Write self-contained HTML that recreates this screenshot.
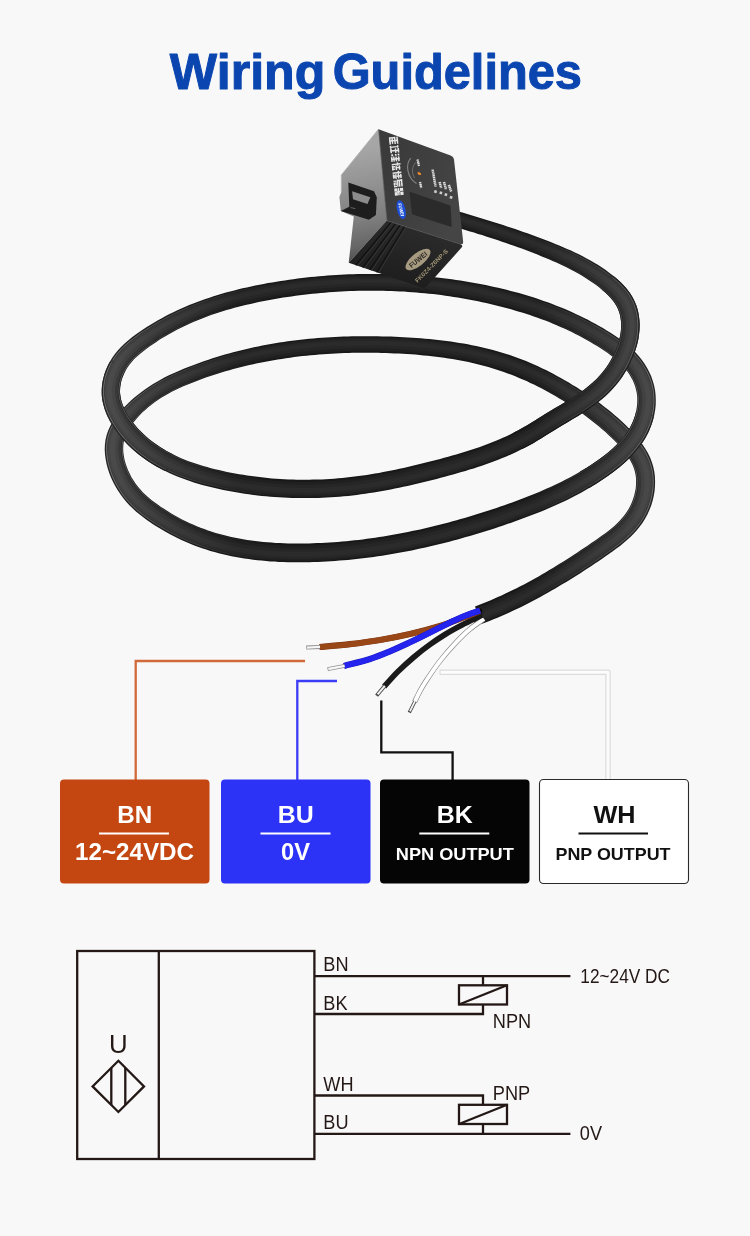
<!DOCTYPE html>
<html><head><meta charset="utf-8"><title>Wiring Guidelines</title>
<style>
html,body{margin:0;padding:0;background:#f8f8f8;}
body{width:750px;height:1236px;overflow:hidden;font-family:"Liberation Sans",sans-serif;}
svg{display:block;will-change:transform;}
</style></head><body>
<svg width="750" height="1236" viewBox="0 0 750 1236">
<rect width="750" height="1236" fill="#f8f8f8"/>
<g font-family="'Liberation Sans', sans-serif" font-weight="bold" font-size="50" fill="#0b46b0" stroke="#0b46b0" stroke-width="1" stroke-linejoin="round">
<text x="169.8" y="89" textLength="155.6" lengthAdjust="spacingAndGlyphs">Wiring</text>
<text x="332.7" y="89" textLength="249.3" lengthAdjust="spacingAndGlyphs">Guidelines</text>
</g>
<!-- CABLE -->
<defs>
<linearGradient id="cg0" gradientUnits="userSpaceOnUse" x1="100" y1="0" x2="660" y2="0">
<stop offset="0" stop-color="#262626"/><stop offset="0.2" stop-color="#181818"/><stop offset="0.8" stop-color="#181818"/><stop offset="1" stop-color="#242424"/></linearGradient>
<linearGradient id="cg1" gradientUnits="userSpaceOnUse" x1="100" y1="0" x2="660" y2="0">
<stop offset="0" stop-color="#3c3c3c"/><stop offset="0.1" stop-color="#303030"/><stop offset="0.25" stop-color="#202020"/><stop offset="0.78" stop-color="#202020"/><stop offset="0.9" stop-color="#2e2e2e"/><stop offset="1" stop-color="#3a3a3a"/></linearGradient>
<linearGradient id="cg2" gradientUnits="userSpaceOnUse" x1="100" y1="0" x2="660" y2="0">
<stop offset="0" stop-color="#484848"/><stop offset="0.1" stop-color="#383838"/><stop offset="0.25" stop-color="#262626"/><stop offset="0.78" stop-color="#262626"/><stop offset="0.9" stop-color="#363636"/><stop offset="1" stop-color="#464646"/></linearGradient>
<linearGradient id="cg3" gradientUnits="userSpaceOnUse" x1="100" y1="0" x2="660" y2="0">
<stop offset="0" stop-color="#4e4e4e"/><stop offset="0.1" stop-color="#3e3e3e"/><stop offset="0.25" stop-color="#2b2b2b"/><stop offset="0.78" stop-color="#2b2b2b"/><stop offset="0.9" stop-color="#3c3c3c"/><stop offset="1" stop-color="#4c4c4c"/></linearGradient>
<linearGradient id="cgs" gradientUnits="userSpaceOnUse" x1="100" y1="0" x2="660" y2="0">
<stop offset="0" stop-color="#8a8a8a" stop-opacity="0.75"/><stop offset="0.12" stop-color="#8a8a8a" stop-opacity="0.35"/><stop offset="0.3" stop-color="#8a8a8a" stop-opacity="0"/><stop offset="0.75" stop-color="#8a8a8a" stop-opacity="0"/><stop offset="0.9" stop-color="#8a8a8a" stop-opacity="0.35"/><stop offset="1" stop-color="#8a8a8a" stop-opacity="0.75"/></linearGradient>
</defs>
<polygon points="445.8,224.3 449.8,225.4 453.9,226.6 457.9,227.8 461.9,229.0 466.0,230.2 470.0,231.4 474.0,232.6 478.0,233.9 482.1,235.1 486.1,236.4 490.1,237.7 494.1,239.0 498.1,240.3 502.0,241.7 506.0,243.0 510.0,244.4 513.9,245.8 517.9,247.2 521.8,248.6 525.7,250.1 529.6,251.6 533.5,253.1 537.4,254.6 541.2,256.2 545.1,257.7 548.9,259.3 552.6,261.0 556.4,262.6 560.1,264.3 563.8,266.1 567.4,267.8 571.1,269.7 574.6,271.6 578.2,273.6 581.7,275.6 585.2,277.7 588.6,279.9 592.0,282.2 595.4,284.6 598.7,287.1 601.9,289.7 605.0,292.3 607.8,295.0 610.4,297.7 612.8,300.5 614.8,303.3 616.5,306.1 618.0,308.9 619.1,311.9 620.0,315.0 620.6,318.2 621.0,321.4 621.2,324.8 621.1,328.3 620.8,331.8 620.2,335.5 619.4,339.1 618.4,342.8 617.2,346.4 615.8,350.1 614.2,353.7 612.4,357.3 610.5,360.8 608.4,364.2 606.2,367.5 603.8,370.7 601.3,373.7 598.8,376.6 596.1,379.4 593.3,382.1 590.4,384.6 587.4,387.1 584.3,389.5 581.2,391.8 577.9,394.1 574.6,396.3 571.2,398.4 567.7,400.6 564.2,402.7 560.6,404.9 557.0,407.0 553.3,409.1 549.7,411.3 546.0,413.6 542.3,415.9 538.6,418.1 535.1,420.4 531.5,422.6 528.0,424.8 524.5,426.8 520.9,428.8 517.4,430.8 513.8,432.6 510.1,434.4 506.5,436.2 502.8,437.8 499.0,439.5 495.3,441.1 491.5,442.6 487.7,444.1 483.8,445.5 479.9,446.9 476.0,448.2 472.1,449.5 468.2,450.8 464.2,452.1 460.2,453.3 456.2,454.4 452.2,455.6 448.2,456.7 444.1,457.8 440.1,458.9 436.0,460.0 432.0,461.1 427.9,462.1 423.8,463.1 419.8,464.1 415.7,465.1 411.6,466.1 407.6,467.0 403.5,468.0 399.4,468.8 395.3,469.7 391.3,470.5 387.2,471.3 383.1,472.1 379.0,472.9 374.9,473.6 370.9,474.3 366.8,474.9 362.7,475.5 358.6,476.1 354.5,476.6 350.4,477.1 346.3,477.6 342.2,478.0 338.1,478.3 334.0,478.7 329.8,478.9 325.7,479.2 321.6,479.4 317.4,479.5 313.3,479.6 309.2,479.7 305.0,479.7 300.9,479.7 296.8,479.7 292.6,479.5 288.5,479.4 284.3,479.2 280.2,479.0 276.1,478.7 271.9,478.4 267.8,478.0 263.7,477.6 259.6,477.1 255.5,476.6 251.4,476.1 247.3,475.5 243.2,474.8 239.2,474.2 235.1,473.4 231.0,472.7 227.0,471.9 223.0,471.0 219.0,470.1 215.0,469.2 211.0,468.2 207.1,467.1 203.2,466.0 199.3,464.8 195.5,463.6 191.7,462.3 187.9,460.9 184.2,459.5 180.6,457.9 176.9,456.3 173.4,454.6 169.9,452.8 166.4,450.9 163.0,448.8 159.6,446.7 156.3,444.5 153.1,442.2 149.9,439.7 146.9,437.2 143.9,434.6 141.1,431.8 138.3,429.0 135.8,426.1 133.3,423.1 131.0,420.0 128.9,416.8 126.9,413.6 125.2,410.3 123.6,407.0 122.3,403.7 121.3,400.4 120.6,397.1 120.1,393.9 120.0,390.7 120.2,387.4 120.7,384.0 121.4,380.6 122.5,377.3 123.9,374.0 125.5,370.8 127.3,367.7 129.4,364.7 131.7,361.9 134.2,359.1 137.0,356.5 139.9,353.9 143.0,351.4 146.2,349.0 149.5,346.6 152.9,344.2 156.3,341.9 159.7,339.6 163.2,337.5 166.7,335.4 170.2,333.4 173.8,331.4 177.4,329.5 181.0,327.7 184.7,325.9 188.4,324.2 192.1,322.6 195.8,321.0 199.6,319.4 203.4,317.9 207.2,316.5 211.0,315.1 214.9,313.8 218.8,312.5 222.7,311.3 226.6,310.1 230.6,308.9 234.5,307.8 238.5,306.8 242.5,305.8 246.5,304.8 250.6,303.9 254.6,303.0 258.7,302.1 262.7,301.3 266.8,300.5 270.9,299.7 275.0,299.0 279.1,298.3 283.3,297.6 287.4,297.0 291.5,296.4 295.7,295.8 299.8,295.3 304.0,294.8 308.1,294.3 312.3,293.8 316.4,293.4 320.6,293.0 324.7,292.7 328.9,292.3 333.1,292.0 337.2,291.8 341.4,291.5 345.6,291.3 349.8,291.1 353.9,291.0 358.1,290.8 362.3,290.8 366.5,290.7 370.6,290.7 374.8,290.7 379.0,290.7 383.2,290.8 387.3,290.9 391.5,291.0 395.7,291.2 399.8,291.4 404.0,291.6 408.1,291.9 412.3,292.2 416.4,292.5 420.6,292.9 424.7,293.2 428.9,293.7 433.0,294.1 437.1,294.6 441.2,295.1 445.4,295.7 449.5,296.3 453.6,296.9 457.7,297.5 461.8,298.2 465.8,299.0 469.9,299.7 474.0,300.5 478.1,301.3 482.1,302.2 486.1,303.1 490.2,304.0 494.2,304.9 498.2,305.9 502.2,306.9 506.2,308.0 510.2,309.1 514.1,310.2 518.1,311.4 522.0,312.6 526.0,313.8 529.9,315.1 533.8,316.4 537.6,317.8 541.5,319.2 545.3,320.6 549.2,322.1 553.0,323.7 556.7,325.3 560.5,326.9 564.3,328.6 568.0,330.3 571.7,332.1 575.4,333.9 579.1,335.8 582.7,337.8 586.3,339.8 589.9,341.8 593.5,343.9 597.1,346.1 600.6,348.3 604.0,350.5 607.4,352.8 610.6,355.2 613.7,357.6 616.7,360.1 619.5,362.7 622.2,365.4 624.7,368.1 627.0,370.9 629.0,373.8 630.9,376.9 632.6,380.0 634.0,383.3 635.2,386.5 636.1,389.9 636.8,393.2 637.2,396.7 637.3,400.2 637.2,403.7 636.8,407.3 636.2,410.8 635.4,414.3 634.3,417.8 633.0,421.3 631.5,424.6 629.8,427.8 627.9,431.0 625.9,434.0 623.6,437.0 621.2,439.9 618.6,442.8 615.8,445.5 612.9,448.2 609.9,450.9 606.8,453.5 603.6,456.0 600.3,458.4 597.0,460.8 593.6,463.2 590.1,465.5 586.6,467.7 583.1,469.8 579.6,471.9 576.1,474.0 572.5,476.0 568.9,477.9 565.2,479.8 561.6,481.7 557.9,483.5 554.2,485.2 550.5,487.0 546.8,488.6 543.0,490.3 539.2,491.9 535.4,493.5 531.6,495.0 527.7,496.6 523.9,498.0 520.0,499.5 516.1,501.0 512.2,502.4 508.3,503.8 504.4,505.2 500.4,506.5 496.5,507.9 492.5,509.2 488.6,510.5 484.6,511.8 480.6,513.1 476.6,514.3 472.7,515.5 468.7,516.7 464.6,517.9 460.6,519.1 456.6,520.2 452.6,521.3 448.6,522.4 444.5,523.5 440.5,524.5 436.4,525.5 432.4,526.5 428.3,527.5 424.2,528.4 420.2,529.4 416.1,530.3 412.0,531.1 407.9,532.0 403.8,532.8 399.8,533.6 395.7,534.3 391.6,535.1 387.4,535.8 383.3,536.4 379.2,537.1 375.1,537.7 371.0,538.3 366.9,538.8 362.7,539.4 358.6,539.9 354.5,540.3 350.3,540.8 346.2,541.2 342.0,541.6 337.9,541.9 333.7,542.2 329.6,542.5 325.4,542.7 321.3,542.9 317.1,543.1 313.0,543.3 308.8,543.4 304.7,543.5 300.5,543.5 296.4,543.5 292.2,543.5 288.1,543.4 283.9,543.3 279.8,543.1 275.7,542.9 271.6,542.6 267.5,542.3 263.4,541.9 259.4,541.5 255.3,541.0 251.3,540.5 247.2,539.9 243.2,539.3 239.2,538.5 235.3,537.8 231.3,536.9 227.4,536.0 223.5,535.0 219.6,534.0 215.7,532.9 211.9,531.7 208.0,530.4 204.3,529.1 200.5,527.7 196.7,526.2 193.0,524.6 189.3,523.0 185.7,521.2 182.0,519.4 178.4,517.5 174.8,515.5 171.3,513.4 167.8,511.3 164.4,509.1 161.0,506.9 157.7,504.6 154.5,502.3 151.4,499.9 148.5,497.5 145.7,495.0 143.0,492.4 140.4,489.6 138.0,486.7 135.7,483.7 133.6,480.6 131.6,477.4 129.9,474.0 128.2,470.6 126.8,467.1 125.6,463.5 124.6,459.9 123.9,456.3 123.4,452.8 123.2,449.3 123.3,446.0 123.6,442.8 124.3,439.7 125.2,436.7 126.4,433.6 127.9,430.5 129.8,427.4 131.8,424.4 134.2,421.4 136.7,418.4 139.4,415.4 142.2,412.6 145.2,409.9 148.2,407.3 151.4,404.7 154.6,402.3 157.9,400.0 161.2,397.8 164.7,395.7 168.2,393.7 171.7,391.8 175.3,390.0 179.0,388.3 182.7,386.6 186.5,385.0 190.3,383.4 194.2,381.9 198.0,380.4 201.9,379.0 205.8,377.6 209.7,376.3 213.6,375.0 217.5,373.7 221.4,372.5 225.4,371.3 229.4,370.2 233.3,369.1 237.3,368.1 241.3,367.0 245.3,366.1 249.4,365.1 253.4,364.2 257.4,363.3 261.5,362.5 265.5,361.7 269.6,361.0 273.7,360.2 277.8,359.6 281.9,358.9 286.0,358.3 290.1,357.7 294.2,357.1 298.3,356.6 302.5,356.1 306.6,355.7 310.7,355.3 314.9,354.9 319.0,354.5 323.2,354.2 327.4,353.9 331.5,353.7 335.7,353.4 339.9,353.2 344.1,353.1 348.3,352.9 352.4,352.8 356.6,352.8 360.8,352.7 365.0,352.7 369.2,352.7 373.4,352.7 377.6,352.8 381.8,352.9 386.0,353.0 390.2,353.2 394.4,353.4 398.6,353.6 402.8,353.8 406.9,354.0 411.1,354.3 415.3,354.6 419.5,355.0 423.6,355.4 427.7,355.8 431.9,356.2 436.0,356.7 440.1,357.3 444.2,357.8 448.3,358.4 452.4,359.1 456.4,359.8 460.5,360.5 464.5,361.3 468.5,362.1 472.5,363.0 476.5,363.9 480.5,364.9 484.4,366.0 488.3,367.0 492.2,368.2 496.1,369.4 500.0,370.7 503.8,372.0 507.7,373.4 511.5,374.8 515.3,376.3 519.1,377.9 522.8,379.5 526.6,381.1 530.3,382.9 534.0,384.6 537.7,386.5 541.4,388.3 545.0,390.3 548.6,392.2 552.2,394.3 555.8,396.3 559.3,398.4 562.9,400.6 566.3,402.8 569.8,405.0 573.2,407.3 576.6,409.6 580.0,411.9 583.3,414.3 586.6,416.7 589.8,419.2 593.0,421.7 596.2,424.2 599.3,426.8 602.4,429.4 605.5,432.1 608.5,434.9 611.5,437.7 614.4,440.6 617.3,443.6 620.0,446.5 622.6,449.6 625.0,452.6 627.3,455.7 629.3,458.8 631.1,461.9 632.6,465.0 633.9,468.2 634.8,471.3 635.5,474.6 636.0,477.9 636.1,481.4 636.0,484.9 635.7,488.4 635.0,492.0 634.2,495.5 633.1,499.0 631.8,502.4 630.3,505.8 628.6,508.9 626.7,512.0 624.6,514.9 622.3,517.8 619.9,520.6 617.2,523.3 614.4,525.9 611.4,528.4 608.3,530.9 605.0,533.4 601.7,535.8 598.3,538.3 594.8,540.7 591.3,543.1 587.9,545.4 584.4,547.8 580.9,550.1 577.4,552.4 573.9,554.7 570.5,557.0 567.0,559.2 563.5,561.4 560.0,563.6 556.4,565.8 552.9,568.0 549.3,570.1 545.8,572.2 542.2,574.3 538.6,576.4 534.9,578.4 531.3,580.4 527.6,582.4 524.0,584.4 520.3,586.3 516.6,588.2 512.8,590.0 509.1,591.8 505.4,593.6 501.6,595.4 497.8,597.1 494.0,598.7 490.2,600.4 486.4,601.9 482.6,603.5 478.8,604.9 475.0,606.4 481.4,624.0 485.5,622.5 489.5,621.0 493.5,619.3 497.5,617.7 501.5,616.0 505.5,614.2 509.4,612.5 513.4,610.6 517.3,608.8 521.2,606.9 525.0,604.9 528.9,603.0 532.7,601.0 536.5,599.0 540.3,596.9 544.1,594.8 547.8,592.7 551.6,590.6 555.3,588.4 558.9,586.3 562.6,584.1 566.3,581.9 569.9,579.7 573.5,577.4 577.1,575.2 580.7,572.9 584.3,570.6 587.8,568.3 591.4,565.9 594.9,563.5 598.5,561.2 602.1,558.7 605.6,556.3 609.2,553.8 612.8,551.3 616.4,548.6 620.0,545.9 623.5,543.1 627.0,540.1 630.4,537.0 633.6,533.7 636.8,530.2 639.8,526.6 642.6,522.7 645.2,518.5 647.5,514.2 649.5,509.8 651.3,505.2 652.7,500.5 653.8,495.8 654.6,490.9 655.0,486.1 655.1,481.2 654.9,476.3 654.3,471.4 653.2,466.6 651.8,461.9 650.0,457.3 647.9,453.0 645.5,448.9 642.9,444.9 640.1,441.1 637.2,437.4 634.2,433.9 631.0,430.5 627.8,427.2 624.6,424.1 621.4,421.0 618.1,418.0 614.8,415.2 611.4,412.3 608.0,409.6 604.6,406.9 601.2,404.2 597.7,401.6 594.2,399.1 590.7,396.6 587.1,394.2 583.5,391.8 579.9,389.5 576.2,387.1 572.5,384.9 568.8,382.6 565.1,380.4 561.3,378.3 557.5,376.2 553.6,374.1 549.8,372.1 545.9,370.1 541.9,368.2 538.0,366.3 534.0,364.5 530.0,362.8 526.0,361.1 522.0,359.5 517.9,357.9 513.8,356.4 509.7,355.0 505.5,353.7 501.4,352.4 497.2,351.2 493.0,350.1 488.9,349.0 484.7,347.9 480.5,347.0 476.2,346.0 472.0,345.2 467.8,344.3 463.6,343.6 459.3,342.9 455.1,342.2 450.8,341.6 446.5,341.0 442.3,340.4 438.0,340.0 433.7,339.5 429.4,339.1 425.1,338.7 420.8,338.3 416.6,338.0 412.3,337.7 408.0,337.4 403.7,337.2 399.4,337.0 395.1,336.8 390.8,336.6 386.5,336.5 382.2,336.4 377.9,336.3 373.6,336.2 369.3,336.2 365.0,336.2 360.7,336.2 356.4,336.3 352.1,336.3 347.8,336.4 343.5,336.6 339.2,336.8 334.9,337.0 330.6,337.2 326.3,337.5 322.0,337.8 317.7,338.1 313.4,338.4 309.1,338.8 304.9,339.3 300.6,339.7 296.3,340.2 292.1,340.8 287.8,341.3 283.6,342.0 279.3,342.6 275.1,343.3 270.9,344.0 266.6,344.8 262.4,345.6 258.2,346.4 254.0,347.3 249.8,348.2 245.7,349.2 241.5,350.2 237.3,351.2 233.2,352.3 229.0,353.4 224.9,354.6 220.8,355.8 216.7,357.0 212.6,358.3 208.5,359.7 204.5,361.1 200.4,362.5 196.4,364.0 192.4,365.5 188.3,367.0 184.3,368.6 180.4,370.2 176.4,371.9 172.4,373.7 168.4,375.6 164.4,377.6 160.5,379.7 156.6,381.9 152.7,384.2 148.9,386.7 145.2,389.2 141.5,391.9 137.9,394.7 134.4,397.6 131.0,400.6 127.7,403.7 124.4,406.9 121.3,410.3 118.2,413.9 115.4,417.6 112.7,421.6 110.4,425.8 108.3,430.2 106.7,434.8 105.5,439.7 104.9,444.7 104.7,449.6 105.0,454.6 105.7,459.4 106.6,464.2 107.9,468.9 109.4,473.5 111.2,478.0 113.2,482.3 115.5,486.5 117.9,490.6 120.6,494.6 123.4,498.3 126.4,501.9 129.6,505.4 132.8,508.6 136.2,511.7 139.7,514.6 143.3,517.3 146.8,519.9 150.5,522.5 154.1,524.9 157.9,527.3 161.7,529.6 165.5,531.8 169.5,534.0 173.4,536.1 177.4,538.1 181.4,540.0 185.5,541.8 189.6,543.6 193.7,545.2 197.8,546.8 202.0,548.2 206.2,549.6 210.3,550.9 214.5,552.1 218.8,553.3 223.0,554.3 227.3,555.3 231.5,556.2 235.8,557.0 240.1,557.8 244.4,558.5 248.7,559.1 253.0,559.7 257.3,560.2 261.6,560.6 266.0,561.0 270.3,561.4 274.6,561.6 278.9,561.9 283.3,562.0 287.6,562.2 291.9,562.3 296.3,562.3 300.6,562.3 304.9,562.3 309.2,562.2 313.6,562.1 317.9,561.9 322.2,561.7 326.5,561.5 330.8,561.3 335.1,561.0 339.4,560.6 343.7,560.3 347.9,559.9 352.2,559.5 356.5,559.0 360.8,558.5 365.0,558.0 369.3,557.5 373.6,556.9 377.8,556.3 382.1,555.7 386.3,555.0 390.6,554.3 394.8,553.6 399.0,552.8 403.2,552.0 407.5,551.2 411.7,550.4 415.9,549.5 420.1,548.6 424.3,547.7 428.4,546.8 432.6,545.8 436.8,544.8 441.0,543.8 445.1,542.7 449.3,541.7 453.4,540.6 457.6,539.4 461.7,538.3 465.8,537.1 469.9,536.0 474.0,534.7 478.1,533.5 482.2,532.3 486.3,531.0 490.4,529.7 494.4,528.4 498.5,527.0 502.5,525.7 506.5,524.3 510.6,522.9 514.6,521.5 518.6,520.1 522.6,518.6 526.6,517.1 530.6,515.6 534.6,514.1 538.6,512.5 542.5,510.9 546.5,509.2 550.4,507.6 554.4,505.8 558.3,504.1 562.2,502.2 566.1,500.4 570.0,498.4 573.8,496.5 577.7,494.5 581.5,492.4 585.3,490.2 589.1,488.0 592.9,485.8 596.6,483.5 600.3,481.1 604.0,478.6 607.7,476.1 611.3,473.5 614.9,470.8 618.5,467.9 622.0,465.0 625.5,462.0 628.8,458.8 632.1,455.5 635.2,452.1 638.1,448.5 640.9,444.8 643.5,440.9 646.0,436.9 648.2,432.7 650.1,428.3 651.8,423.8 653.2,419.2 654.4,414.5 655.2,409.8 655.7,405.0 655.8,400.1 655.6,395.3 655.1,390.4 654.1,385.6 652.8,380.9 651.2,376.3 649.2,371.9 647.0,367.7 644.4,363.6 641.7,359.7 638.7,356.1 635.6,352.6 632.3,349.3 628.9,346.2 625.3,343.2 621.7,340.4 618.0,337.8 614.3,335.2 610.5,332.7 606.7,330.4 602.9,328.1 599.1,325.9 595.2,323.8 591.3,321.7 587.5,319.6 583.6,317.7 579.6,315.8 575.7,313.9 571.7,312.1 567.8,310.3 563.8,308.6 559.8,307.0 555.8,305.4 551.7,303.8 547.7,302.3 543.6,300.9 539.6,299.5 535.5,298.1 531.4,296.8 527.3,295.5 523.1,294.3 519.0,293.1 514.9,292.0 510.7,290.9 506.6,289.8 502.4,288.8 498.2,287.8 494.1,286.9 489.9,286.0 485.7,285.1 481.5,284.3 477.3,283.5 473.1,282.7 468.8,281.9 464.6,281.2 460.4,280.6 456.1,279.9 451.9,279.3 447.7,278.7 443.4,278.2 439.1,277.7 434.9,277.2 430.6,276.8 426.3,276.3 422.1,276.0 417.8,275.6 413.5,275.3 409.2,275.0 404.9,274.7 400.7,274.5 396.4,274.3 392.1,274.2 387.8,274.0 383.5,274.0 379.2,273.9 374.9,273.9 370.6,273.9 366.3,273.9 362.0,274.0 357.7,274.1 353.4,274.2 349.1,274.3 344.8,274.5 340.5,274.7 336.2,275.0 331.9,275.3 327.6,275.6 323.3,275.9 319.1,276.3 314.8,276.7 310.5,277.1 306.2,277.6 302.0,278.1 297.7,278.6 293.4,279.2 289.2,279.8 284.9,280.4 280.7,281.0 276.4,281.7 272.2,282.4 267.9,283.1 263.7,283.9 259.5,284.7 255.3,285.6 251.1,286.4 246.8,287.4 242.6,288.3 238.5,289.3 234.3,290.4 230.1,291.5 226.0,292.6 221.8,293.8 217.7,295.0 213.6,296.3 209.5,297.7 205.4,299.0 201.3,300.5 197.3,302.0 193.3,303.5 189.3,305.1 185.3,306.8 181.3,308.5 177.4,310.3 173.4,312.2 169.5,314.1 165.7,316.1 161.8,318.2 158.0,320.3 154.2,322.5 150.5,324.8 146.7,327.1 143.0,329.5 139.3,332.0 135.7,334.6 132.0,337.3 128.4,340.2 124.9,343.3 121.5,346.5 118.2,350.0 115.1,353.8 112.2,357.8 109.7,362.0 107.4,366.4 105.5,371.0 104.0,375.7 102.8,380.5 102.0,385.4 101.7,390.4 101.8,395.4 102.4,400.3 103.5,405.1 104.9,409.8 106.6,414.3 108.6,418.6 110.9,422.8 113.3,426.8 115.9,430.7 118.7,434.5 121.7,438.1 124.8,441.6 128.0,444.9 131.4,448.2 134.8,451.2 138.4,454.2 142.0,457.0 145.8,459.7 149.5,462.2 153.4,464.6 157.3,466.9 161.2,469.1 165.2,471.1 169.2,473.0 173.2,474.8 177.3,476.5 181.4,478.1 185.5,479.6 189.7,481.1 193.8,482.4 198.0,483.7 202.2,484.9 206.4,486.0 210.6,487.0 214.8,488.0 219.0,489.0 223.3,489.9 227.5,490.7 231.8,491.5 236.0,492.3 240.3,493.0 244.6,493.7 248.9,494.3 253.2,494.9 257.5,495.4 261.8,495.9 266.1,496.3 270.4,496.7 274.7,497.0 279.0,497.3 283.4,497.6 287.7,497.8 292.0,497.9 296.4,498.1 300.7,498.1 305.0,498.1 309.4,498.1 313.7,498.0 318.0,497.9 322.4,497.8 326.7,497.6 331.0,497.3 335.3,497.0 339.6,496.7 343.9,496.3 348.2,495.9 352.5,495.4 356.8,494.9 361.0,494.3 365.3,493.7 369.6,493.1 373.8,492.4 378.0,491.7 382.3,491.0 386.5,490.2 390.7,489.4 394.9,488.6 399.1,487.7 403.3,486.8 407.5,485.9 411.7,485.0 415.8,484.0 420.0,483.0 424.1,482.0 428.3,481.0 432.4,479.9 436.6,478.9 440.7,477.8 444.8,476.7 449.0,475.6 453.1,474.5 457.2,473.3 461.4,472.1 465.5,470.9 469.6,469.6 473.7,468.4 477.8,467.0 481.9,465.7 486.0,464.3 490.1,462.8 494.2,461.3 498.2,459.7 502.3,458.1 506.3,456.5 510.3,454.7 514.2,452.9 518.2,451.1 522.1,449.1 526.0,447.1 529.9,445.0 533.7,442.9 537.5,440.6 541.2,438.3 544.9,436.1 548.5,433.8 552.1,431.5 555.6,429.4 559.2,427.2 562.8,425.1 566.4,422.9 570.0,420.8 573.7,418.6 577.3,416.4 581.0,414.1 584.7,411.8 588.3,409.4 591.9,406.9 595.4,404.3 599.0,401.6 602.4,398.7 605.8,395.7 609.1,392.5 612.3,389.2 615.4,385.7 618.4,382.0 621.3,378.2 623.9,374.2 626.5,370.1 628.8,365.9 630.9,361.6 632.9,357.2 634.6,352.7 636.1,348.1 637.4,343.5 638.4,338.8 639.1,334.1 639.5,329.4 639.7,324.6 639.4,319.9 638.8,315.2 637.9,310.5 636.5,305.9 634.7,301.5 632.5,297.1 629.9,293.0 626.9,289.1 623.8,285.5 620.4,282.0 616.9,278.8 613.2,275.8 609.5,272.9 605.7,270.1 602.0,267.6 598.2,265.1 594.3,262.8 590.5,260.5 586.6,258.4 582.7,256.3 578.8,254.3 574.9,252.5 571.0,250.6 567.1,248.9 563.2,247.2 559.2,245.5 555.3,243.9 551.3,242.3 547.4,240.7 543.4,239.2 539.4,237.7 535.4,236.2 531.4,234.8 527.4,233.3 523.3,231.9 519.3,230.5 515.2,229.1 511.2,227.8 507.1,226.4 503.1,225.1 499.0,223.8 494.9,222.5 490.9,221.2 486.8,220.0 482.7,218.7 478.6,217.5 474.6,216.2 470.5,215.0 466.4,213.8 462.4,212.6 458.3,211.4 454.2,210.3 450.2,209.1" fill="url(#cg0)"/>
<polygon points="446.3,222.4 450.4,223.6 454.4,224.8 458.4,226.0 462.5,227.2 466.5,228.4 470.5,229.6 474.6,230.8 478.6,232.1 482.6,233.3 486.6,234.6 490.7,235.9 494.7,237.2 498.7,238.5 502.7,239.8 506.6,241.2 510.6,242.6 514.6,243.9 518.5,245.4 522.5,246.8 526.4,248.3 530.3,249.7 534.2,251.2 538.1,252.8 542.0,254.3 545.8,255.9 549.6,257.5 553.4,259.1 557.2,260.8 561.0,262.5 564.7,264.2 568.3,266.0 572.0,267.8 575.6,269.8 579.2,271.7 582.8,273.8 586.3,275.9 589.8,278.2 593.2,280.5 596.6,282.9 600.0,285.4 603.3,288.0 606.4,290.7 609.3,293.4 612.0,296.2 614.5,299.1 616.6,302.0 618.5,305.0 620.0,308.0 621.2,311.2 622.1,314.4 622.8,317.8 623.2,321.3 623.4,324.8 623.3,328.4 623.0,332.1 622.4,335.9 621.6,339.6 620.5,343.4 619.3,347.2 617.8,350.9 616.2,354.7 614.4,358.3 612.4,361.9 610.3,365.4 608.0,368.8 605.6,372.1 603.0,375.2 600.4,378.2 597.6,381.0 594.8,383.7 591.8,386.3 588.8,388.8 585.7,391.3 582.4,393.6 579.1,395.9 575.8,398.1 572.3,400.3 568.9,402.5 565.3,404.6 561.7,406.8 558.1,408.9 554.5,411.1 550.8,413.2 547.1,415.5 543.5,417.7 539.8,420.0 536.2,422.3 532.7,424.5 529.1,426.7 525.6,428.8 522.0,430.8 518.4,432.7 514.8,434.6 511.1,436.4 507.4,438.2 503.7,439.9 499.9,441.5 496.1,443.1 492.3,444.7 488.4,446.1 484.6,447.6 480.7,449.0 476.7,450.3 472.8,451.6 468.8,452.9 464.9,454.2 460.9,455.4 456.8,456.6 452.8,457.7 448.8,458.9 444.7,460.0 440.7,461.1 436.6,462.1 432.5,463.2 428.4,464.3 424.4,465.3 420.3,466.3 416.2,467.3 412.1,468.2 408.1,469.2 404.0,470.1 399.9,471.0 395.8,471.9 391.7,472.7 387.6,473.5 383.5,474.3 379.4,475.0 375.3,475.8 371.2,476.4 367.1,477.1 363.0,477.7 358.9,478.3 354.8,478.8 350.6,479.3 346.5,479.7 342.4,480.2 338.3,480.5 334.1,480.9 330.0,481.1 325.8,481.4 321.7,481.6 317.5,481.7 313.4,481.9 309.2,481.9 305.0,481.9 300.9,481.9 296.7,481.9 292.5,481.8 288.4,481.6 284.2,481.4 280.1,481.2 275.9,480.9 271.8,480.6 267.6,480.2 263.5,479.8 259.3,479.3 255.2,478.8 251.1,478.3 247.0,477.7 242.9,477.0 238.8,476.3 234.7,475.6 230.6,474.8 226.6,474.0 222.5,473.2 218.5,472.3 214.4,471.3 210.5,470.3 206.5,469.2 202.5,468.1 198.6,466.9 194.8,465.7 190.9,464.4 187.1,463.0 183.4,461.5 179.7,460.0 176.0,458.3 172.4,456.6 168.8,454.7 165.3,452.8 161.8,450.7 158.4,448.6 155.1,446.3 151.8,444.0 148.6,441.5 145.4,438.9 142.4,436.2 139.5,433.4 136.7,430.5 134.1,427.5 131.6,424.5 129.2,421.3 127.0,418.0 125.0,414.7 123.2,411.3 121.6,407.9 120.2,404.4 119.2,401.0 118.4,397.5 117.9,394.1 117.8,390.6 118.0,387.1 118.5,383.6 119.3,380.0 120.5,376.5 121.9,373.1 123.6,369.7 125.5,366.5 127.7,363.4 130.1,360.5 132.7,357.6 135.5,354.9 138.5,352.3 141.7,349.7 144.9,347.2 148.3,344.8 151.7,342.4 155.1,340.1 158.6,337.9 162.1,335.7 165.6,333.6 169.2,331.6 172.8,329.6 176.5,327.7 180.1,325.9 183.8,324.1 187.5,322.4 191.3,320.7 195.0,319.1 198.8,317.5 202.7,316.0 206.5,314.6 210.4,313.2 214.3,311.8 218.2,310.6 222.1,309.3 226.0,308.1 230.0,307.0 234.0,305.9 238.0,304.8 242.0,303.8 246.1,302.8 250.1,301.9 254.2,301.0 258.3,300.1 262.3,299.3 266.4,298.5 270.6,297.7 274.7,297.0 278.8,296.3 282.9,295.6 287.1,295.0 291.2,294.4 295.4,293.8 299.6,293.3 303.7,292.8 307.9,292.3 312.0,291.8 316.2,291.4 320.4,291.0 324.6,290.7 328.8,290.3 332.9,290.0 337.1,289.7 341.3,289.5 345.5,289.3 349.7,289.1 353.9,289.0 358.1,288.8 362.3,288.7 366.4,288.7 370.6,288.7 374.8,288.7 379.0,288.7 383.2,288.8 387.4,288.9 391.6,289.0 395.7,289.2 399.9,289.4 404.1,289.6 408.3,289.9 412.4,290.2 416.6,290.5 420.8,290.8 424.9,291.2 429.1,291.6 433.2,292.1 437.4,292.6 441.5,293.1 445.6,293.7 449.8,294.2 453.9,294.9 458.0,295.5 462.1,296.2 466.2,296.9 470.3,297.7 474.4,298.5 478.5,299.3 482.5,300.1 486.6,301.0 490.6,301.9 494.7,302.9 498.7,303.9 502.7,304.9 506.8,305.9 510.7,307.0 514.7,308.2 518.7,309.3 522.7,310.5 526.6,311.8 530.5,313.1 534.4,314.4 538.3,315.8 542.2,317.2 546.1,318.6 549.9,320.1 553.8,321.7 557.6,323.3 561.4,324.9 565.2,326.6 568.9,328.3 572.7,330.1 576.4,332.0 580.1,333.9 583.8,335.8 587.4,337.8 591.0,339.9 594.6,342.0 598.2,344.2 601.8,346.4 605.3,348.7 608.7,351.0 612.0,353.4 615.1,355.9 618.2,358.5 621.1,361.1 623.8,363.8 626.4,366.6 628.7,369.6 630.9,372.6 632.8,375.8 634.6,379.0 636.1,382.4 637.3,385.9 638.3,389.4 639.0,392.9 639.4,396.5 639.6,400.2 639.4,403.9 639.0,407.6 638.4,411.3 637.5,414.9 636.4,418.6 635.1,422.1 633.5,425.6 631.8,428.9 629.8,432.2 627.7,435.3 625.3,438.4 622.8,441.4 620.2,444.3 617.4,447.1 614.5,449.9 611.4,452.6 608.2,455.2 605.0,457.8 601.7,460.2 598.3,462.7 594.8,465.0 591.3,467.3 587.8,469.6 584.3,471.8 580.8,473.9 577.2,475.9 573.6,478.0 569.9,479.9 566.3,481.8 562.6,483.7 558.9,485.5 555.2,487.3 551.4,489.0 547.7,490.7 543.9,492.4 540.1,494.0 536.3,495.6 532.4,497.1 528.6,498.7 524.7,500.2 520.8,501.6 516.9,503.1 513.0,504.5 509.1,505.9 505.1,507.3 501.2,508.7 497.2,510.0 493.2,511.3 489.3,512.6 485.3,513.9 481.3,515.2 477.3,516.5 473.3,517.7 469.3,518.9 465.3,520.1 461.3,521.2 457.2,522.4 453.2,523.5 449.1,524.6 445.1,525.7 441.0,526.7 437.0,527.7 432.9,528.7 428.8,529.7 424.8,530.6 420.7,531.6 416.6,532.5 412.5,533.3 408.4,534.2 404.3,535.0 400.2,535.8 396.1,536.5 391.9,537.3 387.8,538.0 383.7,538.7 379.6,539.3 375.4,539.9 371.3,540.5 367.1,541.1 363.0,541.6 358.9,542.1 354.7,542.6 350.5,543.0 346.4,543.4 342.2,543.8 338.1,544.2 333.9,544.5 329.7,544.7 325.6,545.0 321.4,545.2 317.2,545.4 313.1,545.5 308.9,545.6 304.7,545.7 300.5,545.8 296.4,545.8 292.2,545.7 288.0,545.6 283.9,545.5 279.7,545.3 275.6,545.1 271.4,544.9 267.3,544.5 263.2,544.2 259.1,543.7 255.0,543.3 251.0,542.7 246.9,542.1 242.9,541.5 238.8,540.8 234.8,540.0 230.8,539.1 226.9,538.2 222.9,537.2 219.0,536.2 215.1,535.1 211.2,533.9 207.3,532.6 203.5,531.2 199.7,529.8 195.9,528.3 192.1,526.7 188.4,525.0 184.7,523.2 181.0,521.4 177.3,519.5 173.7,517.5 170.1,515.4 166.6,513.2 163.1,511.0 159.7,508.8 156.4,506.5 153.1,504.1 150.0,501.7 147.0,499.2 144.1,496.6 141.4,493.9 138.8,491.1 136.3,488.1 133.9,485.0 131.7,481.8 129.7,478.5 127.9,475.0 126.2,471.5 124.7,467.9 123.5,464.2 122.5,460.5 121.7,456.7 121.2,453.0 121.0,449.4 121.1,445.8 121.5,442.4 122.1,439.1 123.1,435.9 124.5,432.7 126.1,429.4 128.0,426.3 130.2,423.1 132.6,420.0 135.2,417.0 138.0,414.0 140.9,411.2 143.9,408.4 147.0,405.7 150.2,403.2 153.4,400.7 156.8,398.4 160.2,396.1 163.7,394.0 167.3,392.0 170.9,390.1 174.5,388.3 178.2,386.5 182.0,384.8 185.8,383.2 189.6,381.7 193.5,380.1 197.3,378.6 201.2,377.2 205.1,375.8 209.0,374.4 213.0,373.1 216.9,371.9 220.9,370.7 224.8,369.5 228.8,368.3 232.8,367.2 236.8,366.2 240.8,365.1 244.9,364.2 248.9,363.2 253.0,362.3 257.0,361.4 261.1,360.6 265.2,359.8 269.2,359.0 273.3,358.3 277.4,357.6 281.6,356.9 285.7,356.3 289.8,355.7 293.9,355.2 298.1,354.7 302.2,354.2 306.4,353.7 310.5,353.3 314.7,352.9 318.9,352.6 323.1,352.2 327.2,351.9 331.4,351.7 335.6,351.5 339.8,351.3 344.0,351.1 348.2,351.0 352.4,350.9 356.6,350.8 360.8,350.7 365.0,350.7 369.2,350.7 373.4,350.8 377.6,350.8 381.8,350.9 386.1,351.0 390.3,351.2 394.5,351.4 398.7,351.6 402.9,351.8 407.1,352.0 411.3,352.3 415.4,352.6 419.6,353.0 423.8,353.4 427.9,353.8 432.1,354.2 436.2,354.7 440.4,355.2 444.5,355.8 448.6,356.4 452.7,357.1 456.8,357.8 460.8,358.5 464.9,359.3 468.9,360.1 473.0,361.0 477.0,361.9 481.0,362.9 484.9,363.9 488.9,365.0 492.8,366.2 496.8,367.4 500.7,368.6 504.5,370.0 508.4,371.4 512.3,372.8 516.1,374.3 519.9,375.9 523.7,377.5 527.5,379.2 531.2,380.9 535.0,382.7 538.7,384.5 542.4,386.4 546.1,388.3 549.7,390.3 553.3,392.3 556.9,394.4 560.5,396.5 564.0,398.7 567.5,400.9 571.0,403.2 574.5,405.4 577.9,407.8 581.3,410.1 584.6,412.5 587.9,414.9 591.2,417.4 594.4,419.9 597.6,422.4 600.8,425.1 603.9,427.7 607.0,430.5 610.0,433.2 613.0,436.1 616.0,439.0 618.9,442.0 621.7,445.0 624.4,448.1 626.9,451.2 629.2,454.4 631.3,457.6 633.1,460.8 634.7,464.1 636.0,467.4 637.0,470.8 637.8,474.2 638.2,477.7 638.4,481.4 638.3,485.0 637.9,488.7 637.3,492.4 636.4,496.1 635.3,499.8 633.9,503.3 632.4,506.8 630.6,510.1 628.6,513.3 626.4,516.3 624.1,519.3 621.5,522.1 618.8,524.9 615.9,527.6 612.8,530.2 609.7,532.7 606.4,535.2 603.0,537.7 599.6,540.1 596.1,542.5 592.6,545.0 589.1,547.3 585.6,549.7 582.2,552.0 578.7,554.3 575.2,556.6 571.7,558.9 568.2,561.1 564.7,563.4 561.2,565.6 557.6,567.7 554.1,569.9 550.5,572.0 546.9,574.2 543.3,576.3 539.7,578.3 536.0,580.4 532.4,582.4 528.7,584.4 525.0,586.3 521.3,588.3 517.6,590.2 513.8,592.0 510.1,593.9 506.3,595.7 502.5,597.4 498.7,599.1 494.9,600.8 491.1,602.4 487.3,604.0 483.5,605.6 479.6,607.0 475.8,608.5 480.9,622.6 485.0,621.1 489.0,619.6 493.0,618.0 497.0,616.3 500.9,614.6 504.9,612.9 508.8,611.1 512.7,609.3 516.6,607.4 520.5,605.5 524.3,603.6 528.2,601.6 532.0,599.7 535.8,597.6 539.6,595.6 543.4,593.5 547.1,591.4 550.8,589.3 554.5,587.1 558.2,585.0 561.8,582.8 565.5,580.6 569.1,578.4 572.7,576.2 576.3,573.9 579.9,571.6 583.4,569.3 587.0,567.0 590.6,564.6 594.1,562.3 597.7,559.9 601.2,557.5 604.7,555.1 608.3,552.6 611.9,550.0 615.5,547.4 619.0,544.7 622.5,541.9 626.0,539.0 629.3,535.9 632.5,532.6 635.7,529.2 638.6,525.6 641.4,521.8 643.9,517.8 646.1,513.6 648.1,509.2 649.8,504.7 651.2,500.1 652.3,495.5 653.1,490.7 653.5,486.0 653.6,481.2 653.4,476.4 652.8,471.7 651.8,467.0 650.4,462.4 648.6,458.0 646.5,453.7 644.2,449.6 641.7,445.7 638.9,442.0 636.0,438.4 633.0,434.9 629.9,431.5 626.8,428.3 623.6,425.2 620.4,422.1 617.1,419.2 613.8,416.3 610.5,413.5 607.1,410.7 603.7,408.0 600.3,405.4 596.8,402.9 593.3,400.3 589.8,397.9 586.3,395.4 582.7,393.1 579.1,390.7 575.4,388.4 571.8,386.1 568.1,383.9 564.3,381.7 560.6,379.6 556.8,377.5 552.9,375.4 549.1,373.4 545.2,371.4 541.3,369.5 537.4,367.7 533.4,365.9 529.5,364.1 525.4,362.5 521.4,360.8 517.4,359.3 513.3,357.8 509.2,356.4 505.1,355.1 501.0,353.8 496.8,352.6 492.7,351.4 488.5,350.3 484.3,349.3 480.1,348.3 475.9,347.4 471.7,346.5 467.5,345.7 463.3,344.9 459.1,344.2 454.8,343.5 450.6,342.9 446.3,342.3 442.1,341.8 437.8,341.3 433.6,340.8 429.3,340.4 425.0,340.0 420.7,339.6 416.5,339.3 412.2,339.0 407.9,338.8 403.6,338.5 399.3,338.3 395.0,338.1 390.8,337.9 386.5,337.8 382.2,337.7 377.9,337.6 373.6,337.5 369.3,337.5 365.0,337.5 360.7,337.5 356.4,337.6 352.1,337.7 347.8,337.8 343.5,337.9 339.2,338.1 334.9,338.3 330.7,338.5 326.4,338.8 322.1,339.1 317.8,339.4 313.5,339.8 309.3,340.2 305.0,340.6 300.7,341.1 296.5,341.6 292.2,342.1 288.0,342.7 283.8,343.3 279.5,343.9 275.3,344.6 271.1,345.3 266.9,346.1 262.7,346.9 258.5,347.7 254.3,348.6 250.1,349.5 245.9,350.4 241.8,351.4 237.6,352.5 233.5,353.6 229.4,354.7 225.3,355.8 221.2,357.0 217.1,358.3 213.0,359.6 208.9,360.9 204.9,362.3 200.9,363.7 196.8,365.2 192.8,366.7 188.8,368.2 184.8,369.8 180.9,371.4 176.9,373.1 172.9,374.9 168.9,376.7 165.0,378.7 161.1,380.8 157.2,383.0 153.4,385.3 149.7,387.7 146.0,390.3 142.3,392.9 138.8,395.7 135.3,398.6 131.9,401.5 128.6,404.6 125.4,407.9 122.3,411.2 119.3,414.7 116.5,418.4 113.9,422.3 111.6,426.4 109.7,430.7 108.1,435.2 106.9,439.9 106.4,444.8 106.2,449.6 106.5,454.4 107.1,459.2 108.1,463.9 109.3,468.5 110.8,473.0 112.6,477.4 114.6,481.7 116.8,485.8 119.2,489.8 121.8,493.7 124.6,497.4 127.5,501.0 130.6,504.3 133.9,507.5 137.2,510.6 140.6,513.4 144.1,516.1 147.7,518.7 151.3,521.2 155.0,523.6 158.7,526.0 162.5,528.3 166.3,530.5 170.2,532.7 174.1,534.8 178.1,536.8 182.1,538.7 186.1,540.5 190.2,542.2 194.2,543.8 198.3,545.4 202.5,546.8 206.6,548.2 210.8,549.5 215.0,550.7 219.1,551.8 223.4,552.8 227.6,553.8 231.8,554.7 236.1,555.5 240.3,556.3 244.6,557.0 248.9,557.6 253.2,558.2 257.5,558.7 261.8,559.1 266.1,559.5 270.4,559.9 274.7,560.1 279.0,560.4 283.3,560.5 287.7,560.7 292.0,560.8 296.3,560.8 300.6,560.8 304.9,560.8 309.2,560.7 313.5,560.6 317.8,560.4 322.1,560.2 326.4,560.0 330.7,559.8 335.0,559.5 339.3,559.1 343.5,558.8 347.8,558.4 352.1,558.0 356.3,557.5 360.6,557.1 364.9,556.5 369.1,556.0 373.4,555.4 377.6,554.8 381.8,554.2 386.1,553.5 390.3,552.8 394.5,552.1 398.7,551.3 403.0,550.6 407.2,549.7 411.4,548.9 415.6,548.0 419.8,547.2 423.9,546.2 428.1,545.3 432.3,544.3 436.4,543.3 440.6,542.3 444.7,541.3 448.9,540.2 453.0,539.1 457.2,538.0 461.3,536.9 465.4,535.7 469.5,534.5 473.6,533.3 477.7,532.1 481.8,530.8 485.8,529.5 489.9,528.3 493.9,526.9 498.0,525.6 502.0,524.3 506.1,522.9 510.1,521.5 514.1,520.1 518.1,518.6 522.1,517.2 526.1,515.7 530.1,514.2 534.0,512.7 538.0,511.1 542.0,509.5 545.9,507.8 549.9,506.2 553.8,504.5 557.7,502.7 561.6,500.9 565.4,499.0 569.3,497.1 573.2,495.1 577.0,493.1 580.8,491.1 584.6,488.9 588.3,486.8 592.1,484.5 595.8,482.2 599.5,479.8 603.2,477.4 606.8,474.9 610.4,472.3 614.0,469.6 617.6,466.8 621.1,463.9 624.5,460.9 627.8,457.8 631.0,454.5 634.0,451.1 637.0,447.6 639.7,444.0 642.3,440.1 644.7,436.2 646.8,432.0 648.8,427.7 650.4,423.3 651.8,418.8 652.9,414.2 653.7,409.6 654.2,404.9 654.4,400.1 654.2,395.4 653.6,390.6 652.7,385.9 651.4,381.3 649.8,376.9 647.9,372.6 645.7,368.4 643.2,364.4 640.5,360.6 637.6,357.0 634.5,353.6 631.3,350.4 627.9,347.3 624.4,344.4 620.8,341.6 617.2,339.0 613.4,336.4 609.7,334.0 605.9,331.6 602.1,329.4 598.3,327.2 594.5,325.0 590.7,323.0 586.8,320.9 582.9,319.0 579.0,317.1 575.1,315.2 571.1,313.4 567.2,311.7 563.2,310.0 559.2,308.3 555.2,306.7 551.2,305.2 547.2,303.7 543.1,302.2 539.1,300.8 535.0,299.5 530.9,298.2 526.8,296.9 522.7,295.7 518.6,294.5 514.5,293.4 510.4,292.3 506.2,291.2 502.1,290.2 497.9,289.2 493.7,288.3 489.6,287.3 485.4,286.5 481.2,285.6 477.0,284.8 472.8,284.0 468.6,283.3 464.4,282.6 460.2,281.9 455.9,281.3 451.7,280.7 447.5,280.1 443.2,279.5 439.0,279.0 434.7,278.6 430.5,278.1 426.2,277.7 422.0,277.3 417.7,277.0 413.4,276.6 409.1,276.3 404.9,276.1 400.6,275.9 396.3,275.7 392.0,275.5 387.7,275.4 383.5,275.3 379.2,275.2 374.9,275.2 370.6,275.2 366.3,275.2 362.0,275.3 357.7,275.4 353.4,275.5 349.1,275.7 344.9,275.9 340.6,276.1 336.3,276.3 332.0,276.6 327.7,276.9 323.5,277.3 319.2,277.6 314.9,278.0 310.6,278.5 306.4,278.9 302.1,279.4 297.9,280.0 293.6,280.5 289.4,281.1 285.1,281.7 280.9,282.4 276.6,283.0 272.4,283.7 268.2,284.5 264.0,285.2 259.7,286.0 255.5,286.9 251.3,287.8 247.1,288.7 243.0,289.6 238.8,290.6 234.6,291.7 230.5,292.8 226.3,293.9 222.2,295.1 218.1,296.3 214.0,297.6 209.9,298.9 205.9,300.3 201.8,301.8 197.8,303.3 193.8,304.8 189.8,306.4 185.8,308.1 181.9,309.8 177.9,311.6 174.1,313.5 170.2,315.4 166.3,317.4 162.5,319.4 158.7,321.5 154.9,323.7 151.2,326.0 147.5,328.3 143.8,330.7 140.1,333.2 136.5,335.8 132.9,338.5 129.3,341.3 125.9,344.3 122.5,347.5 119.3,351.0 116.2,354.7 113.4,358.6 110.9,362.7 108.7,367.0 106.9,371.5 105.4,376.1 104.2,380.8 103.5,385.6 103.1,390.4 103.3,395.3 103.9,400.1 104.9,404.7 106.3,409.3 108.0,413.7 109.9,418.0 112.1,422.1 114.5,426.0 117.1,429.9 119.9,433.6 122.8,437.1 125.9,440.6 129.1,443.9 132.4,447.1 135.8,450.1 139.3,453.0 142.9,455.8 146.6,458.5 150.4,461.0 154.2,463.4 158.0,465.6 161.9,467.8 165.8,469.8 169.8,471.7 173.8,473.5 177.9,475.2 181.9,476.8 186.0,478.3 190.1,479.7 194.3,481.0 198.4,482.3 202.6,483.4 206.8,484.6 211.0,485.6 215.2,486.6 219.4,487.5 223.6,488.4 227.8,489.3 232.0,490.1 236.3,490.8 240.5,491.6 244.8,492.2 249.1,492.8 253.3,493.4 257.6,493.9 261.9,494.4 266.2,494.8 270.5,495.2 274.8,495.6 279.1,495.9 283.5,496.1 287.8,496.3 292.1,496.5 296.4,496.6 300.7,496.6 305.0,496.7 309.4,496.6 313.7,496.6 318.0,496.5 322.3,496.3 326.6,496.1 330.9,495.8 335.2,495.5 339.5,495.2 343.8,494.8 348.1,494.4 352.3,493.9 356.6,493.4 360.8,492.9 365.1,492.3 369.3,491.6 373.6,491.0 377.8,490.3 382.0,489.5 386.2,488.8 390.4,488.0 394.6,487.1 398.8,486.3 403.0,485.4 407.2,484.5 411.3,483.5 415.5,482.6 419.6,481.6 423.8,480.6 427.9,479.6 432.1,478.5 436.2,477.5 440.3,476.4 444.5,475.3 448.6,474.2 452.7,473.0 456.8,471.9 461.0,470.7 465.1,469.5 469.2,468.2 473.3,467.0 477.4,465.6 481.5,464.3 485.5,462.9 489.6,461.4 493.6,459.9 497.7,458.4 501.7,456.8 505.7,455.1 509.7,453.4 513.6,451.6 517.5,449.7 521.5,447.8 525.3,445.8 529.2,443.7 533.0,441.6 536.8,439.4 540.5,437.1 544.1,434.8 547.7,432.5 551.3,430.3 554.8,428.1 558.4,425.9 562.0,423.8 565.6,421.6 569.3,419.5 572.9,417.3 576.6,415.1 580.2,412.9 583.8,410.5 587.4,408.1 591.0,405.7 594.6,403.1 598.0,400.4 601.4,397.6 604.8,394.6 608.1,391.5 611.2,388.2 614.3,384.8 617.3,381.1 620.1,377.3 622.7,373.4 625.2,369.4 627.5,365.2 629.6,360.9 631.5,356.6 633.2,352.2 634.7,347.7 636.0,343.1 636.9,338.5 637.6,333.9 638.1,329.3 638.2,324.6 638.0,320.0 637.4,315.4 636.4,310.9 635.1,306.4 633.4,302.1 631.2,297.8 628.7,293.8 625.8,290.0 622.7,286.4 619.4,283.1 615.9,279.9 612.3,276.9 608.6,274.0 604.9,271.3 601.2,268.7 597.4,266.3 593.6,264.0 589.8,261.7 585.9,259.6 582.1,257.5 578.2,255.6 574.3,253.7 570.4,251.9 566.5,250.1 562.6,248.4 558.7,246.7 554.8,245.1 550.8,243.5 546.9,242.0 542.9,240.4 538.9,238.9 534.9,237.4 530.9,236.0 526.9,234.6 522.9,233.1 518.9,231.7 514.8,230.3 510.8,229.0 506.7,227.6 502.7,226.3 498.6,225.0 494.5,223.7 490.5,222.4 486.4,221.2 482.3,219.9 478.3,218.7 474.2,217.4 470.1,216.2 466.1,215.0 462.0,213.8 457.9,212.6 453.9,211.5 449.8,210.3" fill="url(#cg1)"/>
<polygon points="447.0,220.1 451.0,221.3 455.1,222.4 459.1,223.6 463.2,224.8 467.2,226.0 471.2,227.2 475.3,228.5 479.3,229.7 483.4,231.0 487.4,232.2 491.4,233.5 495.4,234.8 499.4,236.1 503.4,237.5 507.4,238.8 511.4,240.2 515.4,241.6 519.4,243.0 523.3,244.4 527.3,245.9 531.2,247.4 535.1,248.9 539.0,250.4 542.9,251.9 546.8,253.5 550.6,255.1 554.5,256.7 558.3,258.4 562.0,260.1 565.8,261.8 569.5,263.6 573.2,265.5 576.9,267.4 580.5,269.4 584.1,271.5 587.7,273.6 591.2,275.9 594.8,278.2 598.2,280.6 601.7,283.2 605.0,285.8 608.2,288.6 611.3,291.4 614.1,294.3 616.7,297.3 619.0,300.4 620.9,303.6 622.6,306.9 623.9,310.3 624.9,313.8 625.6,317.3 626.1,321.0 626.2,324.8 626.2,328.6 625.8,332.5 625.2,336.4 624.4,340.3 623.3,344.2 622.0,348.2 620.5,352.0 618.8,355.9 616.9,359.7 614.9,363.4 612.7,367.0 610.3,370.4 607.8,373.8 605.2,377.0 602.5,380.1 599.7,383.0 596.7,385.8 593.7,388.5 590.6,391.1 587.4,393.5 584.1,395.9 580.8,398.3 577.3,400.5 573.9,402.7 570.3,404.9 566.8,407.1 563.2,409.2 559.6,411.4 555.9,413.5 552.3,415.7 548.6,417.9 545.0,420.2 541.4,422.4 537.8,424.7 534.2,426.9 530.6,429.1 527.0,431.3 523.4,433.3 519.8,435.3 516.1,437.2 512.4,439.0 508.6,440.8 504.8,442.5 501.0,444.2 497.2,445.8 493.3,447.3 489.4,448.8 485.5,450.3 481.6,451.7 477.7,453.0 473.7,454.4 469.7,455.6 465.7,456.9 461.7,458.1 457.6,459.3 453.6,460.5 449.5,461.6 445.5,462.7 441.4,463.8 437.3,464.9 433.2,466.0 429.1,467.0 425.1,468.1 421.0,469.1 416.9,470.1 412.8,471.0 408.7,472.0 404.6,472.9 400.5,473.8 396.4,474.7 392.3,475.5 388.2,476.3 384.0,477.1 379.9,477.8 375.8,478.6 371.7,479.2 367.5,479.9 363.4,480.5 359.3,481.1 355.1,481.6 351.0,482.1 346.8,482.6 342.7,483.0 338.5,483.4 334.3,483.7 330.2,484.0 326.0,484.2 321.8,484.4 317.6,484.6 313.4,484.7 309.2,484.8 305.0,484.8 300.8,484.8 296.6,484.7 292.5,484.6 288.3,484.5 284.1,484.3 279.9,484.0 275.7,483.7 271.5,483.4 267.3,483.0 263.2,482.6 259.0,482.1 254.9,481.6 250.7,481.1 246.6,480.5 242.4,479.8 238.3,479.1 234.2,478.4 230.1,477.6 226.0,476.8 221.9,475.9 217.8,475.0 213.8,474.1 209.7,473.1 205.7,472.0 201.7,470.9 197.8,469.7 193.9,468.4 190.0,467.1 186.1,465.7 182.3,464.2 178.5,462.6 174.8,460.9 171.1,459.1 167.5,457.3 163.9,455.3 160.4,453.2 156.9,451.0 153.4,448.7 150.1,446.3 146.8,443.7 143.6,441.1 140.5,438.3 137.5,435.4 134.6,432.5 131.9,429.4 129.3,426.2 126.9,423.0 124.6,419.6 122.5,416.1 120.6,412.6 118.9,409.0 117.5,405.4 116.4,401.7 115.6,398.0 115.1,394.3 115.0,390.6 115.2,386.8 115.7,383.0 116.6,379.3 117.8,375.6 119.3,371.9 121.1,368.4 123.2,365.0 125.5,361.7 128.0,358.6 130.7,355.7 133.6,352.9 136.7,350.2 140.0,347.5 143.3,345.0 146.7,342.6 150.2,340.2 153.6,337.8 157.2,335.6 160.7,333.4 164.3,331.3 167.9,329.2 171.6,327.2 175.2,325.3 178.9,323.4 182.7,321.7 186.4,319.9 190.2,318.2 194.0,316.6 197.9,315.1 201.7,313.6 205.6,312.1 209.5,310.7 213.4,309.3 217.4,308.0 221.3,306.8 225.3,305.6 229.3,304.4 233.3,303.3 237.4,302.3 241.4,301.2 245.5,300.3 249.5,299.3 253.6,298.4 257.7,297.5 261.8,296.7 266.0,295.9 270.1,295.2 274.2,294.4 278.4,293.7 282.5,293.1 286.7,292.4 290.9,291.8 295.0,291.2 299.2,290.7 303.4,290.2 307.6,289.7 311.8,289.2 316.0,288.8 320.2,288.4 324.4,288.1 328.6,287.7 332.8,287.4 337.0,287.1 341.2,286.9 345.4,286.7 349.6,286.5 353.8,286.3 358.0,286.2 362.2,286.1 366.4,286.1 370.6,286.1 374.8,286.1 379.0,286.1 383.2,286.2 387.4,286.3 391.6,286.4 395.8,286.6 400.0,286.8 404.2,287.0 408.4,287.2 412.6,287.5 416.8,287.9 421.0,288.2 425.2,288.6 429.3,289.0 433.5,289.5 437.7,290.0 441.8,290.5 446.0,291.0 450.1,291.6 454.3,292.2 458.4,292.9 462.6,293.6 466.7,294.3 470.8,295.0 474.9,295.8 479.0,296.6 483.1,297.5 487.2,298.4 491.2,299.3 495.3,300.2 499.4,301.2 503.4,302.2 507.5,303.3 511.5,304.4 515.5,305.5 519.5,306.7 523.5,307.9 527.4,309.1 531.4,310.4 535.3,311.8 539.3,313.1 543.2,314.6 547.1,316.0 551.0,317.5 554.8,319.1 558.7,320.7 562.5,322.3 566.3,324.0 570.1,325.8 573.9,327.6 577.6,329.5 581.4,331.4 585.1,333.3 588.8,335.4 592.5,337.4 596.1,339.6 599.7,341.8 603.3,344.0 606.8,346.3 610.3,348.7 613.7,351.1 616.9,353.7 620.1,356.3 623.0,359.0 625.9,361.8 628.5,364.8 631.0,367.8 633.3,371.0 635.3,374.3 637.2,377.8 638.7,381.3 640.1,385.0 641.1,388.7 641.8,392.5 642.3,396.3 642.4,400.2 642.3,404.0 641.9,408.0 641.2,411.8 640.3,415.7 639.1,419.5 637.7,423.2 636.1,426.8 634.3,430.3 632.2,433.7 630.0,437.0 627.6,440.2 625.0,443.3 622.3,446.3 619.4,449.2 616.4,452.0 613.3,454.8 610.1,457.4 606.7,460.0 603.4,462.6 599.9,465.0 596.4,467.4 592.9,469.8 589.4,472.0 585.8,474.2 582.2,476.4 578.6,478.5 575.0,480.5 571.3,482.5 567.6,484.4 563.9,486.3 560.2,488.1 556.4,489.9 552.6,491.7 548.8,493.4 545.0,495.0 541.2,496.7 537.4,498.3 533.5,499.8 529.6,501.4 525.7,502.9 521.8,504.4 517.9,505.8 514.0,507.2 510.0,508.6 506.1,510.0 502.1,511.4 498.1,512.8 494.2,514.1 490.2,515.4 486.2,516.7 482.2,518.0 478.2,519.2 474.2,520.5 470.1,521.7 466.1,522.9 462.1,524.0 458.0,525.2 454.0,526.3 449.9,527.4 445.8,528.5 441.8,529.5 437.7,530.5 433.6,531.6 429.5,532.5 425.4,533.5 421.3,534.4 417.2,535.3 413.1,536.2 409.0,537.0 404.8,537.8 400.7,538.6 396.6,539.4 392.4,540.1 388.3,540.9 384.2,541.5 380.0,542.2 375.8,542.8 371.7,543.4 367.5,544.0 363.4,544.5 359.2,545.0 355.0,545.5 350.8,545.9 346.7,546.3 342.5,546.7 338.3,547.1 334.1,547.4 329.9,547.7 325.7,547.9 321.5,548.1 317.3,548.3 313.1,548.4 308.9,548.5 304.7,548.6 300.5,548.7 296.3,548.7 292.1,548.6 288.0,548.5 283.8,548.4 279.6,548.2 275.4,548.0 271.2,547.8 267.1,547.4 262.9,547.1 258.8,546.6 254.7,546.2 250.6,545.6 246.5,545.0 242.4,544.3 238.3,543.6 234.2,542.8 230.2,542.0 226.2,541.0 222.2,540.1 218.2,539.0 214.2,537.8 210.3,536.6 206.4,535.3 202.5,534.0 198.6,532.5 194.8,531.0 190.9,529.4 187.2,527.6 183.4,525.9 179.6,524.0 175.9,522.0 172.3,520.0 168.7,517.9 165.1,515.7 161.6,513.5 158.1,511.2 154.7,508.8 151.4,506.4 148.2,504.0 145.1,501.4 142.1,498.7 139.3,496.0 136.6,493.0 134.0,489.9 131.6,486.7 129.3,483.4 127.2,479.9 125.3,476.3 123.6,472.6 122.0,468.9 120.7,465.0 119.7,461.1 118.9,457.2 118.4,453.3 118.1,449.4 118.2,445.6 118.7,441.9 119.4,438.4 120.5,434.9 122.0,431.4 123.8,428.1 125.8,424.7 128.1,421.5 130.6,418.3 133.3,415.2 136.2,412.2 139.2,409.3 142.2,406.5 145.4,403.8 148.7,401.2 152.0,398.7 155.4,396.3 158.9,394.0 162.5,391.9 166.1,389.8 169.7,387.9 173.4,386.0 177.2,384.3 181.0,382.6 184.8,380.9 188.7,379.4 192.6,377.8 196.5,376.3 200.4,374.9 204.3,373.5 208.2,372.1 212.2,370.8 216.2,369.5 220.1,368.3 224.1,367.1 228.1,365.9 232.2,364.8 236.2,363.7 240.2,362.7 244.3,361.7 248.3,360.7 252.4,359.8 256.5,358.9 260.6,358.1 264.7,357.3 268.8,356.5 272.9,355.8 277.0,355.1 281.2,354.4 285.3,353.8 289.5,353.2 293.6,352.6 297.8,352.1 301.9,351.6 306.1,351.2 310.3,350.8 314.5,350.4 318.7,350.0 322.9,349.7 327.1,349.4 331.3,349.1 335.5,348.9 339.7,348.7 343.9,348.5 348.1,348.4 352.3,348.3 356.6,348.2 360.8,348.2 365.0,348.1 369.2,348.2 373.5,348.2 377.7,348.3 381.9,348.4 386.1,348.5 390.4,348.6 394.6,348.8 398.8,349.0 403.0,349.2 407.2,349.5 411.4,349.8 415.6,350.1 419.8,350.4 424.0,350.8 428.2,351.2 432.4,351.6 436.5,352.1 440.7,352.6 444.8,353.2 449.0,353.8 453.1,354.4 457.2,355.1 461.3,355.9 465.4,356.6 469.5,357.5 473.5,358.3 477.6,359.3 481.6,360.3 485.6,361.3 489.6,362.4 493.6,363.5 497.6,364.7 501.5,366.0 505.4,367.3 509.4,368.7 513.2,370.2 517.1,371.7 521.0,373.3 524.8,374.9 528.6,376.6 532.4,378.3 536.2,380.1 540.0,382.0 543.7,383.9 547.4,385.8 551.1,387.8 554.7,389.9 558.3,392.0 561.9,394.1 565.5,396.3 569.1,398.5 572.6,400.7 576.1,403.0 579.5,405.4 582.9,407.7 586.3,410.1 589.6,412.6 593.0,415.1 596.2,417.6 599.5,420.2 602.7,422.8 605.8,425.5 608.9,428.3 612.0,431.1 615.1,434.0 618.1,437.0 621.0,440.0 623.9,443.1 626.6,446.2 629.2,449.4 631.6,452.7 633.8,456.1 635.7,459.5 637.4,462.9 638.8,466.4 639.9,470.0 640.7,473.7 641.2,477.5 641.3,481.3 641.2,485.2 640.9,489.1 640.2,493.0 639.3,496.9 638.1,500.7 636.7,504.5 635.0,508.1 633.2,511.6 631.1,514.9 628.8,518.1 626.3,521.2 623.6,524.2 620.8,527.0 617.8,529.8 614.7,532.5 611.5,535.1 608.1,537.6 604.7,540.1 601.3,542.5 597.8,545.0 594.3,547.4 590.8,549.8 587.3,552.1 583.8,554.5 580.3,556.8 576.8,559.1 573.3,561.4 569.8,563.6 566.2,565.8 562.7,568.1 559.1,570.2 555.6,572.4 552.0,574.6 548.4,576.7 544.8,578.8 541.1,580.9 537.5,582.9 533.8,584.9 530.1,587.0 526.4,588.9 522.6,590.9 518.9,592.8 515.1,594.7 511.3,596.5 507.6,598.3 503.8,600.1 499.9,601.8 496.1,603.5 492.3,605.1 488.4,606.7 484.5,608.3 480.6,609.8 476.8,611.2 480.3,620.9 484.3,619.4 488.3,617.9 492.3,616.3 496.3,614.7 500.2,613.0 504.1,611.2 508.1,609.5 512.0,607.7 515.8,605.8 519.7,603.9 523.5,602.0 527.4,600.1 531.2,598.1 535.0,596.1 538.7,594.0 542.5,592.0 546.2,589.9 549.9,587.7 553.6,585.6 557.3,583.4 560.9,581.3 564.5,579.1 568.1,576.9 571.7,574.6 575.3,572.4 578.9,570.1 582.5,567.8 586.0,565.5 589.6,563.1 593.1,560.8 596.6,558.4 600.2,556.0 603.7,553.6 607.3,551.1 610.8,548.6 614.4,546.0 617.9,543.3 621.4,540.5 624.8,537.6 628.1,534.6 631.2,531.4 634.3,528.1 637.2,524.5 639.8,520.8 642.3,516.9 644.5,512.8 646.4,508.5 648.1,504.1 649.4,499.7 650.5,495.1 651.3,490.5 651.7,485.9 651.8,481.2 651.6,476.6 651.0,472.0 650.0,467.4 648.7,463.0 646.9,458.7 644.9,454.6 642.7,450.6 640.2,446.8 637.5,443.1 634.7,439.5 631.7,436.1 628.6,432.8 625.5,429.6 622.3,426.5 619.1,423.5 615.9,420.5 612.6,417.7 609.3,414.9 606.0,412.1 602.6,409.5 599.2,406.8 595.8,404.3 592.3,401.8 588.8,399.3 585.3,396.9 581.7,394.5 578.1,392.2 574.5,389.9 570.8,387.6 567.2,385.4 563.4,383.2 559.7,381.1 555.9,379.0 552.1,376.9 548.3,374.9 544.4,373.0 540.6,371.1 536.7,369.2 532.7,367.4 528.8,365.7 524.8,364.0 520.8,362.4 516.8,360.9 512.7,359.4 508.6,358.0 504.6,356.7 500.5,355.4 496.3,354.2 492.2,353.0 488.1,351.9 483.9,350.9 479.8,349.9 475.6,349.0 471.4,348.1 467.2,347.3 463.0,346.5 458.8,345.8 454.6,345.1 450.4,344.5 446.1,343.9 441.9,343.4 437.6,342.9 433.4,342.4 429.1,342.0 424.9,341.6 420.6,341.2 416.3,340.9 412.1,340.6 407.8,340.3 403.5,340.1 399.2,339.9 395.0,339.7 390.7,339.5 386.4,339.4 382.1,339.3 377.9,339.2 373.6,339.1 369.3,339.1 365.0,339.1 360.7,339.1 356.4,339.1 352.1,339.2 347.9,339.3 343.6,339.5 339.3,339.6 335.0,339.8 330.8,340.1 326.5,340.3 322.2,340.6 317.9,341.0 313.7,341.3 309.4,341.7 305.2,342.1 300.9,342.6 296.7,343.1 292.4,343.6 288.2,344.2 284.0,344.8 279.8,345.5 275.6,346.1 271.4,346.8 267.2,347.6 263.0,348.4 258.8,349.2 254.6,350.1 250.5,351.0 246.3,352.0 242.2,352.9 238.0,354.0 233.9,355.0 229.8,356.2 225.7,357.3 221.6,358.5 217.5,359.7 213.5,361.0 209.4,362.4 205.4,363.7 201.4,365.1 197.3,366.6 193.3,368.1 189.4,369.6 185.4,371.2 181.4,372.8 177.5,374.5 173.5,376.3 169.6,378.1 165.7,380.0 161.8,382.1 158.0,384.3 154.2,386.6 150.5,389.0 146.9,391.5 143.3,394.1 139.7,396.9 136.3,399.7 133.0,402.7 129.7,405.8 126.6,408.9 123.5,412.3 120.6,415.7 117.9,419.4 115.4,423.2 113.2,427.1 111.3,431.3 109.7,435.7 108.7,440.2 108.1,444.9 108.0,449.6 108.2,454.3 108.8,458.9 109.8,463.5 111.0,468.0 112.5,472.4 114.2,476.7 116.1,480.9 118.3,484.9 120.7,488.9 123.2,492.7 126.0,496.3 128.9,499.8 131.9,503.1 135.1,506.3 138.4,509.2 141.8,512.0 145.2,514.7 148.7,517.3 152.3,519.7 155.9,522.1 159.6,524.5 163.4,526.8 167.2,529.0 171.0,531.1 174.9,533.2 178.8,535.1 182.8,537.0 186.8,538.8 190.8,540.5 194.9,542.2 199.0,543.7 203.0,545.1 207.2,546.5 211.3,547.8 215.4,548.9 219.6,550.1 223.8,551.1 228.0,552.1 232.2,553.0 236.4,553.8 240.6,554.5 244.9,555.2 249.1,555.9 253.4,556.4 257.7,556.9 261.9,557.4 266.2,557.7 270.5,558.1 274.8,558.3 279.1,558.6 283.4,558.8 287.7,558.9 292.0,559.0 296.3,559.0 300.6,559.0 304.9,559.0 309.2,558.9 313.5,558.8 317.7,558.6 322.0,558.4 326.3,558.2 330.6,558.0 334.8,557.7 339.1,557.4 343.4,557.0 347.6,556.6 351.9,556.2 356.1,555.8 360.4,555.3 364.6,554.8 368.9,554.2 373.1,553.6 377.3,553.0 381.6,552.4 385.8,551.7 390.0,551.1 394.2,550.3 398.4,549.6 402.6,548.8 406.8,548.0 411.0,547.2 415.2,546.3 419.4,545.4 423.5,544.5 427.7,543.6 431.9,542.6 436.0,541.6 440.2,540.6 444.3,539.5 448.4,538.5 452.6,537.4 456.7,536.3 460.8,535.1 464.9,534.0 469.0,532.8 473.1,531.6 477.2,530.4 481.2,529.1 485.3,527.8 489.3,526.6 493.4,525.2 497.4,523.9 501.5,522.6 505.5,521.2 509.5,519.8 513.5,518.4 517.5,517.0 521.5,515.5 525.5,514.0 529.4,512.5 533.4,511.0 537.4,509.4 541.3,507.8 545.2,506.2 549.1,504.5 553.0,502.8 556.9,501.1 560.8,499.3 564.7,497.4 568.5,495.5 572.3,493.6 576.1,491.6 579.9,489.5 583.7,487.4 587.4,485.2 591.2,483.0 594.8,480.7 598.5,478.3 602.2,475.9 605.8,473.4 609.4,470.8 613.0,468.2 616.5,465.4 619.9,462.6 623.3,459.6 626.5,456.5 629.7,453.3 632.7,450.0 635.6,446.5 638.3,442.9 640.8,439.2 643.1,435.3 645.3,431.3 647.1,427.1 648.8,422.8 650.1,418.4 651.2,413.9 652.0,409.3 652.4,404.8 652.6,400.1 652.4,395.5 651.9,390.9 651.0,386.3 649.8,381.9 648.2,377.5 646.3,373.3 644.2,369.3 641.7,365.4 639.1,361.7 636.3,358.2 633.2,354.8 630.1,351.6 626.7,348.6 623.3,345.8 619.8,343.0 616.2,340.4 612.5,337.9 608.8,335.5 605.0,333.1 601.2,330.9 597.5,328.7 593.7,326.6 589.8,324.5 586.0,322.5 582.1,320.5 578.3,318.6 574.4,316.8 570.4,315.0 566.5,313.2 562.6,311.5 558.6,309.9 554.6,308.3 550.6,306.8 546.6,305.3 542.6,303.8 538.5,302.4 534.5,301.1 530.4,299.8 526.3,298.5 522.3,297.3 518.2,296.1 514.1,295.0 509.9,293.9 505.8,292.8 501.7,291.8 497.5,290.8 493.4,289.9 489.2,289.0 485.1,288.1 480.9,287.2 476.7,286.4 472.5,285.7 468.3,284.9 464.1,284.2 459.9,283.5 455.7,282.9 451.5,282.3 447.3,281.7 443.0,281.2 438.8,280.6 434.6,280.2 430.3,279.7 426.1,279.3 421.8,278.9 417.6,278.6 413.3,278.2 409.0,277.9 404.8,277.7 400.5,277.5 396.2,277.3 392.0,277.1 387.7,277.0 383.4,276.9 379.1,276.8 374.9,276.8 370.6,276.8 366.3,276.8 362.0,276.9 357.8,277.0 353.5,277.1 349.2,277.3 344.9,277.5 340.7,277.7 336.4,277.9 332.1,278.2 327.9,278.5 323.6,278.8 319.3,279.2 315.1,279.6 310.8,280.1 306.6,280.5 302.3,281.0 298.1,281.5 293.8,282.1 289.6,282.7 285.3,283.3 281.1,283.9 276.9,284.6 272.7,285.3 268.5,286.0 264.3,286.8 260.1,287.6 255.9,288.5 251.7,289.3 247.5,290.2 243.3,291.2 239.2,292.2 235.0,293.2 230.9,294.3 226.8,295.5 222.7,296.6 218.6,297.9 214.5,299.1 210.4,300.5 206.4,301.9 202.4,303.3 198.4,304.8 194.4,306.3 190.4,307.9 186.5,309.6 182.5,311.3 178.6,313.1 174.8,314.9 170.9,316.8 167.1,318.8 163.3,320.9 159.5,323.0 155.8,325.1 152.1,327.4 148.4,329.7 144.7,332.1 141.1,334.6 137.5,337.1 133.9,339.8 130.4,342.6 127.0,345.6 123.7,348.7 120.6,352.1 117.6,355.7 114.9,359.5 112.4,363.6 110.3,367.7 108.5,372.1 107.0,376.6 105.9,381.1 105.2,385.8 104.9,390.4 105.0,395.1 105.6,399.8 106.6,404.3 107.9,408.7 109.6,413.0 111.5,417.2 113.7,421.2 116.0,425.1 118.6,428.8 121.3,432.5 124.1,436.0 127.2,439.4 130.3,442.6 133.6,445.8 136.9,448.8 140.4,451.7 144.0,454.4 147.6,457.0 151.3,459.5 155.1,461.9 158.9,464.1 162.7,466.2 166.6,468.2 170.5,470.1 174.5,471.9 178.5,473.5 182.5,475.1 186.6,476.6 190.7,478.0 194.8,479.3 198.9,480.6 203.0,481.8 207.2,482.9 211.4,483.9 215.5,484.9 219.7,485.8 223.9,486.7 228.1,487.6 232.3,488.4 236.6,489.1 240.8,489.8 245.1,490.5 249.3,491.1 253.6,491.7 257.8,492.2 262.1,492.7 266.4,493.1 270.7,493.5 275.0,493.8 279.3,494.1 283.5,494.4 287.8,494.6 292.1,494.7 296.4,494.8 300.7,494.9 305.0,494.9 309.3,494.9 313.6,494.8 317.9,494.7 322.2,494.5 326.5,494.3 330.8,494.1 335.1,493.8 339.4,493.5 343.6,493.1 347.9,492.7 352.1,492.2 356.4,491.7 360.6,491.1 364.8,490.5 369.1,489.9 373.3,489.2 377.5,488.5 381.7,487.8 385.9,487.0 390.1,486.2 394.3,485.4 398.4,484.6 402.6,483.7 406.8,482.8 410.9,481.8 415.1,480.9 419.2,479.9 423.4,478.9 427.5,477.9 431.6,476.8 435.8,475.8 439.9,474.7 444.0,473.6 448.1,472.5 452.2,471.4 456.4,470.2 460.5,469.0 464.6,467.8 468.7,466.6 472.8,465.3 476.8,464.0 480.9,462.6 485.0,461.2 489.0,459.8 493.0,458.3 497.0,456.7 501.0,455.1 505.0,453.5 509.0,451.8 512.9,450.0 516.8,448.2 520.7,446.2 524.5,444.3 528.3,442.2 532.1,440.1 535.9,437.9 539.5,435.6 543.2,433.3 546.8,431.1 550.4,428.8 553.9,426.6 557.5,424.4 561.1,422.3 564.7,420.1 568.4,418.0 572.0,415.8 575.7,413.6 579.3,411.4 582.9,409.1 586.5,406.7 590.0,404.2 593.5,401.7 596.9,399.0 600.3,396.2 603.6,393.3 606.8,390.2 610.0,387.0 613.0,383.6 615.9,380.0 618.6,376.3 621.2,372.5 623.7,368.5 625.9,364.4 628.0,360.2 629.9,355.9 631.6,351.6 633.0,347.2 634.2,342.7 635.2,338.2 635.9,333.7 636.3,329.2 636.4,324.7 636.2,320.2 635.7,315.7 634.7,311.3 633.4,307.0 631.8,302.8 629.7,298.7 627.2,294.8 624.5,291.1 621.4,287.6 618.2,284.3 614.8,281.2 611.2,278.2 607.6,275.4 603.9,272.7 600.2,270.1 596.5,267.7 592.7,265.4 588.9,263.2 585.1,261.0 581.3,259.0 577.5,257.0 573.6,255.1 569.8,253.3 565.9,251.6 562.0,249.9 558.1,248.2 554.2,246.6 550.2,245.0 546.3,243.4 542.3,241.9 538.4,240.4 534.4,238.9 530.4,237.4 526.4,236.0 522.4,234.6 518.4,233.2 514.3,231.8 510.3,230.4 506.2,229.1 502.2,227.8 498.1,226.4 494.1,225.2 490.0,223.9 486.0,222.6 481.9,221.4 477.8,220.1 473.8,218.9 469.7,217.7 465.6,216.5 461.6,215.3 457.5,214.1 453.5,212.9 449.4,211.7" fill="url(#cg2)"/>
<polygon points="447.8,217.4 451.8,218.6 455.9,219.8 459.9,221.0 463.9,222.2 468.0,223.4 472.0,224.6 476.1,225.8 480.1,227.0 484.2,228.3 488.2,229.6 492.3,230.9 496.3,232.2 500.3,233.5 504.3,234.8 508.3,236.1 512.4,237.5 516.3,238.9 520.3,240.3 524.3,241.7 528.3,243.2 532.2,244.7 536.2,246.2 540.1,247.7 544.0,249.2 547.9,250.8 551.8,252.4 555.6,254.0 559.4,255.7 563.3,257.4 567.1,259.1 570.8,260.9 574.6,262.8 578.3,264.7 582.0,266.7 585.7,268.8 589.3,271.0 592.9,273.3 596.5,275.6 600.0,278.1 603.6,280.7 607.0,283.4 610.3,286.2 613.5,289.1 616.4,292.2 619.2,295.4 621.6,298.6 623.7,302.0 625.5,305.6 626.9,309.2 628.0,313.0 628.8,316.8 629.3,320.7 629.5,324.7 629.4,328.8 629.0,332.9 628.4,337.0 627.5,341.1 626.4,345.2 625.0,349.2 623.5,353.3 621.7,357.3 619.8,361.2 617.7,365.0 615.4,368.7 613.0,372.3 610.4,375.8 607.7,379.1 604.9,382.3 601.9,385.3 598.9,388.2 595.8,391.0 592.6,393.6 589.3,396.1 586.0,398.6 582.6,400.9 579.1,403.2 575.6,405.5 572.0,407.7 568.5,409.9 564.8,412.0 561.2,414.2 557.6,416.3 553.9,418.5 550.3,420.7 546.7,422.9 543.1,425.2 539.5,427.4 535.9,429.7 532.3,431.9 528.6,434.1 525.0,436.1 521.3,438.1 517.5,440.1 513.8,441.9 510.0,443.7 506.1,445.4 502.3,447.1 498.4,448.7 494.5,450.3 490.6,451.8 486.6,453.3 482.7,454.7 478.7,456.1 474.7,457.4 470.7,458.7 466.6,460.0 462.6,461.2 458.5,462.4 454.5,463.6 450.4,464.7 446.3,465.8 442.2,466.9 438.1,468.0 434.0,469.1 429.9,470.1 425.8,471.2 421.7,472.2 417.6,473.2 413.5,474.2 409.4,475.1 405.3,476.0 401.2,476.9 397.0,477.8 392.9,478.7 388.8,479.5 384.6,480.3 380.5,481.0 376.3,481.7 372.2,482.4 368.0,483.1 363.9,483.7 359.7,484.3 355.5,484.8 351.3,485.3 347.2,485.8 343.0,486.2 338.8,486.6 334.6,486.9 330.4,487.2 326.1,487.5 321.9,487.7 317.7,487.8 313.5,487.9 309.3,488.0 305.0,488.0 300.8,488.0 296.6,487.9 292.4,487.8 288.1,487.7 283.9,487.5 279.7,487.2 275.5,486.9 271.3,486.6 267.0,486.2 262.8,485.8 258.6,485.3 254.4,484.8 250.3,484.3 246.1,483.7 241.9,483.0 237.7,482.3 233.6,481.6 229.5,480.8 225.3,480.0 221.2,479.1 217.1,478.2 213.0,477.2 208.9,476.2 204.9,475.1 200.8,474.0 196.8,472.7 192.9,471.5 188.9,470.1 185.0,468.7 181.1,467.1 177.3,465.5 173.5,463.8 169.7,462.0 166.0,460.1 162.3,458.1 158.7,456.0 155.1,453.7 151.6,451.3 148.1,448.8 144.7,446.2 141.5,443.5 138.3,440.7 135.2,437.7 132.2,434.7 129.4,431.5 126.7,428.2 124.2,424.8 121.9,421.3 119.7,417.7 117.7,414.1 116.0,410.3 114.5,406.4 113.3,402.5 112.4,398.6 111.9,394.6 111.8,390.5 112.0,386.5 112.6,382.4 113.6,378.4 114.9,374.5 116.5,370.6 118.4,366.8 120.5,363.2 123.0,359.8 125.6,356.6 128.5,353.5 131.5,350.5 134.7,347.8 138.0,345.1 141.5,342.5 144.9,340.0 148.4,337.6 152.0,335.2 155.5,333.0 159.1,330.8 162.8,328.6 166.4,326.6 170.1,324.5 173.9,322.6 177.6,320.7 181.4,318.9 185.2,317.2 189.0,315.5 192.9,313.9 196.7,312.3 200.6,310.8 204.6,309.3 208.5,307.9 212.5,306.5 216.4,305.2 220.4,304.0 224.5,302.7 228.5,301.6 232.5,300.5 236.6,299.4 240.7,298.4 244.8,297.4 248.9,296.4 253.0,295.5 257.1,294.7 261.3,293.8 265.4,293.0 269.6,292.3 273.7,291.5 277.9,290.8 282.1,290.2 286.3,289.5 290.5,288.9 294.7,288.3 298.9,287.8 303.1,287.3 307.3,286.8 311.5,286.3 315.7,285.9 319.9,285.5 324.1,285.1 328.3,284.8 332.6,284.5 336.8,284.2 341.0,284.0 345.2,283.7 349.5,283.6 353.7,283.4 357.9,283.3 362.2,283.2 366.4,283.1 370.6,283.1 374.8,283.1 379.1,283.2 383.3,283.2 387.5,283.3 391.7,283.4 396.0,283.6 400.2,283.8 404.4,284.0 408.6,284.3 412.8,284.6 417.0,284.9 421.3,285.3 425.5,285.6 429.7,286.1 433.8,286.5 438.0,287.0 442.2,287.5 446.4,288.1 450.6,288.6 454.7,289.3 458.9,289.9 463.0,290.6 467.2,291.3 471.3,292.0 475.5,292.8 479.6,293.6 483.7,294.5 487.8,295.4 491.9,296.3 496.0,297.2 500.1,298.2 504.2,299.2 508.2,300.3 512.3,301.4 516.3,302.5 520.4,303.7 524.4,304.9 528.4,306.2 532.4,307.5 536.4,308.8 540.3,310.2 544.3,311.6 548.2,313.1 552.1,314.6 556.0,316.2 559.9,317.8 563.8,319.4 567.6,321.2 571.5,322.9 575.3,324.7 579.1,326.6 582.8,328.5 586.6,330.5 590.3,332.6 594.0,334.7 597.7,336.8 601.4,339.0 605.0,341.3 608.6,343.6 612.2,346.1 615.6,348.6 619.0,351.2 622.2,353.9 625.3,356.7 628.2,359.6 631.0,362.7 633.6,365.9 636.0,369.2 638.1,372.7 640.1,376.4 641.7,380.1 643.1,384.0 644.2,388.0 645.0,392.0 645.5,396.0 645.7,400.1 645.5,404.3 645.1,408.4 644.4,412.5 643.4,416.5 642.2,420.5 640.7,424.4 639.0,428.2 637.1,431.9 635.0,435.4 632.6,438.9 630.1,442.2 627.5,445.4 624.6,448.5 621.7,451.5 618.6,454.4 615.4,457.2 612.1,460.0 608.7,462.6 605.3,465.2 601.8,467.7 598.3,470.1 594.7,472.5 591.1,474.8 587.5,477.0 583.9,479.2 580.2,481.3 576.5,483.4 572.8,485.4 569.1,487.3 565.4,489.2 561.6,491.1 557.8,492.9 554.0,494.7 550.2,496.4 546.3,498.1 542.5,499.7 538.6,501.3 534.7,502.9 530.8,504.4 526.9,505.9 523.0,507.4 519.0,508.9 515.1,510.3 511.1,511.8 507.2,513.1 503.2,514.5 499.2,515.9 495.2,517.2 491.2,518.5 487.2,519.8 483.2,521.1 479.1,522.4 475.1,523.6 471.1,524.8 467.0,526.0 463.0,527.2 458.9,528.3 454.8,529.5 450.7,530.6 446.7,531.7 442.6,532.7 438.5,533.7 434.4,534.7 430.3,535.7 426.1,536.7 422.0,537.6 417.9,538.5 413.8,539.4 409.6,540.3 405.5,541.1 401.3,541.9 397.2,542.6 393.0,543.4 388.8,544.1 384.7,544.8 380.5,545.4 376.3,546.1 372.1,546.7 368.0,547.2 363.8,547.8 359.6,548.3 355.4,548.8 351.2,549.2 347.0,549.6 342.8,550.0 338.6,550.3 334.3,550.7 330.1,550.9 325.9,551.2 321.7,551.4 317.5,551.6 313.2,551.7 309.0,551.8 304.8,551.9 300.6,552.0 296.3,552.0 292.1,551.9 287.9,551.8 283.6,551.7 279.4,551.5 275.2,551.3 271.0,551.0 266.8,550.7 262.6,550.3 258.4,549.9 254.3,549.4 250.1,548.9 246.0,548.3 241.8,547.6 237.7,546.9 233.6,546.1 229.5,545.2 225.4,544.2 221.4,543.2 217.3,542.2 213.3,541.0 209.3,539.8 205.3,538.4 201.4,537.1 197.4,535.6 193.5,534.0 189.6,532.4 185.8,530.6 181.9,528.8 178.1,526.9 174.4,524.9 170.7,522.8 167.0,520.7 163.3,518.5 159.8,516.2 156.3,513.9 152.8,511.5 149.4,509.1 146.1,506.5 143.0,503.9 139.9,501.1 136.9,498.2 134.1,495.2 131.4,492.0 128.9,488.6 126.6,485.1 124.4,481.5 122.4,477.8 120.6,473.9 119.0,470.0 117.6,466.0 116.5,461.9 115.7,457.7 115.1,453.6 114.9,449.5 115.0,445.4 115.5,441.4 116.3,437.5 117.6,433.7 119.2,430.1 121.1,426.5 123.3,423.0 125.7,419.7 128.4,416.4 131.2,413.2 134.1,410.2 137.2,407.2 140.3,404.3 143.6,401.6 146.9,399.0 150.4,396.4 153.8,394.0 157.4,391.7 161.0,389.5 164.7,387.4 168.4,385.4 172.2,383.5 176.0,381.7 179.9,380.0 183.7,378.4 187.6,376.8 191.6,375.2 195.5,373.7 199.4,372.2 203.4,370.8 207.3,369.4 211.3,368.1 215.3,366.8 219.3,365.6 223.3,364.3 227.4,363.2 231.4,362.0 235.5,361.0 239.5,359.9 243.6,358.9 247.7,357.9 251.8,357.0 255.9,356.1 260.0,355.3 264.1,354.5 268.3,353.7 272.4,352.9 276.6,352.2 280.7,351.6 284.9,350.9 289.1,350.3 293.2,349.8 297.4,349.3 301.6,348.8 305.8,348.3 310.0,347.9 314.2,347.5 318.4,347.1 322.7,346.8 326.9,346.5 331.1,346.2 335.3,346.0 339.6,345.8 343.8,345.7 348.0,345.5 352.3,345.4 356.5,345.3 360.8,345.3 365.0,345.3 369.3,345.3 373.5,345.3 377.7,345.4 382.0,345.5 386.2,345.6 390.5,345.7 394.7,345.9 398.9,346.1 403.2,346.3 407.4,346.6 411.6,346.8 415.9,347.1 420.1,347.5 424.3,347.9 428.5,348.3 432.7,348.7 436.9,349.2 441.1,349.7 445.3,350.2 449.4,350.8 453.6,351.5 457.7,352.2 461.9,352.9 466.0,353.7 470.1,354.5 474.2,355.4 478.3,356.3 482.4,357.3 486.4,358.3 490.5,359.4 494.5,360.6 498.5,361.8 502.5,363.0 506.5,364.4 510.4,365.8 514.4,367.2 518.3,368.7 522.2,370.3 526.1,372.0 529.9,373.7 533.8,375.4 537.6,377.2 541.4,379.1 545.1,381.0 548.9,383.0 552.6,385.0 556.3,387.1 560.0,389.2 563.6,391.3 567.2,393.5 570.8,395.7 574.3,398.0 577.9,400.3 581.3,402.7 584.8,405.1 588.2,407.5 591.6,409.9 594.9,412.4 598.3,415.0 601.5,417.6 604.8,420.3 608.0,423.0 611.2,425.8 614.3,428.7 617.4,431.6 620.5,434.6 623.5,437.7 626.4,440.8 629.2,444.1 631.8,447.4 634.3,450.8 636.6,454.3 638.6,457.9 640.4,461.6 641.9,465.3 643.1,469.2 644.0,473.2 644.5,477.2 644.7,481.3 644.6,485.4 644.2,489.6 643.5,493.7 642.5,497.8 641.3,501.8 639.8,505.7 638.0,509.6 636.1,513.3 633.9,516.8 631.5,520.2 628.8,523.4 626.1,526.5 623.1,529.4 620.0,532.3 616.8,535.0 613.5,537.7 610.1,540.3 606.7,542.8 603.2,545.3 599.7,547.7 596.2,550.1 592.6,552.5 589.1,554.9 585.6,557.2 582.1,559.6 578.6,561.9 575.1,564.1 571.5,566.4 568.0,568.6 564.4,570.9 560.9,573.1 557.3,575.2 553.7,577.4 550.0,579.5 546.4,581.6 542.7,583.7 539.1,585.8 535.4,587.8 531.6,589.9 527.9,591.8 524.1,593.8 520.4,595.7 516.6,597.6 512.8,599.5 509.0,601.3 505.1,603.1 501.3,604.8 497.4,606.5 493.5,608.2 489.6,609.8 485.7,611.3 481.8,612.8 477.9,614.3 479.6,618.9 483.5,617.4 487.5,615.9 491.5,614.3 495.4,612.7 499.3,611.0 503.3,609.3 507.2,607.5 511.0,605.7 514.9,603.9 518.7,602.0 522.6,600.1 526.4,598.1 530.2,596.2 533.9,594.2 537.7,592.1 541.4,590.1 545.1,588.0 548.8,585.9 552.5,583.7 556.2,581.6 559.8,579.4 563.4,577.2 567.0,575.0 570.6,572.8 574.2,570.5 577.7,568.3 581.3,566.0 584.8,563.7 588.3,561.3 591.9,559.0 595.4,556.6 598.9,554.2 602.5,551.8 606.0,549.3 609.6,546.8 613.1,544.2 616.6,541.6 620.0,538.8 623.3,536.0 626.5,533.0 629.6,529.9 632.6,526.6 635.4,523.2 638.0,519.6 640.4,515.8 642.5,511.8 644.4,507.7 646.0,503.4 647.3,499.1 648.3,494.7 649.1,490.2 649.5,485.7 649.6,481.2 649.4,476.8 648.8,472.3 647.9,468.0 646.6,463.7 645.0,459.6 643.0,455.6 640.8,451.7 638.4,448.0 635.8,444.4 633.0,440.9 630.1,437.6 627.0,434.3 623.9,431.1 620.8,428.0 617.6,425.1 614.4,422.1 611.2,419.3 607.9,416.5 604.6,413.8 601.3,411.2 597.9,408.6 594.5,406.0 591.0,403.5 587.6,401.1 584.1,398.7 580.5,396.3 577.0,394.0 573.4,391.7 569.7,389.4 566.1,387.2 562.4,385.0 558.7,382.9 554.9,380.8 551.1,378.8 547.3,376.8 543.5,374.9 539.6,373.0 535.8,371.1 531.9,369.4 527.9,367.6 524.0,366.0 520.0,364.4 516.0,362.8 512.0,361.4 508.0,360.0 503.9,358.6 499.9,357.4 495.8,356.1 491.7,355.0 487.6,353.9 483.4,352.9 479.3,351.9 475.2,351.0 471.0,350.1 466.8,349.3 462.7,348.5 458.5,347.8 454.3,347.1 450.1,346.5 445.9,345.9 441.6,345.3 437.4,344.8 433.2,344.3 428.9,343.9 424.7,343.5 420.4,343.2 416.2,342.8 411.9,342.5 407.7,342.2 403.4,342.0 399.2,341.8 394.9,341.6 390.6,341.4 386.4,341.3 382.1,341.2 377.8,341.1 373.5,341.0 369.3,341.0 365.0,341.0 360.7,341.0 356.5,341.0 352.2,341.1 347.9,341.2 343.7,341.4 339.4,341.5 335.1,341.7 330.9,342.0 326.6,342.2 322.4,342.5 318.1,342.9 313.9,343.2 309.6,343.6 305.4,344.0 301.1,344.5 296.9,345.0 292.7,345.5 288.5,346.1 284.3,346.7 280.1,347.3 275.9,348.0 271.7,348.7 267.5,349.5 263.3,350.3 259.2,351.1 255.0,351.9 250.9,352.8 246.7,353.8 242.6,354.8 238.5,355.8 234.4,356.9 230.3,358.0 226.2,359.1 222.1,360.3 218.1,361.5 214.0,362.8 210.0,364.1 206.0,365.5 202.0,366.9 198.0,368.3 194.0,369.8 190.0,371.3 186.1,372.9 182.1,374.5 178.2,376.2 174.3,377.9 170.4,379.8 166.5,381.7 162.7,383.7 158.9,385.9 155.2,388.1 151.5,390.5 147.9,393.0 144.4,395.6 140.9,398.3 137.6,401.1 134.3,404.1 131.1,407.1 128.0,410.3 125.0,413.5 122.2,416.9 119.5,420.5 117.1,424.2 115.0,428.0 113.2,432.1 111.8,436.2 110.8,440.6 110.2,445.0 110.1,449.5 110.3,454.0 110.9,458.5 111.9,463.0 113.0,467.4 114.5,471.7 116.2,475.8 118.1,479.9 120.2,483.9 122.5,487.7 125.0,491.4 127.6,495.0 130.5,498.4 133.4,501.6 136.6,504.7 139.8,507.6 143.1,510.3 146.5,513.0 150.0,515.5 153.5,517.9 157.1,520.3 160.8,522.7 164.5,524.9 168.2,527.1 172.0,529.2 175.9,531.2 179.8,533.2 183.7,535.1 187.7,536.8 191.7,538.5 195.7,540.1 199.7,541.6 203.7,543.1 207.8,544.4 211.9,545.7 216.0,546.9 220.1,548.0 224.3,549.0 228.4,550.0 232.6,550.8 236.8,551.7 241.0,552.4 245.2,553.1 249.4,553.7 253.7,554.3 257.9,554.8 262.2,555.2 266.4,555.6 270.7,555.9 274.9,556.2 279.2,556.4 283.5,556.6 287.7,556.7 292.0,556.8 296.3,556.8 300.6,556.8 304.9,556.8 309.1,556.7 313.4,556.6 317.7,556.5 321.9,556.3 326.2,556.1 330.4,555.8 334.7,555.5 338.9,555.2 343.2,554.9 347.4,554.5 351.7,554.1 355.9,553.6 360.1,553.1 364.4,552.6 368.6,552.1 372.8,551.5 377.0,550.9 381.2,550.3 385.5,549.6 389.7,548.9 393.9,548.2 398.0,547.5 402.2,546.7 406.4,545.9 410.6,545.0 414.8,544.2 418.9,543.3 423.1,542.4 427.2,541.5 431.4,540.5 435.5,539.5 439.6,538.5 443.8,537.4 447.9,536.4 452.0,535.3 456.1,534.2 460.2,533.1 464.3,531.9 468.4,530.7 472.5,529.5 476.5,528.3 480.6,527.1 484.6,525.8 488.7,524.5 492.7,523.2 496.7,521.9 500.8,520.5 504.8,519.1 508.8,517.8 512.8,516.4 516.8,514.9 520.7,513.5 524.7,512.0 528.7,510.5 532.6,509.0 536.5,507.4 540.5,505.8 544.4,504.2 548.3,502.5 552.2,500.8 556.0,499.1 559.9,497.3 563.7,495.5 567.5,493.6 571.3,491.7 575.1,489.7 578.9,487.6 582.6,485.5 586.3,483.4 590.0,481.2 593.7,478.9 597.4,476.5 601.0,474.1 604.6,471.7 608.1,469.1 611.7,466.5 615.1,463.7 618.5,460.9 621.8,458.0 625.0,455.0 628.1,451.8 631.1,448.6 633.9,445.2 636.6,441.7 639.0,438.0 641.3,434.3 643.3,430.3 645.2,426.3 646.7,422.1 648.1,417.8 649.1,413.5 649.9,409.1 650.3,404.6 650.5,400.1 650.3,395.7 649.8,391.2 648.9,386.8 647.7,382.5 646.2,378.3 644.4,374.3 642.3,370.3 640.0,366.6 637.4,363.0 634.6,359.5 631.7,356.3 628.6,353.2 625.3,350.2 622.0,347.4 618.5,344.7 614.9,342.1 611.3,339.6 607.6,337.3 603.9,334.9 600.2,332.7 596.4,330.5 592.6,328.4 588.8,326.3 585.0,324.3 581.2,322.4 577.3,320.5 573.5,318.7 569.6,316.9 565.7,315.1 561.7,313.4 557.8,311.8 553.8,310.2 549.9,308.7 545.9,307.2 541.9,305.8 537.9,304.4 533.8,303.0 529.8,301.7 525.7,300.5 521.7,299.3 517.6,298.1 513.5,296.9 509.4,295.8 505.3,294.8 501.2,293.8 497.1,292.8 492.9,291.8 488.8,290.9 484.6,290.1 480.5,289.2 476.3,288.4 472.2,287.6 468.0,286.9 463.8,286.2 459.6,285.5 455.4,284.8 451.2,284.2 447.0,283.6 442.8,283.1 438.6,282.6 434.3,282.1 430.1,281.7 425.9,281.2 421.6,280.9 417.4,280.5 413.2,280.2 408.9,279.9 404.7,279.6 400.4,279.4 396.2,279.2 391.9,279.1 387.6,278.9 383.4,278.8 379.1,278.8 374.9,278.7 370.6,278.7 366.3,278.8 362.1,278.8 357.8,278.9 353.6,279.0 349.3,279.2 345.0,279.4 340.8,279.6 336.5,279.8 332.3,280.1 328.0,280.4 323.7,280.8 319.5,281.1 315.3,281.5 311.0,282.0 306.8,282.4 302.5,282.9 298.3,283.5 294.1,284.0 289.9,284.6 285.6,285.2 281.4,285.8 277.2,286.5 273.0,287.2 268.8,288.0 264.6,288.7 260.4,289.5 256.3,290.4 252.1,291.2 247.9,292.1 243.8,293.1 239.6,294.1 235.5,295.1 231.4,296.2 227.3,297.3 223.2,298.5 219.1,299.7 215.1,301.0 211.1,302.3 207.0,303.7 203.0,305.1 199.1,306.6 195.1,308.1 191.2,309.7 187.2,311.4 183.4,313.1 179.5,314.9 175.6,316.7 171.8,318.6 168.0,320.6 164.3,322.6 160.5,324.7 156.8,326.9 153.1,329.1 149.5,331.4 145.9,333.8 142.3,336.2 138.7,338.8 135.2,341.4 131.7,344.2 128.4,347.1 125.2,350.2 122.1,353.5 119.2,357.0 116.6,360.7 114.3,364.6 112.2,368.6 110.4,372.8 109.0,377.1 108.0,381.5 107.3,386.0 107.0,390.5 107.1,395.0 107.7,399.4 108.6,403.8 109.9,408.0 111.5,412.2 113.4,416.2 115.5,420.1 117.8,423.9 120.3,427.6 123.0,431.2 125.8,434.6 128.7,437.9 131.8,441.1 135.0,444.2 138.3,447.2 141.7,450.0 145.2,452.7 148.8,455.3 152.5,457.7 156.2,460.1 159.9,462.3 163.7,464.3 167.6,466.3 171.4,468.2 175.4,469.9 179.3,471.6 183.3,473.1 187.3,474.6 191.3,476.0 195.4,477.3 199.5,478.5 203.6,479.7 207.7,480.8 211.9,481.8 216.0,482.8 220.2,483.8 224.4,484.7 228.5,485.5 232.7,486.3 236.9,487.0 241.1,487.7 245.4,488.4 249.6,489.0 253.8,489.6 258.1,490.1 262.3,490.6 266.6,491.0 270.8,491.4 275.1,491.7 279.4,492.0 283.7,492.2 287.9,492.4 292.2,492.6 296.5,492.7 300.8,492.8 305.0,492.8 309.3,492.8 313.6,492.7 317.9,492.6 322.1,492.4 326.4,492.2 330.7,492.0 334.9,491.7 339.2,491.4 343.4,491.0 347.7,490.5 351.9,490.1 356.1,489.6 360.3,489.0 364.5,488.4 368.7,487.8 372.9,487.1 377.1,486.5 381.3,485.7 385.5,485.0 389.7,484.2 393.8,483.3 398.0,482.5 402.2,481.6 406.3,480.7 410.5,479.8 414.6,478.8 418.7,477.8 422.9,476.8 427.0,475.8 431.1,474.8 435.2,473.7 439.4,472.6 443.5,471.6 447.6,470.4 451.7,469.3 455.8,468.2 459.9,467.0 464.0,465.8 468.0,464.5 472.1,463.3 476.2,462.0 480.2,460.6 484.3,459.2 488.3,457.8 492.3,456.3 496.3,454.8 500.2,453.2 504.2,451.5 508.1,449.8 512.0,448.1 515.9,446.2 519.7,444.3 523.5,442.4 527.3,440.3 531.0,438.2 534.8,436.0 538.4,433.8 542.1,431.5 545.7,429.3 549.2,427.0 552.8,424.8 556.4,422.6 560.0,420.4 563.7,418.3 567.3,416.1 570.9,414.0 574.5,411.8 578.2,409.6 581.7,407.3 585.3,404.9 588.8,402.5 592.2,400.0 595.6,397.4 598.9,394.6 602.2,391.8 605.3,388.7 608.4,385.6 611.3,382.2 614.2,378.7 616.9,375.1 619.4,371.3 621.8,367.4 624.0,363.4 626.1,359.3 627.9,355.1 629.6,350.9 631.0,346.6 632.2,342.2 633.1,337.8 633.8,333.4 634.2,329.1 634.3,324.7 634.1,320.3 633.6,316.0 632.7,311.8 631.4,307.7 629.8,303.6 627.9,299.7 625.5,296.0 622.8,292.4 619.9,289.0 616.7,285.8 613.4,282.7 609.9,279.8 606.4,277.0 602.7,274.3 599.1,271.8 595.4,269.4 591.7,267.1 587.9,264.9 584.2,262.8 580.4,260.8 576.6,258.8 572.8,256.9 568.9,255.1 565.1,253.3 561.2,251.6 557.3,250.0 553.4,248.4 549.5,246.8 545.6,245.2 541.6,243.7 537.7,242.2 533.7,240.7 529.7,239.2 525.7,237.8 521.7,236.3 517.7,234.9 513.7,233.6 509.7,232.2 505.7,230.8 501.6,229.5 497.6,228.2 493.5,226.9 489.5,225.6 485.4,224.4 481.4,223.1 477.3,221.9 473.2,220.6 469.2,219.4 465.1,218.2 461.1,217.0 457.0,215.8 453.0,214.7 448.9,213.5" fill="url(#cg3)"/>
<polygon points="449.7,210.9 453.7,212.1 457.8,213.3 461.8,214.5 465.9,215.7 469.9,216.9 474.0,218.1 478.1,219.3 482.1,220.6 486.2,221.8 490.3,223.1 494.3,224.4 498.4,225.6 502.5,227.0 506.5,228.3 510.6,229.6 514.6,231.0 518.6,232.4 522.7,233.8 526.7,235.2 530.7,236.6 534.7,238.1 538.7,239.6 542.6,241.1 546.6,242.6 550.6,244.2 554.5,245.8 558.4,247.4 562.3,249.1 566.2,250.8 570.1,252.5 574.0,254.3 577.9,256.2 581.7,258.2 585.6,260.2 589.4,262.4 593.2,264.6 597.0,266.9 600.7,269.4 604.5,271.9 608.2,274.6 611.8,277.5 615.4,280.5 618.8,283.6 622.1,287.0 625.2,290.5 628.0,294.2 630.5,298.2 632.7,302.4 634.4,306.7 635.7,311.1 636.6,315.6 637.2,320.1 637.4,324.7 637.3,329.2 636.9,333.8 636.2,338.4 635.2,342.9 634.0,347.4 632.5,351.9 630.8,356.3 628.9,360.6 626.8,364.8 624.5,369.0 622.0,373.0 619.4,376.9 616.6,380.6 613.7,384.2 610.7,387.7 607.5,390.9 604.3,394.0 600.9,397.0 597.5,399.8 594.1,402.5 590.6,405.0 587.0,407.5 583.4,409.9 579.8,412.2 576.2,414.4 572.5,416.6 568.9,418.8 565.2,421.0 561.6,423.1 558.0,425.3 554.4,427.4 550.9,429.6 547.3,431.9 543.7,434.1 540.1,436.4 536.4,438.7 532.6,440.9 528.8,443.0 525.0,445.1 521.1,447.1 517.2,449.0 513.3,450.9 509.3,452.7 505.4,454.4 501.4,456.0 497.4,457.6 493.4,459.2 489.3,460.7 485.3,462.1 481.2,463.5 477.1,464.9 473.1,466.2 469.0,467.5 464.9,468.7 460.7,469.9 456.6,471.1 452.5,472.3 448.4,473.4 444.3,474.5 440.1,475.6 436.0,476.7 431.9,477.8 427.7,478.8 423.6,479.8 419.5,480.8 415.3,481.8 411.2,482.8 407.0,483.7 402.8,484.6 398.6,485.5 394.5,486.4 390.3,487.2 386.1,488.0 381.9,488.8 377.7,489.5 373.4,490.2 369.2,490.9 365.0,491.5 360.7,492.1 356.5,492.6 352.2,493.1 348.0,493.6 343.7,494.0 339.4,494.4 335.1,494.8 330.9,495.1 326.6,495.3 322.3,495.5 318.0,495.7 313.7,495.8 309.3,495.9 305.0,495.9 300.7,495.9 296.4,495.8 292.1,495.7 287.8,495.5 283.5,495.3 279.2,495.1 274.9,494.8 270.6,494.4 266.3,494.1 262.0,493.6 257.7,493.1 253.4,492.6 249.2,492.1 244.9,491.4 240.7,490.8 236.4,490.1 232.2,489.3 227.9,488.5 223.7,487.7 219.5,486.8 215.3,485.8 211.1,484.8 207.0,483.8 202.8,482.7 198.6,481.5 194.5,480.3 190.4,478.9 186.3,477.5 182.2,476.0 178.2,474.4 174.1,472.7 170.1,471.0 166.2,469.1 162.3,467.1 158.4,464.9 154.6,462.7 150.8,460.3 147.1,457.8 143.4,455.2 139.8,452.4 136.3,449.5 132.9,446.5 129.6,443.3 126.4,440.0 123.4,436.6 120.5,433.1 117.8,429.4 115.2,425.6 112.8,421.7 110.6,417.6 108.7,413.4 107.0,409.0 105.6,404.5 104.6,399.9 104.0,395.2 103.9,390.4 104.2,385.6 105.0,380.9 106.1,376.3 107.6,371.8 109.4,367.3 111.6,363.1 114.1,359.0 116.8,355.1 119.8,351.5 123.0,348.1 126.4,344.9 129.8,341.9 133.4,339.1 136.9,336.4 140.6,333.8 144.2,331.3 147.9,328.9 151.6,326.6 155.3,324.4 159.1,322.2 162.9,320.1 166.7,318.0 170.5,316.0 174.4,314.1 178.3,312.3 182.2,310.5 186.1,308.7 190.1,307.1 194.0,305.5 198.0,303.9 202.1,302.4 206.1,301.0 210.2,299.6 214.2,298.3 218.3,297.0 222.4,295.8 226.5,294.6 230.7,293.5 234.8,292.4 239.0,291.3 243.1,290.3 247.3,289.4 251.5,288.5 255.7,287.6 259.9,286.7 264.1,285.9 268.3,285.2 272.5,284.4 276.8,283.7 281.0,283.1 285.2,282.4 289.5,281.8 293.7,281.2 297.9,280.7 302.2,280.1 306.5,279.6 310.7,279.2 315.0,278.7 319.2,278.3 323.5,278.0 327.8,277.6 332.1,277.3 336.3,277.0 340.6,276.8 344.9,276.6 349.2,276.4 353.5,276.2 357.7,276.1 362.0,276.0 366.3,276.0 370.6,275.9 374.9,275.9 379.2,276.0 383.4,276.0 387.7,276.1 392.0,276.2 396.3,276.4 400.6,276.6 404.8,276.8 409.1,277.1 413.4,277.4 417.6,277.7 421.9,278.0 426.1,278.4 430.4,278.8 434.7,279.3 438.9,279.8 443.1,280.3 447.4,280.8 451.6,281.4 455.8,282.0 460.1,282.6 464.3,283.3 468.5,284.0 472.7,284.8 476.9,285.5 481.1,286.4 485.2,287.2 489.4,288.1 493.6,289.0 497.7,289.9 501.9,290.9 506.0,291.9 510.2,293.0 514.3,294.1 518.4,295.2 522.5,296.4 526.6,297.6 530.7,298.9 534.8,300.2 538.8,301.5 542.9,302.9 546.9,304.4 550.9,305.9 555.0,307.4 558.9,309.0 562.9,310.7 566.9,312.4 570.8,314.1 574.8,315.9 578.7,317.8 582.6,319.7 586.4,321.6 590.3,323.6 594.1,325.7 597.9,327.9 601.7,330.1 605.5,332.3 609.3,334.7 613.0,337.1 616.7,339.6 620.3,342.2 623.9,345.0 627.4,347.9 630.7,350.9 633.9,354.1 637.0,357.5 639.9,361.1 642.6,364.8 645.0,368.8 647.2,372.9 649.1,377.2 650.7,381.6 651.9,386.1 652.9,390.8 653.4,395.4 653.6,400.1 653.4,404.8 652.9,409.5 652.1,414.1 651.0,418.6 649.7,423.1 648.0,427.4 646.1,431.7 644.0,435.8 641.6,439.7 639.1,443.5 636.3,447.1 633.4,450.6 630.4,454.0 627.2,457.2 623.9,460.3 620.6,463.3 617.1,466.2 613.6,468.9 610.0,471.6 606.4,474.2 602.7,476.7 599.1,479.2 595.4,481.5 591.7,483.8 587.9,486.1 584.2,488.3 580.4,490.4 576.6,492.4 572.8,494.4 569.0,496.4 565.1,498.3 561.2,500.2 557.3,502.0 553.4,503.7 549.5,505.4 545.6,507.1 541.7,508.7 537.7,510.4 533.8,511.9 529.8,513.5 525.8,515.0 521.8,516.4 517.8,517.9 513.8,519.3 509.8,520.7 505.8,522.1 501.8,523.5 497.7,524.9 493.7,526.2 489.6,527.5 485.6,528.8 481.5,530.1 477.4,531.3 473.4,532.5 469.3,533.7 465.2,534.9 461.1,536.1 456.9,537.2 452.8,538.3 448.7,539.4 444.6,540.5 440.4,541.5 436.3,542.6 432.1,543.6 427.9,544.5 423.8,545.5 419.6,546.4 415.4,547.3 411.2,548.1 407.0,549.0 402.8,549.8 398.6,550.6 394.4,551.3 390.2,552.0 386.0,552.7 381.7,553.4 377.5,554.0 373.3,554.6 369.0,555.2 364.8,555.7 360.5,556.3 356.3,556.7 352.0,557.2 347.7,557.6 343.5,558.0 339.2,558.3 334.9,558.7 330.6,559.0 326.4,559.2 322.1,559.4 317.8,559.6 313.5,559.8 309.2,559.9 304.9,560.0 300.6,560.0 296.3,560.0 292.0,560.0 287.7,559.9 283.4,559.7 279.1,559.6 274.7,559.3 270.4,559.1 266.1,558.7 261.8,558.3 257.6,557.9 253.3,557.4 249.0,556.8 244.7,556.2 240.5,555.5 236.2,554.8 232.0,553.9 227.8,553.0 223.5,552.1 219.3,551.0 215.2,549.9 211.0,548.7 206.9,547.4 202.7,546.1 198.6,544.6 194.5,543.1 190.5,541.4 186.4,539.7 182.4,537.9 178.4,536.0 174.5,534.0 170.5,532.0 166.7,529.8 162.9,527.6 159.1,525.3 155.4,523.0 151.7,520.6 148.2,518.1 144.6,515.5 141.1,512.8 137.7,510.0 134.4,507.0 131.2,503.8 128.1,500.4 125.2,496.9 122.4,493.2 119.8,489.4 117.5,485.4 115.3,481.3 113.3,477.1 111.6,472.7 110.1,468.3 108.8,463.7 107.9,459.1 107.3,454.3 107.0,449.6 107.1,444.8 107.7,440.1 108.8,435.4 110.4,431.0 112.3,426.7 114.6,422.7 117.1,418.8 119.9,415.2 122.8,411.7 125.9,408.3 129.1,405.1 132.4,402.1 135.8,399.1 139.2,396.2 142.7,393.5 146.4,390.8 150.0,388.3 153.8,385.9 157.6,383.6 161.4,381.4 165.3,379.3 169.2,377.3 173.2,375.5 177.2,373.7 181.1,372.0 185.1,370.4 189.1,368.8 193.1,367.3 197.1,365.8 201.1,364.3 205.1,362.9 209.2,361.6 213.2,360.2 217.3,358.9 221.4,357.7 225.5,356.5 229.6,355.3 233.7,354.2 237.8,353.1 242.0,352.1 246.1,351.1 250.3,350.2 254.4,349.3 258.6,348.4 262.8,347.5 267.0,346.8 271.2,346.0 275.4,345.3 279.6,344.6 283.9,344.0 288.1,343.4 292.3,342.8 296.6,342.2 300.8,341.7 305.1,341.3 309.3,340.9 313.6,340.5 317.9,340.1 322.1,339.8 326.4,339.5 330.7,339.2 335.0,339.0 339.3,338.8 343.6,338.6 347.8,338.5 352.1,338.4 356.4,338.3 360.7,338.2 365.0,338.2 369.3,338.2 373.6,338.2 377.9,338.3 382.2,338.4 386.4,338.5 390.7,338.6 395.0,338.8 399.3,339.0 403.6,339.2 407.8,339.5 412.1,339.7 416.4,340.0 420.7,340.4 424.9,340.7 429.2,341.1 433.5,341.5 437.7,342.0 442.0,342.5 446.2,343.0 450.5,343.6 454.7,344.3 459.0,344.9 463.2,345.7 467.4,346.4 471.6,347.2 475.8,348.1 480.0,349.0 484.2,350.0 488.3,351.1 492.5,352.2 496.6,353.3 500.7,354.5 504.9,355.8 509.0,357.1 513.0,358.5 517.1,360.0 521.1,361.6 525.2,363.2 529.1,364.8 533.1,366.6 537.1,368.4 541.0,370.2 544.9,372.1 548.7,374.1 552.6,376.1 556.4,378.1 560.2,380.2 563.9,382.4 567.7,384.6 571.4,386.8 575.0,389.1 578.6,391.4 582.2,393.7 585.8,396.1 589.4,398.5 592.9,401.0 596.3,403.5 599.8,406.1 603.2,408.7 606.6,411.4 609.9,414.1 613.3,416.9 616.6,419.8 619.8,422.7 623.0,425.8 626.2,428.9 629.3,432.1 632.4,435.4 635.4,438.9 638.3,442.5 641.0,446.2 643.5,450.1 645.8,454.1 647.9,458.3 649.6,462.6 651.0,467.2 652.0,471.8 652.6,476.5 652.8,481.2 652.7,485.9 652.2,490.6 651.5,495.3 650.4,499.9 649.0,504.5 647.4,508.9 645.4,513.2 643.2,517.4 640.7,521.4 638.0,525.1 635.0,528.7 632.0,532.1 628.7,535.3 625.4,538.4 622.0,541.3 618.5,544.1 615.0,546.8 611.4,549.4 607.8,551.9 604.3,554.4 600.7,556.8 597.2,559.2 593.7,561.6 590.1,564.0 586.6,566.3 583.0,568.6 579.4,570.9 575.9,573.2 572.3,575.5 568.7,577.7 565.1,579.9 561.4,582.1 557.8,584.3 554.1,586.5 550.4,588.6 546.7,590.7 543.0,592.8 539.2,594.9 535.4,596.9 531.6,598.9 527.8,600.9 524.0,602.9 520.1,604.8 516.3,606.7 512.4,608.6 508.5,610.4 504.5,612.1 500.6,613.9 496.6,615.6 492.7,617.2 488.7,618.8 484.7,620.4 480.6,621.9 480.9,622.7 485.0,621.1 489.0,619.6 493.0,618.0 497.0,616.3 500.9,614.7 504.9,612.9 508.8,611.1 512.7,609.3 516.6,607.5 520.5,605.6 524.4,603.6 528.2,601.7 532.0,599.7 535.8,597.7 539.6,595.6 543.4,593.6 547.1,591.5 550.8,589.3 554.5,587.2 558.2,585.0 561.9,582.8 565.5,580.6 569.1,578.4 572.7,576.2 576.3,573.9 579.9,571.7 583.5,569.4 587.0,567.0 590.6,564.7 594.1,562.3 597.7,559.9 601.2,557.5 604.8,555.1 608.3,552.6 611.9,550.1 615.5,547.5 619.0,544.8 622.5,541.9 626.0,539.0 629.3,535.9 632.6,532.7 635.7,529.3 638.6,525.7 641.4,521.8 643.9,517.8 646.2,513.6 648.2,509.2 649.8,504.7 651.2,500.2 652.3,495.5 653.1,490.8 653.5,486.0 653.7,481.2 653.4,476.4 652.8,471.7 651.8,466.9 650.4,462.4 648.6,457.9 646.6,453.7 644.3,449.6 641.7,445.7 639.0,442.0 636.1,438.3 633.1,434.9 630.0,431.5 626.8,428.3 623.6,425.1 620.4,422.1 617.1,419.1 613.8,416.3 610.5,413.4 607.1,410.7 603.7,408.0 600.3,405.4 596.8,402.8 593.3,400.3 589.8,397.8 586.3,395.4 582.7,393.0 579.1,390.7 575.5,388.4 571.8,386.1 568.1,383.9 564.3,381.7 560.6,379.5 556.8,377.4 553.0,375.4 549.1,373.3 545.2,371.4 541.3,369.5 537.4,367.6 533.5,365.8 529.5,364.1 525.5,362.4 521.4,360.8 517.4,359.2 513.3,357.8 509.2,356.4 505.1,355.0 501.0,353.7 496.8,352.5 492.7,351.4 488.5,350.3 484.3,349.3 480.2,348.3 476.0,347.3 471.8,346.5 467.5,345.7 463.3,344.9 459.1,344.2 454.8,343.5 450.6,342.9 446.3,342.3 442.1,341.8 437.8,341.3 433.6,340.8 429.3,340.4 425.0,340.0 420.7,339.6 416.5,339.3 412.2,339.0 407.9,338.7 403.6,338.5 399.3,338.3 395.0,338.1 390.8,337.9 386.5,337.8 382.2,337.6 377.9,337.6 373.6,337.5 369.3,337.5 365.0,337.5 360.7,337.5 356.4,337.5 352.1,337.6 347.8,337.7 343.5,337.9 339.2,338.0 334.9,338.2 330.7,338.5 326.4,338.7 322.1,339.0 317.8,339.4 313.5,339.7 309.3,340.1 305.0,340.5 300.7,341.0 296.5,341.5 292.2,342.0 288.0,342.6 283.8,343.2 279.5,343.9 275.3,344.5 271.1,345.3 266.9,346.0 262.7,346.8 258.5,347.7 254.3,348.5 250.1,349.4 245.9,350.4 241.8,351.4 237.6,352.4 233.5,353.5 229.4,354.6 225.3,355.8 221.2,357.0 217.1,358.2 213.0,359.5 208.9,360.9 204.9,362.2 200.8,363.7 196.8,365.1 192.8,366.6 188.8,368.2 184.8,369.8 180.8,371.4 176.9,373.1 172.9,374.8 168.9,376.7 165.0,378.7 161.1,380.7 157.2,382.9 153.4,385.3 149.6,387.7 145.9,390.3 142.3,392.9 138.7,395.6 135.3,398.5 131.9,401.5 128.6,404.6 125.4,407.8 122.3,411.2 119.3,414.7 116.5,418.4 113.9,422.3 111.6,426.4 109.6,430.7 108.0,435.2 106.9,439.9 106.3,444.8 106.2,449.6 106.4,454.4 107.1,459.2 108.0,463.9 109.3,468.5 110.8,473.0 112.5,477.4 114.5,481.7 116.7,485.8 119.1,489.8 121.7,493.7 124.5,497.4 127.5,501.0 130.6,504.4 133.8,507.6 137.2,510.6 140.6,513.5 144.1,516.2 147.7,518.8 151.3,521.3 154.9,523.7 158.7,526.0 162.4,528.3 166.3,530.6 170.1,532.7 174.1,534.8 178.0,536.8 182.0,538.7 186.1,540.5 190.1,542.2 194.2,543.9 198.3,545.4 202.4,546.9 206.6,548.2 210.8,549.5 214.9,550.7 219.1,551.8 223.3,552.9 227.6,553.9 231.8,554.8 236.1,555.6 240.3,556.4 244.6,557.0 248.9,557.7 253.2,558.2 257.5,558.7 261.8,559.2 266.1,559.6 270.4,559.9 274.7,560.2 279.0,560.4 283.3,560.6 287.7,560.7 292.0,560.8 296.3,560.8 300.6,560.8 304.9,560.8 309.2,560.7 313.5,560.6 317.8,560.5 322.1,560.3 326.4,560.1 330.7,559.8 335.0,559.5 339.3,559.2 343.5,558.8 347.8,558.5 352.1,558.0 356.3,557.6 360.6,557.1 364.9,556.6 369.1,556.0 373.4,555.5 377.6,554.9 381.9,554.2 386.1,553.6 390.3,552.9 394.5,552.1 398.8,551.4 403.0,550.6 407.2,549.8 411.4,549.0 415.6,548.1 419.8,547.2 423.9,546.3 428.1,545.3 432.3,544.4 436.5,543.4 440.6,542.4 444.8,541.3 448.9,540.2 453.0,539.2 457.2,538.0 461.3,536.9 465.4,535.7 469.5,534.6 473.6,533.3 477.7,532.1 481.8,530.9 485.8,529.6 489.9,528.3 494.0,527.0 498.0,525.7 502.0,524.3 506.1,522.9 510.1,521.5 514.1,520.1 518.1,518.7 522.1,517.2 526.1,515.8 530.1,514.2 534.1,512.7 538.0,511.1 542.0,509.5 545.9,507.9 549.9,506.2 553.8,504.5 557.7,502.7 561.6,500.9 565.5,499.1 569.3,497.2 573.2,495.2 577.0,493.2 580.8,491.1 584.6,489.0 588.4,486.8 592.1,484.6 595.8,482.2 599.5,479.9 603.2,477.4 606.8,474.9 610.5,472.3 614.1,469.6 617.6,466.8 621.1,463.9 624.5,460.9 627.8,457.8 631.0,454.6 634.1,451.2 637.0,447.6 639.8,444.0 642.3,440.2 644.7,436.2 646.9,432.0 648.8,427.8 650.5,423.4 651.8,418.8 652.9,414.3 653.8,409.6 654.2,404.9 654.4,400.1 654.2,395.4 653.7,390.6 652.8,385.9 651.5,381.3 649.9,376.9 647.9,372.5 645.7,368.4 643.2,364.4 640.5,360.6 637.6,357.0 634.5,353.6 631.3,350.3 627.9,347.3 624.4,344.4 620.8,341.6 617.2,338.9 613.5,336.4 609.7,334.0 605.9,331.6 602.2,329.3 598.4,327.1 594.5,325.0 590.7,322.9 586.8,320.9 582.9,318.9 579.0,317.0 575.1,315.2 571.2,313.4 567.2,311.6 563.2,309.9 559.3,308.3 555.2,306.7 551.2,305.1 547.2,303.6 543.2,302.2 539.1,300.8 535.0,299.4 531.0,298.1 526.9,296.8 522.8,295.6 518.6,294.4 514.5,293.3 510.4,292.2 506.2,291.2 502.1,290.1 497.9,289.2 493.8,288.2 489.6,287.3 485.4,286.4 481.2,285.6 477.0,284.8 472.8,284.0 468.6,283.3 464.4,282.6 460.2,281.9 455.9,281.2 451.7,280.6 447.5,280.0 443.2,279.5 439.0,279.0 434.7,278.5 430.5,278.1 426.2,277.6 422.0,277.3 417.7,276.9 413.4,276.6 409.1,276.3 404.9,276.0 400.6,275.8 396.3,275.6 392.0,275.5 387.7,275.4 383.5,275.3 379.2,275.2 374.9,275.2 370.6,275.2 366.3,275.2 362.0,275.3 357.7,275.4 353.4,275.5 349.1,275.6 344.9,275.8 340.6,276.0 336.3,276.3 332.0,276.6 327.7,276.9 323.5,277.2 319.2,277.6 314.9,278.0 310.6,278.4 306.4,278.9 302.1,279.4 297.9,279.9 293.6,280.5 289.4,281.1 285.1,281.7 280.9,282.3 276.6,283.0 272.4,283.7 268.2,284.4 264.0,285.2 259.7,286.0 255.5,286.8 251.3,287.7 247.1,288.6 243.0,289.6 238.8,290.6 234.6,291.6 230.5,292.7 226.3,293.9 222.2,295.1 218.1,296.3 214.0,297.6 209.9,298.9 205.8,300.3 201.8,301.7 197.8,303.2 193.8,304.8 189.8,306.4 185.8,308.0 181.9,309.8 177.9,311.6 174.0,313.4 170.2,315.3 166.3,317.3 162.5,319.4 158.7,321.5 154.9,323.7 151.2,325.9 147.4,328.3 143.8,330.7 140.1,333.1 136.5,335.7 132.9,338.4 129.3,341.3 125.8,344.3 122.5,347.5 119.2,351.0 116.2,354.6 113.4,358.6 110.9,362.7 108.7,367.0 106.8,371.5 105.3,376.1 104.2,380.8 103.4,385.6 103.1,390.4 103.2,395.3 103.8,400.1 104.8,404.8 106.2,409.3 107.9,413.7 109.9,418.0 112.1,422.1 114.5,426.1 117.1,429.9 119.9,433.6 122.8,437.2 125.8,440.6 129.0,443.9 132.3,447.1 135.8,450.1 139.3,453.1 142.9,455.9 146.6,458.5 150.3,461.0 154.1,463.4 158.0,465.7 161.9,467.8 165.8,469.8 169.8,471.7 173.8,473.5 177.8,475.2 181.9,476.8 186.0,478.3 190.1,479.7 194.3,481.0 198.4,482.3 202.6,483.5 206.8,484.6 210.9,485.6 215.1,486.6 219.3,487.6 223.6,488.5 227.8,489.3 232.0,490.1 236.3,490.9 240.5,491.6 244.8,492.3 249.1,492.9 253.3,493.4 257.6,494.0 261.9,494.5 266.2,494.9 270.5,495.3 274.8,495.6 279.1,495.9 283.5,496.2 287.8,496.4 292.1,496.5 296.4,496.6 300.7,496.7 305.0,496.7 309.4,496.7 313.7,496.6 318.0,496.5 322.3,496.3 326.6,496.1 330.9,495.9 335.2,495.6 339.5,495.2 343.8,494.9 348.1,494.4 352.3,494.0 356.6,493.4 360.9,492.9 365.1,492.3 369.3,491.7 373.6,491.0 377.8,490.3 382.0,489.6 386.2,488.8 390.4,488.0 394.6,487.2 398.8,486.3 403.0,485.4 407.2,484.5 411.3,483.6 415.5,482.6 419.7,481.6 423.8,480.6 428.0,479.6 432.1,478.6 436.2,477.5 440.4,476.4 444.5,475.3 448.6,474.2 452.7,473.1 456.9,471.9 461.0,470.7 465.1,469.5 469.2,468.3 473.3,467.0 477.4,465.7 481.5,464.3 485.6,462.9 489.6,461.5 493.7,460.0 497.7,458.4 501.7,456.8 505.7,455.2 509.7,453.4 513.6,451.6 517.6,449.8 521.5,447.9 525.3,445.9 529.2,443.8 533.0,441.6 536.8,439.4 540.5,437.1 544.1,434.9 547.7,432.6 551.3,430.3 554.9,428.1 558.4,426.0 562.0,423.8 565.7,421.7 569.3,419.5 572.9,417.4 576.6,415.1 580.2,412.9 583.9,410.6 587.5,408.2 591.0,405.7 594.6,403.1 598.1,400.4 601.5,397.6 604.8,394.6 608.1,391.5 611.3,388.2 614.3,384.8 617.3,381.1 620.1,377.4 622.7,373.4 625.2,369.4 627.5,365.2 629.6,361.0 631.6,356.6 633.3,352.2 634.8,347.7 636.0,343.1 637.0,338.5 637.7,333.9 638.1,329.3 638.2,324.6 638.0,320.0 637.4,315.4 636.5,310.9 635.1,306.4 633.4,302.0 631.2,297.8 628.7,293.8 625.8,290.0 622.7,286.4 619.4,283.0 615.9,279.8 612.3,276.8 608.7,274.0 604.9,271.3 601.2,268.7 597.4,266.3 593.6,263.9 589.8,261.7 586.0,259.6 582.1,257.5 578.2,255.5 574.4,253.6 570.5,251.8 566.6,250.1 562.6,248.4 558.7,246.7 554.8,245.1 550.8,243.5 546.9,241.9 542.9,240.4 538.9,238.9 534.9,237.4 530.9,235.9 526.9,234.5 522.9,233.1 518.9,231.7 514.8,230.3 510.8,228.9 506.7,227.6 502.7,226.3 498.6,225.0 494.6,223.7 490.5,222.4 486.4,221.1 482.3,219.9 478.3,218.6 474.2,217.4 470.1,216.2 466.1,215.0 462.0,213.8 458.0,212.6 453.9,211.4 449.8,210.3" fill="url(#cgs)"/>
<polygon points="446.0,223.7 450.0,224.8 454.0,226.0 458.1,227.2 462.1,228.4 466.1,229.6 470.2,230.8 474.2,232.0 478.2,233.3 482.2,234.5 486.3,235.8 490.3,237.1 494.3,238.4 498.3,239.7 502.3,241.0 506.2,242.4 510.2,243.8 514.2,245.2 518.1,246.6 522.0,248.0 526.0,249.5 529.9,251.0 533.7,252.5 537.6,254.0 541.5,255.6 545.3,257.1 549.1,258.7 552.9,260.4 556.7,262.0 560.4,263.7 564.1,265.4 567.7,267.2 571.4,269.1 575.0,271.0 578.5,273.0 582.1,275.0 585.5,277.1 589.0,279.3 592.4,281.6 595.8,284.0 599.1,286.5 602.4,289.1 605.4,291.7 608.3,294.4 611.0,297.2 613.3,300.0 615.4,302.9 617.2,305.7 618.6,308.6 619.8,311.7 620.7,314.8 621.3,318.0 621.7,321.4 621.9,324.8 621.8,328.3 621.5,331.9 620.9,335.6 620.1,339.3 619.1,343.0 617.9,346.7 616.5,350.4 614.9,354.0 613.1,357.6 611.1,361.2 609.0,364.6 606.8,367.9 604.4,371.2 601.9,374.2 599.3,377.1 596.6,379.9 593.8,382.6 590.9,385.2 587.9,387.7 584.8,390.1 581.6,392.4 578.3,394.7 575.0,396.9 571.6,399.1 568.1,401.2 564.6,403.4 561.0,405.5 557.4,407.6 553.7,409.8 550.0,412.0 546.3,414.2 542.7,416.5 539.0,418.8 535.5,421.0 531.9,423.2 528.4,425.4 524.8,427.5 521.3,429.5 517.7,431.4 514.1,433.3 510.5,435.1 506.8,436.8 503.1,438.5 499.3,440.2 495.5,441.7 491.7,443.3 487.9,444.8 484.1,446.2 480.2,447.6 476.3,448.9 472.3,450.2 468.4,451.5 464.4,452.8 460.4,454.0 456.4,455.2 452.4,456.3 448.4,457.4 444.3,458.6 440.3,459.6 436.2,460.7 432.2,461.8 428.1,462.8 424.0,463.9 419.9,464.9 415.9,465.8 411.8,466.8 407.7,467.8 403.7,468.7 399.6,469.6 395.5,470.4 391.4,471.3 387.3,472.1 383.2,472.8 379.2,473.6 375.1,474.3 371.0,475.0 366.9,475.6 362.8,476.2 358.7,476.8 354.6,477.3 350.5,477.8 346.4,478.3 342.2,478.7 338.1,479.1 334.0,479.4 329.9,479.7 325.7,479.9 321.6,480.1 317.5,480.3 313.3,480.4 309.2,480.5 305.0,480.5 300.9,480.5 296.7,480.4 292.6,480.3 288.4,480.1 284.3,479.9 280.2,479.7 276.0,479.4 271.9,479.1 267.8,478.7 263.6,478.3 259.5,477.8 255.4,477.3 251.3,476.8 247.2,476.2 243.1,475.6 239.0,474.9 235.0,474.2 230.9,473.4 226.8,472.6 222.8,471.7 218.8,470.8 214.8,469.9 210.8,468.9 206.9,467.8 203.0,466.7 199.1,465.5 195.2,464.3 191.4,463.0 187.7,461.6 183.9,460.2 180.3,458.6 176.6,457.0 173.0,455.2 169.5,453.4 166.0,451.5 162.6,449.5 159.2,447.3 155.9,445.1 152.7,442.8 149.5,440.3 146.4,437.8 143.4,435.1 140.6,432.4 137.8,429.5 135.2,426.6 132.7,423.5 130.4,420.4 128.3,417.2 126.3,414.0 124.5,410.7 122.9,407.3 121.6,404.0 120.6,400.6 119.9,397.3 119.4,394.0 119.3,390.7 119.5,387.3 119.9,383.9 120.7,380.4 121.8,377.0 123.2,373.7 124.8,370.4 126.7,367.3 128.8,364.3 131.2,361.4 133.7,358.6 136.5,356.0 139.4,353.4 142.5,350.9 145.8,348.4 149.1,346.0 152.5,343.6 155.9,341.3 159.3,339.1 162.8,336.9 166.3,334.8 169.9,332.8 173.5,330.8 177.1,328.9 180.7,327.1 184.4,325.3 188.1,323.6 191.8,321.9 195.6,320.3 199.3,318.8 203.1,317.3 207.0,315.9 210.8,314.5 214.7,313.1 218.6,311.9 222.5,310.6 226.4,309.4 230.4,308.3 234.4,307.2 238.3,306.1 242.4,305.1 246.4,304.1 250.4,303.2 254.5,302.3 258.5,301.4 262.6,300.6 266.7,299.8 270.8,299.1 274.9,298.3 279.0,297.6 283.2,297.0 287.3,296.3 291.4,295.7 295.6,295.2 299.7,294.6 303.9,294.1 308.0,293.6 312.2,293.2 316.4,292.7 320.5,292.4 324.7,292.0 328.9,291.7 333.0,291.4 337.2,291.1 341.4,290.8 345.6,290.6 349.7,290.4 353.9,290.3 358.1,290.2 362.3,290.1 366.5,290.0 370.6,290.0 374.8,290.0 379.0,290.1 383.2,290.1 387.3,290.2 391.5,290.4 395.7,290.5 399.9,290.7 404.0,291.0 408.2,291.2 412.3,291.5 416.5,291.8 420.6,292.2 424.8,292.6 428.9,293.0 433.1,293.4 437.2,293.9 441.3,294.5 445.5,295.0 449.6,295.6 453.7,296.2 457.8,296.9 461.9,297.6 466.0,298.3 470.1,299.0 474.1,299.8 478.2,300.6 482.2,301.5 486.3,302.4 490.3,303.3 494.4,304.2 498.4,305.2 502.4,306.2 506.4,307.3 510.4,308.4 514.3,309.5 518.3,310.7 522.2,311.9 526.2,313.1 530.1,314.4 534.0,315.7 537.9,317.1 541.7,318.5 545.6,320.0 549.4,321.5 553.2,323.0 557.0,324.6 560.8,326.2 564.6,327.9 568.3,329.7 572.0,331.4 575.7,333.3 579.4,335.2 583.1,337.1 586.7,339.1 590.3,341.2 593.9,343.3 597.5,345.5 601.0,347.7 604.4,349.9 607.8,352.2 611.1,354.6 614.2,357.1 617.2,359.6 620.0,362.2 622.7,364.8 625.2,367.6 627.5,370.5 629.7,373.4 631.6,376.5 633.3,379.7 634.7,383.0 635.9,386.3 636.9,389.7 637.5,393.1 637.9,396.6 638.1,400.2 638.0,403.7 637.6,407.4 637.0,411.0 636.1,414.5 635.0,418.1 633.7,421.5 632.2,424.9 630.5,428.2 628.6,431.4 626.5,434.5 624.2,437.5 621.7,440.4 619.1,443.3 616.3,446.1 613.4,448.8 610.4,451.5 607.3,454.0 604.1,456.6 600.8,459.0 597.4,461.5 594.0,463.8 590.5,466.1 587.0,468.3 583.5,470.5 580.0,472.6 576.4,474.6 572.8,476.6 569.2,478.6 565.6,480.5 561.9,482.4 558.2,484.2 554.5,485.9 550.8,487.6 547.1,489.3 543.3,491.0 539.5,492.6 535.7,494.2 531.9,495.7 528.0,497.3 524.2,498.7 520.3,500.2 516.4,501.7 512.5,503.1 508.6,504.5 504.6,505.9 500.7,507.2 496.7,508.6 492.8,509.9 488.8,511.2 484.8,512.5 480.9,513.8 476.9,515.0 472.9,516.2 468.9,517.4 464.9,518.6 460.8,519.8 456.8,520.9 452.8,522.0 448.8,523.1 444.7,524.2 440.7,525.2 436.6,526.3 432.6,527.3 428.5,528.2 424.4,529.2 420.3,530.1 416.3,531.0 412.2,531.9 408.1,532.7 404.0,533.5 399.9,534.3 395.8,535.1 391.7,535.8 387.6,536.5 383.5,537.2 379.3,537.8 375.2,538.4 371.1,539.0 367.0,539.6 362.8,540.1 358.7,540.6 354.5,541.1 350.4,541.5 346.3,541.9 342.1,542.3 338.0,542.7 333.8,543.0 329.6,543.2 325.5,543.5 321.3,543.7 317.2,543.9 313.0,544.0 308.8,544.1 304.7,544.2 300.5,544.2 296.4,544.2 292.2,544.2 288.1,544.1 283.9,544.0 279.8,543.8 275.7,543.6 271.6,543.4 267.5,543.0 263.4,542.7 259.3,542.2 255.2,541.8 251.2,541.2 247.1,540.6 243.1,540.0 239.1,539.3 235.1,538.5 231.2,537.7 227.2,536.8 223.3,535.8 219.4,534.7 215.5,533.6 211.6,532.4 207.8,531.2 204.0,529.8 200.2,528.4 196.5,526.9 192.7,525.3 189.0,523.6 185.3,521.9 181.7,520.1 178.0,518.1 174.5,516.1 170.9,514.1 167.4,512.0 164.0,509.8 160.6,507.5 157.3,505.2 154.0,502.9 150.9,500.5 148.0,498.1 145.1,495.5 142.4,492.9 139.9,490.1 137.4,487.2 135.1,484.2 133.0,481.0 131.0,477.7 129.2,474.4 127.6,470.9 126.1,467.4 124.9,463.8 123.9,460.1 123.2,456.5 122.7,452.9 122.5,449.3 122.5,445.9 122.9,442.7 123.5,439.5 124.5,436.4 125.8,433.3 127.3,430.2 129.2,427.1 131.3,424.0 133.7,420.9 136.2,417.9 138.9,415.0 141.8,412.1 144.8,409.4 147.8,406.8 151.0,404.2 154.2,401.8 157.5,399.4 160.9,397.2 164.4,395.1 167.9,393.1 171.4,391.2 175.1,389.4 178.7,387.7 182.5,386.0 186.3,384.4 190.1,382.8 193.9,381.3 197.8,379.8 201.7,378.4 205.6,377.0 209.5,375.7 213.4,374.4 217.3,373.1 221.3,371.9 225.2,370.7 229.2,369.6 233.2,368.5 237.2,367.4 241.2,366.4 245.2,365.4 249.2,364.5 253.2,363.6 257.3,362.7 261.3,361.9 265.4,361.1 269.5,360.3 273.6,359.6 277.7,358.9 281.8,358.2 285.9,357.6 290.0,357.0 294.1,356.5 298.2,356.0 302.4,355.5 306.5,355.0 310.7,354.6 314.8,354.2 319.0,353.9 323.2,353.6 327.3,353.3 331.5,353.0 335.7,352.8 339.9,352.6 344.1,352.4 348.2,352.3 352.4,352.2 356.6,352.1 360.8,352.0 365.0,352.0 369.2,352.0 373.4,352.1 377.6,352.1 381.8,352.2 386.0,352.4 390.2,352.5 394.4,352.7 398.6,352.9 402.8,353.1 407.0,353.4 411.2,353.7 415.3,354.0 419.5,354.3 423.7,354.7 427.8,355.1 432.0,355.6 436.1,356.1 440.2,356.6 444.3,357.2 448.4,357.8 452.5,358.4 456.5,359.1 460.6,359.8 464.6,360.6 468.7,361.5 472.7,362.3 476.7,363.3 480.6,364.2 484.6,365.3 488.5,366.4 492.4,367.5 496.3,368.7 500.2,370.0 504.1,371.3 507.9,372.7 511.7,374.1 515.6,375.6 519.3,377.2 523.1,378.8 526.9,380.5 530.6,382.2 534.3,384.0 538.0,385.8 541.7,387.7 545.4,389.6 549.0,391.6 552.6,393.6 556.2,395.7 559.7,397.8 563.2,400.0 566.7,402.2 570.2,404.4 573.6,406.7 577.0,409.0 580.4,411.3 583.7,413.7 587.0,416.1 590.3,418.6 593.5,421.1 596.7,423.6 599.8,426.2 602.9,428.9 606.0,431.6 609.0,434.4 612.0,437.2 614.9,440.1 617.8,443.1 620.6,446.0 623.2,449.1 625.7,452.1 627.9,455.3 630.0,458.4 631.8,461.5 633.3,464.7 634.6,467.9 635.6,471.1 636.3,474.5 636.7,477.9 636.9,481.4 636.8,484.9 636.4,488.5 635.8,492.1 634.9,495.7 633.8,499.3 632.5,502.7 631.0,506.1 629.3,509.3 627.3,512.4 625.2,515.4 622.9,518.3 620.4,521.1 617.7,523.8 614.9,526.5 611.9,529.0 608.7,531.5 605.5,534.0 602.1,536.5 598.7,538.9 595.3,541.3 591.8,543.7 588.3,546.1 584.8,548.4 581.3,550.8 577.8,553.1 574.4,555.4 570.9,557.6 567.4,559.9 563.9,562.1 560.4,564.3 556.8,566.5 553.3,568.6 549.7,570.8 546.2,572.9 542.6,575.0 538.9,577.0 535.3,579.1 531.7,581.1 528.0,583.1 524.3,585.0 520.6,586.9 516.9,588.8 513.2,590.7 509.4,592.5 505.7,594.3 501.9,596.1 498.1,597.8 494.3,599.4 490.5,601.1 486.7,602.6 482.9,604.2 479.1,605.6 475.2,607.1 475.5,607.8 479.3,606.3 483.2,604.9 487.0,603.3 490.8,601.7 494.6,600.1 498.4,598.5 502.2,596.7 506.0,595.0 509.8,593.2 513.5,591.4 517.2,589.5 521.0,587.6 524.7,585.7 528.3,583.7 532.0,581.7 535.7,579.7 539.3,577.7 542.9,575.6 546.5,573.5 550.1,571.4 553.7,569.3 557.2,567.1 560.8,564.9 564.3,562.7 567.8,560.5 571.3,558.3 574.8,556.0 578.3,553.7 581.7,551.4 585.2,549.1 588.7,546.7 592.2,544.3 595.7,541.9 599.2,539.5 602.6,537.1 605.9,534.6 609.2,532.1 612.3,529.6 615.4,527.0 618.2,524.4 621.0,521.6 623.5,518.8 625.8,515.9 628.0,512.9 629.9,509.7 631.7,506.4 633.2,503.0 634.6,499.5 635.7,495.9 636.5,492.3 637.2,488.6 637.5,485.0 637.6,481.4 637.5,477.8 637.0,474.3 636.3,471.0 635.3,467.7 634.0,464.4 632.4,461.2 630.6,458.0 628.5,454.8 626.3,451.7 623.8,448.6 621.1,445.5 618.4,442.5 615.5,439.6 612.5,436.7 609.5,433.8 606.5,431.0 603.4,428.3 600.3,425.6 597.2,423.0 594.0,420.5 590.7,418.0 587.5,415.5 584.2,413.1 580.8,410.7 577.5,408.4 574.1,406.1 570.6,403.8 567.1,401.5 563.6,399.3 560.1,397.2 556.5,395.1 553.0,393.0 549.3,390.9 545.7,389.0 542.0,387.0 538.4,385.1 534.7,383.3 530.9,381.5 527.2,379.8 523.4,378.1 519.6,376.5 515.8,375.0 512.0,373.5 508.2,372.0 504.3,370.6 500.4,369.3 496.6,368.1 492.6,366.8 488.7,365.7 484.8,364.6 480.8,363.6 476.8,362.6 472.8,361.7 468.8,360.8 464.8,359.9 460.7,359.2 456.7,358.4 452.6,357.7 448.5,357.1 444.4,356.5 440.3,355.9 436.2,355.4 432.0,354.9 427.9,354.4 423.7,354.0 419.6,353.7 415.4,353.3 411.2,353.0 407.0,352.7 402.8,352.5 398.6,352.2 394.4,352.0 390.2,351.9 386.0,351.7 381.8,351.6 377.6,351.5 373.4,351.4 369.2,351.4 365.0,351.4 360.8,351.4 356.6,351.4 352.4,351.5 348.2,351.6 344.0,351.8 339.8,351.9 335.7,352.1 331.5,352.3 327.3,352.6 323.1,352.9 318.9,353.2 314.8,353.6 310.6,354.0 306.5,354.4 302.3,354.8 298.2,355.3 294.0,355.8 289.9,356.4 285.8,357.0 281.7,357.6 277.6,358.3 273.5,358.9 269.4,359.7 265.3,360.4 261.2,361.2 257.2,362.1 253.1,362.9 249.1,363.8 245.0,364.8 241.0,365.8 237.0,366.8 233.0,367.9 229.0,369.0 225.0,370.1 221.1,371.3 217.1,372.5 213.2,373.8 209.3,375.1 205.3,376.4 201.4,377.8 197.6,379.2 193.7,380.7 189.9,382.2 186.0,383.8 182.2,385.4 178.5,387.1 174.8,388.8 171.1,390.6 167.6,392.5 164.0,394.6 160.6,396.7 157.1,398.9 153.8,401.2 150.6,403.7 147.4,406.3 144.3,408.9 141.3,411.7 138.5,414.5 135.7,417.5 133.1,420.5 130.8,423.5 128.6,426.7 126.7,429.8 125.1,433.0 123.8,436.2 122.8,439.3 122.2,442.6 121.8,445.9 121.7,449.3 121.9,452.9 122.4,456.6 123.2,460.3 124.2,464.0 125.4,467.6 126.9,471.2 128.5,474.7 130.4,478.1 132.4,481.4 134.5,484.6 136.9,487.7 139.3,490.6 141.9,493.4 144.6,496.1 147.5,498.6 150.5,501.1 153.6,503.5 156.8,505.8 160.2,508.1 163.6,510.4 167.0,512.6 170.5,514.7 174.1,516.8 177.7,518.8 181.3,520.7 185.0,522.6 188.7,524.3 192.4,526.0 196.2,527.6 199.9,529.1 203.7,530.5 207.6,531.9 211.4,533.1 215.3,534.3 219.2,535.5 223.1,536.5 227.0,537.5 231.0,538.4 235.0,539.2 239.0,540.0 243.0,540.7 247.0,541.4 251.1,542.0 255.1,542.5 259.2,543.0 263.3,543.4 267.4,543.8 271.5,544.1 275.6,544.4 279.8,544.6 283.9,544.8 288.0,544.9 292.2,545.0 296.4,545.0 300.5,545.0 304.7,545.0 308.9,544.9 313.0,544.8 317.2,544.6 321.4,544.5 325.5,544.2 329.7,544.0 333.9,543.7 338.0,543.4 342.2,543.1 346.3,542.7 350.5,542.3 354.6,541.8 358.8,541.4 362.9,540.9 367.0,540.3 371.2,539.8 375.3,539.2 379.4,538.6 383.6,537.9 387.7,537.2 391.8,536.5 395.9,535.8 400.0,535.0 404.1,534.3 408.2,533.4 412.3,532.6 416.4,531.7 420.5,530.8 424.6,529.9 428.7,529.0 432.7,528.0 436.8,527.0 440.9,526.0 444.9,524.9 448.9,523.9 453.0,522.8 457.0,521.6 461.0,520.5 465.1,519.3 469.1,518.2 473.1,517.0 477.1,515.7 481.1,514.5 485.1,513.2 489.0,511.9 493.0,510.6 497.0,509.3 500.9,507.9 504.9,506.6 508.8,505.2 512.7,503.8 516.7,502.4 520.5,500.9 524.4,499.5 528.3,498.0 532.1,496.4 536.0,494.9 539.8,493.3 543.6,491.7 547.4,490.0 551.1,488.3 554.9,486.6 558.6,484.8 562.3,483.0 565.9,481.2 569.6,479.3 573.2,477.3 576.8,475.3 580.4,473.2 583.9,471.1 587.4,468.9 590.9,466.7 594.4,464.4 597.8,462.1 601.2,459.6 604.5,457.2 607.8,454.6 610.9,452.0 613.9,449.3 616.9,446.6 619.6,443.8 622.3,440.9 624.8,437.9 627.1,434.9 629.2,431.8 631.1,428.5 632.9,425.2 634.4,421.8 635.7,418.3 636.8,414.7 637.7,411.1 638.3,407.5 638.7,403.8 638.8,400.2 638.7,396.6 638.3,393.0 637.6,389.5 636.6,386.1 635.4,382.7 633.9,379.4 632.2,376.1 630.3,373.0 628.1,370.0 625.8,367.1 623.3,364.3 620.6,361.6 617.7,359.0 614.7,356.5 611.5,354.0 608.2,351.6 604.9,349.3 601.4,347.0 597.9,344.8 594.3,342.7 590.7,340.5 587.1,338.5 583.4,336.5 579.7,334.5 576.1,332.6 572.3,330.8 568.6,329.0 564.9,327.3 561.1,325.6 557.3,323.9 553.5,322.3 549.7,320.8 545.8,319.3 542.0,317.8 538.1,316.4 534.2,315.1 530.3,313.7 526.4,312.5 522.5,311.2 518.5,310.0 514.5,308.8 510.6,307.7 506.6,306.6 502.6,305.6 498.6,304.5 494.5,303.6 490.5,302.6 486.4,301.7 482.4,300.8 478.3,300.0 474.3,299.1 470.2,298.3 466.1,297.6 462.0,296.9 457.9,296.2 453.8,295.5 449.7,294.9 445.5,294.3 441.4,293.8 437.3,293.3 433.1,292.8 429.0,292.3 424.9,291.9 420.7,291.5 416.5,291.2 412.4,290.8 408.2,290.5 404.1,290.3 399.9,290.0 395.7,289.9 391.5,289.7 387.4,289.6 383.2,289.4 379.0,289.4 374.8,289.3 370.6,289.3 366.4,289.4 362.3,289.4 358.1,289.5 353.9,289.6 349.7,289.8 345.5,290.0 341.3,290.2 337.2,290.4 333.0,290.7 328.8,291.0 324.6,291.3 320.5,291.7 316.3,292.1 312.1,292.5 308.0,293.0 303.8,293.4 299.6,294.0 295.5,294.5 291.3,295.1 287.2,295.7 283.1,296.3 278.9,297.0 274.8,297.7 270.7,298.4 266.6,299.2 262.5,299.9 258.4,300.8 254.3,301.6 250.3,302.5 246.2,303.5 242.2,304.4 238.2,305.5 234.2,306.5 230.2,307.6 226.2,308.8 222.3,310.0 218.4,311.2 214.5,312.5 210.6,313.8 206.7,315.2 202.9,316.7 199.1,318.2 195.3,319.7 191.5,321.3 187.8,323.0 184.1,324.7 180.4,326.5 176.8,328.3 173.1,330.2 169.6,332.2 166.0,334.2 162.5,336.3 159.0,338.5 155.5,340.7 152.1,343.0 148.7,345.4 145.4,347.8 142.1,350.3 139.0,352.8 136.0,355.4 133.2,358.1 130.6,360.9 128.2,363.8 126.1,366.9 124.2,370.1 122.6,373.4 121.2,376.8 120.0,380.2 119.2,383.7 118.7,387.2 118.5,390.6 118.7,394.0 119.1,397.4 119.9,400.8 120.9,404.2 122.3,407.6 123.8,411.0 125.6,414.3 127.6,417.6 129.8,420.9 132.1,424.0 134.6,427.1 137.3,430.0 140.0,432.9 142.9,435.6 145.9,438.3 149.0,440.9 152.2,443.4 155.5,445.7 158.8,448.0 162.2,450.1 165.7,452.1 169.2,454.1 172.7,455.9 176.3,457.6 180.0,459.3 183.7,460.8 187.4,462.3 191.2,463.7 195.0,465.0 198.9,466.2 202.8,467.4 206.7,468.5 210.6,469.6 214.6,470.6 218.6,471.5 222.7,472.4 226.7,473.3 230.8,474.1 234.8,474.9 238.9,475.6 243.0,476.3 247.1,476.9 251.2,477.5 255.3,478.1 259.4,478.6 263.6,479.0 267.7,479.5 271.8,479.8 276.0,480.1 280.1,480.4 284.3,480.7 288.4,480.9 292.6,481.0 296.7,481.1 300.9,481.2 305.0,481.2 309.2,481.2 313.3,481.1 317.5,481.0 321.6,480.9 325.8,480.7 329.9,480.4 334.1,480.1 338.2,479.8 342.3,479.4 346.4,479.0 350.6,478.6 354.7,478.1 358.8,477.5 362.9,477.0 367.0,476.4 371.1,475.7 375.2,475.0 379.3,474.3 383.4,473.6 387.5,472.8 391.6,472.0 395.6,471.1 399.7,470.3 403.8,469.4 407.9,468.5 412.0,467.5 416.0,466.6 420.1,465.6 424.2,464.6 428.3,463.5 432.3,462.5 436.4,461.4 440.5,460.4 444.5,459.3 448.6,458.1 452.6,457.0 456.6,455.9 460.6,454.7 464.6,453.5 468.6,452.2 472.6,450.9 476.5,449.6 480.4,448.3 484.3,446.9 488.2,445.5 492.0,444.0 495.8,442.4 499.6,440.8 503.4,439.2 507.1,437.5 510.8,435.8 514.4,433.9 518.1,432.1 521.7,430.1 525.2,428.1 528.7,426.0 532.3,423.9 535.8,421.7 539.4,419.4 543.1,417.1 546.7,414.8 550.4,412.6 554.1,410.4 557.7,408.3 561.4,406.1 564.9,404.0 568.5,401.9 572.0,399.7 575.4,397.5 578.7,395.3 582.0,393.0 585.2,390.7 588.3,388.3 591.4,385.8 594.3,383.2 597.1,380.5 599.8,377.6 602.5,374.7 605.0,371.6 607.4,368.4 609.6,365.0 611.8,361.5 613.7,358.0 615.5,354.3 617.2,350.7 618.6,346.9 619.8,343.2 620.9,339.4 621.7,335.7 622.2,332.0 622.6,328.4 622.6,324.8 622.5,321.3 622.1,317.9 621.4,314.6 620.5,311.4 619.3,308.3 617.8,305.4 616.0,302.5 613.9,299.6 611.5,296.7 608.8,293.9 605.9,291.2 602.8,288.5 599.6,286.0 596.2,283.5 592.8,281.1 589.4,278.7 585.9,276.5 582.4,274.4 578.9,272.3 575.3,270.4 571.7,268.5 568.0,266.6 564.4,264.8 560.7,263.1 556.9,261.4 553.2,259.7 549.4,258.1 545.6,256.5 541.7,254.9 537.9,253.4 534.0,251.9 530.1,250.4 526.2,248.9 522.3,247.4 518.3,246.0 514.4,244.6 510.4,243.2 506.4,241.8 502.5,240.4 498.5,239.1 494.5,237.8 490.5,236.5 486.4,235.2 482.4,233.9 478.4,232.7 474.4,231.4 470.4,230.2 466.3,229.0 462.3,227.8 458.3,226.6 454.2,225.4 450.2,224.2 446.2,223.1" fill="url(#cgs)"/>
<polygon points="635.8,412.6 635.5,414.1 635.1,415.5 634.6,416.9 634.1,418.3 633.6,419.7 633.1,421.1 632.5,422.4 631.9,423.8 631.3,425.1 630.6,426.4 629.9,427.7 629.1,429.0 628.4,430.3 627.6,431.6 626.7,432.8 625.8,434.0 625.0,435.2 624.0,436.5 623.1,437.7 622.1,438.8 621.1,440.0 620.0,441.2 619.0,442.3 617.9,443.5 616.8,444.6 615.7,445.7 614.5,446.8 613.3,447.9 612.1,449.0 610.9,450.1 609.7,451.1 608.4,452.2 607.2,453.2 605.9,454.2 604.6,455.3 603.3,456.3 601.9,457.3 600.6,458.3 599.2,459.2 597.9,460.2 596.5,461.2 595.1,462.1 593.7,463.1 592.3,464.0 590.9,464.9 589.5,465.9 588.1,466.8 586.7,467.7 585.3,468.5 583.9,469.4 582.4,470.3 581.0,471.1 579.6,472.0 589.0,488.1 590.6,487.2 592.1,486.2 593.6,485.3 595.1,484.4 596.6,483.4 598.2,482.5 599.7,481.5 601.2,480.5 602.7,479.5 604.2,478.5 605.6,477.5 607.1,476.4 608.6,475.4 610.1,474.3 611.6,473.3 613.1,472.2 614.5,471.1 616.0,469.9 617.4,468.8 618.9,467.7 620.3,466.5 621.7,465.3 623.1,464.1 624.5,462.8 625.9,461.6 627.3,460.3 628.6,459.0 630.0,457.7 631.3,456.4 632.5,455.0 633.8,453.6 635.1,452.2 636.3,450.8 637.5,449.3 638.7,447.9 639.8,446.4 640.9,444.8 642.0,443.3 643.1,441.7 644.1,440.1 645.1,438.4 646.0,436.8 646.9,435.1 647.8,433.4 648.7,431.6 649.5,429.9 650.2,428.1 650.9,426.3 651.6,424.4 652.2,422.6 652.8,420.7 653.3,418.8 653.8,417.0" fill="url(#cg0)"/>
<polygon points="638.3,411.6 638.0,413.1 637.6,414.6 637.2,416.1 636.7,417.6 636.2,419.0 635.7,420.5 635.2,421.9 634.6,423.3 633.9,424.7 633.3,426.1 632.6,427.5 631.8,428.8 631.0,430.2 630.2,431.5 629.4,432.8 628.6,434.1 627.7,435.3 626.7,436.6 625.8,437.8 624.8,439.1 623.8,440.3 622.8,441.5 621.7,442.7 620.6,443.8 619.5,445.0 618.4,446.2 617.2,447.3 616.0,448.4 614.8,449.5 613.6,450.6 612.4,451.7 611.1,452.8 609.9,453.9 608.6,454.9 607.3,456.0 605.9,457.0 604.6,458.0 603.3,459.1 601.9,460.1 600.5,461.1 599.2,462.0 597.8,463.0 596.4,464.0 595.0,464.9 593.6,465.9 592.2,466.8 590.7,467.7 589.3,468.6 587.9,469.5 586.5,470.4 585.0,471.3 583.6,472.2 582.2,473.1 580.7,473.9 579.3,474.7 586.8,487.7 588.3,486.8 589.8,485.9 591.3,485.0 592.8,484.0 594.3,483.1 595.9,482.2 597.4,481.2 598.9,480.2 600.3,479.3 601.8,478.3 603.3,477.3 604.8,476.2 606.3,475.2 607.8,474.2 609.2,473.1 610.7,472.1 612.2,471.0 613.6,469.9 615.1,468.8 616.5,467.6 617.9,466.5 619.4,465.3 620.8,464.2 622.2,463.0 623.5,461.7 624.9,460.5 626.3,459.2 627.6,458.0 628.9,456.7 630.2,455.3 631.5,454.0 632.7,452.6 633.9,451.2 635.2,449.8 636.3,448.4 637.5,446.9 638.6,445.5 639.7,444.0 640.8,442.4 641.8,440.9 642.8,439.3 643.8,437.7 644.7,436.1 645.6,434.4 646.5,432.7 647.3,431.0 648.1,429.3 648.9,427.5 649.6,425.7 650.2,423.9 650.8,422.1 651.4,420.3 651.9,418.5 652.4,416.6 652.8,414.7" fill="url(#cg1)"/>
<polygon points="641.4,410.7 641.1,412.2 640.8,413.8 640.4,415.4 639.9,416.9 639.5,418.5 638.9,420.0 638.4,421.5 637.8,423.0 637.2,424.5 636.5,425.9 635.8,427.4 635.1,428.8 634.3,430.2 633.5,431.6 632.7,433.0 631.8,434.3 630.9,435.7 630.0,437.0 629.0,438.3 628.1,439.6 627.0,440.9 626.0,442.1 624.9,443.4 623.8,444.6 622.7,445.8 621.6,447.0 620.4,448.2 619.2,449.4 618.0,450.5 616.8,451.7 615.5,452.8 614.3,453.9 613.0,455.0 611.7,456.1 610.4,457.2 609.1,458.2 607.7,459.3 606.4,460.3 605.0,461.4 603.6,462.4 602.2,463.4 600.8,464.4 599.4,465.4 598.0,466.4 596.6,467.3 595.2,468.3 593.7,469.2 592.3,470.2 590.9,471.1 589.4,472.0 588.0,472.9 586.5,473.8 585.1,474.7 583.6,475.5 582.2,476.4 580.7,477.3 579.2,478.1 584.4,487.0 585.9,486.1 587.4,485.3 588.9,484.4 590.4,483.4 591.9,482.5 593.4,481.6 594.9,480.7 596.4,479.7 597.9,478.7 599.4,477.8 600.9,476.8 602.3,475.8 603.8,474.8 605.3,473.8 606.7,472.7 608.2,471.7 609.7,470.6 611.1,469.6 612.6,468.5 614.0,467.4 615.4,466.3 616.8,465.1 618.2,464.0 619.6,462.8 621.0,461.6 622.4,460.4 623.7,459.2 625.0,458.0 626.4,456.7 627.6,455.4 628.9,454.1 630.2,452.8 631.4,451.4 632.6,450.1 633.8,448.7 635.0,447.3 636.1,445.9 637.2,444.4 638.3,442.9 639.3,441.4 640.3,439.9 641.3,438.4 642.3,436.8 643.2,435.2 644.1,433.6 644.9,431.9 645.7,430.3 646.5,428.6 647.2,426.8 647.9,425.1 648.5,423.4 649.1,421.6 649.7,419.8 650.2,418.0 650.7,416.2 651.1,414.4 651.4,412.5" fill="url(#cg2)"/>
<polygon points="644.9,409.6 644.6,411.3 644.3,412.9 643.9,414.6 643.5,416.2 643.0,417.8 642.5,419.5 642.0,421.1 641.4,422.6 640.8,424.2 640.1,425.8 639.5,427.3 638.7,428.8 637.9,430.3 637.1,431.8 636.3,433.3 635.4,434.7 634.5,436.1 633.6,437.5 632.6,438.9 631.6,440.2 630.6,441.6 629.6,442.9 628.5,444.2 627.4,445.5 626.2,446.8 625.1,448.0 623.9,449.3 622.7,450.5 621.5,451.7 620.3,452.9 619.0,454.1 617.7,455.2 616.4,456.4 615.1,457.5 613.8,458.6 612.4,459.7 611.1,460.8 609.7,461.9 608.3,462.9 606.9,464.0 605.5,465.0 604.1,466.0 602.7,467.1 601.3,468.1 599.9,469.0 598.4,470.0 597.0,471.0 595.5,471.9 594.1,472.9 592.6,473.8 591.2,474.7 589.7,475.7 588.3,476.6 586.8,477.5 585.3,478.3 583.8,479.2 582.4,480.1 580.9,480.9 579.4,481.8 581.8,486.0 583.3,485.2 584.8,484.3 586.3,483.4 587.8,482.5 589.3,481.6 590.8,480.7 592.3,479.8 593.8,478.8 595.2,477.9 596.7,477.0 598.2,476.0 599.7,475.0 601.1,474.0 602.6,473.0 604.1,472.0 605.5,471.0 607.0,470.0 608.4,468.9 609.8,467.9 611.3,466.8 612.7,465.7 614.1,464.6 615.5,463.5 616.9,462.3 618.2,461.2 619.6,460.0 620.9,458.8 622.3,457.6 623.6,456.4 624.9,455.2 626.1,453.9 627.4,452.6 628.6,451.3 629.8,450.0 631.0,448.7 632.2,447.3 633.3,446.0 634.4,444.6 635.5,443.1 636.5,441.7 637.6,440.2 638.6,438.7 639.5,437.2 640.5,435.7 641.3,434.2 642.2,432.6 643.0,431.0 643.8,429.3 644.6,427.7 645.3,426.0 645.9,424.4 646.5,422.7 647.1,420.9 647.7,419.2 648.1,417.5 648.6,415.7 649.0,413.9 649.4,412.1 649.7,410.4" fill="url(#cg3)"/>
<polygon points="651.6,416.4 651.1,418.3 650.6,420.1 650.1,421.9 649.5,423.7 648.8,425.5 648.1,427.2 647.4,428.9 646.6,430.7 645.8,432.4 644.9,434.0 644.1,435.7 643.1,437.3 642.2,438.9 641.2,440.4 640.1,442.0 639.1,443.5 638.0,445.0 636.9,446.5 635.7,447.9 634.5,449.3 633.4,450.7 632.1,452.1 630.9,453.5 629.6,454.8 628.3,456.1 627.0,457.4 625.7,458.7 624.4,459.9 623.0,461.1 621.6,462.4 620.3,463.5 618.9,464.7 617.4,465.9 616.0,467.0 614.6,468.1 613.1,469.3 611.7,470.3 610.2,471.4 608.8,472.5 607.3,473.5 605.8,474.6 604.4,475.6 602.9,476.6 601.4,477.6 599.9,478.6 598.4,479.6 596.9,480.5 595.4,481.5 593.9,482.4 592.4,483.4 590.9,484.3 589.4,485.2 587.9,486.1 588.3,486.8 589.8,485.9 591.3,485.0 592.9,484.1 594.4,483.1 595.9,482.2 597.4,481.2 598.9,480.3 600.4,479.3 601.9,478.3 603.4,477.3 604.8,476.3 606.3,475.3 607.8,474.2 609.3,473.2 610.7,472.1 612.2,471.0 613.7,469.9 615.1,468.8 616.5,467.7 618.0,466.5 619.4,465.4 620.8,464.2 622.2,463.0 623.6,461.8 624.9,460.5 626.3,459.3 627.6,458.0 628.9,456.7 630.2,455.4 631.5,454.0 632.8,452.7 634.0,451.3 635.2,449.9 636.4,448.4 637.5,447.0 638.7,445.5 639.8,444.0 640.8,442.5 641.9,440.9 642.9,439.3 643.8,437.7 644.8,436.1 645.7,434.4 646.5,432.7 647.4,431.0 648.2,429.3 648.9,427.5 649.6,425.7 650.3,424.0 650.9,422.1 651.4,420.3 651.9,418.5 652.4,416.6" fill="url(#cgs)"/>
<polygon points="636.5,412.8 636.2,414.2 635.8,415.7 635.3,417.1 634.8,418.5 634.3,420.0 633.8,421.4 633.2,422.7 632.6,424.1 631.9,425.5 631.2,426.8 630.5,428.1 629.8,429.4 629.0,430.7 628.2,432.0 627.3,433.2 626.5,434.5 625.5,435.7 624.6,436.9 623.6,438.1 622.7,439.3 621.6,440.5 620.6,441.7 619.5,442.8 618.4,444.0 617.3,445.1 616.2,446.2 615.0,447.3 613.8,448.4 612.6,449.5 611.4,450.6 610.2,451.7 608.9,452.7 607.6,453.8 606.3,454.8 605.0,455.8 603.7,456.9 602.4,457.9 601.0,458.9 599.7,459.9 598.3,460.8 596.9,461.8 595.5,462.8 594.1,463.7 592.7,464.6 591.3,465.6 589.9,466.5 588.5,467.4 587.1,468.3 585.7,469.2 584.3,470.0 582.8,470.9 581.4,471.8 580.0,472.6 580.3,473.3 581.8,472.4 583.2,471.6 584.6,470.7 586.1,469.8 587.5,468.9 588.9,468.0 590.3,467.1 591.8,466.2 593.2,465.3 594.6,464.3 596.0,463.4 597.3,462.4 598.7,461.4 600.1,460.5 601.5,459.5 602.8,458.5 604.2,457.5 605.5,456.4 606.8,455.4 608.1,454.4 609.4,453.3 610.6,452.2 611.9,451.2 613.1,450.1 614.3,449.0 615.5,447.9 616.7,446.8 617.8,445.6 619.0,444.5 620.1,443.3 621.1,442.2 622.2,441.0 623.2,439.8 624.2,438.6 625.2,437.4 626.1,436.1 627.1,434.9 627.9,433.6 628.8,432.4 629.6,431.1 630.4,429.8 631.2,428.5 631.9,427.1 632.6,425.8 633.2,424.4 633.9,423.0 634.5,421.6 635.0,420.2 635.5,418.8 636.0,417.3 636.5,415.9 636.9,414.4 637.3,413.0" fill="url(#cgs)"/>
<polygon points="602.2,289.9 604.4,291.8 606.5,293.7 608.4,295.6 610.3,297.5 612.0,299.5 613.6,301.5 615.0,303.5 616.2,305.5 617.3,307.5 618.2,309.5 619.0,311.7 619.7,313.8 620.2,316.0 620.6,318.3 620.9,320.6 621.1,323.0 621.2,325.5 621.1,327.9 620.9,330.4 620.6,333.0 620.2,335.6 619.6,338.1 619.0,340.7 618.2,343.4 617.4,346.0 616.4,348.6 615.3,351.2 614.2,353.7 612.9,356.3 611.6,358.8 610.2,361.3 608.7,363.7 607.2,366.1 605.5,368.4 603.8,370.6 602.1,372.8 600.3,374.9 598.5,377.0 596.6,378.9 594.6,380.8 592.6,382.7 590.5,384.5 588.4,386.3 586.3,388.0 584.1,389.7 581.8,391.3 579.5,393.0 577.2,394.5 574.8,396.1 572.4,397.7 569.9,399.2 567.5,400.7 565.0,402.2 562.4,403.8 559.9,405.3 557.3,406.8 554.7,408.3 552.1,409.9 549.5,411.4 546.9,413.0 544.3,414.6 541.6,416.3 539.1,417.9 536.5,419.5 534.0,421.1 531.4,422.7 528.9,424.2 526.4,425.7 524.0,427.1 521.4,428.6 518.9,429.9 516.4,431.3 513.8,432.6 522.1,449.1 524.9,447.7 527.7,446.2 530.4,444.7 533.2,443.2 535.9,441.6 538.5,440.0 541.2,438.4 543.8,436.8 546.4,435.1 548.9,433.5 551.5,431.9 554.0,430.4 556.5,428.8 559.0,427.3 561.6,425.8 564.1,424.2 566.7,422.7 569.3,421.2 571.9,419.6 574.5,418.1 577.1,416.5 579.7,414.9 582.3,413.3 584.9,411.6 587.5,409.9 590.0,408.2 592.6,406.4 595.1,404.5 597.6,402.6 600.1,400.6 602.6,398.6 605.0,396.5 607.4,394.3 609.7,392.0 612.0,389.6 614.2,387.1 616.4,384.6 618.5,381.9 620.5,379.2 622.5,376.5 624.3,373.6 626.1,370.7 627.8,367.7 629.4,364.7 630.9,361.6 632.3,358.5 633.6,355.3 634.8,352.1 635.9,348.8 636.9,345.6 637.7,342.3 638.4,338.9 638.9,335.6 639.3,332.2 639.6,328.9 639.7,325.5 639.6,322.1 639.3,318.8 638.9,315.4 638.2,312.1 637.4,308.8 636.4,305.6 635.1,302.4 633.6,299.2 631.9,296.2 630.1,293.3 628.0,290.5 625.9,287.8 623.6,285.3 621.2,282.8 618.7,280.5 616.2,278.2 613.6,276.0" fill="url(#cg0)"/>
<polygon points="601.3,286.4 603.6,288.2 605.8,290.1 607.9,292.1 610.0,294.1 611.9,296.1 613.7,298.1 615.3,300.2 616.8,302.3 618.1,304.4 619.2,306.5 620.2,308.7 621.1,310.9 621.8,313.2 622.4,315.6 622.8,318.0 623.1,320.4 623.3,322.9 623.4,325.5 623.3,328.0 623.1,330.7 622.8,333.3 622.4,336.0 621.8,338.6 621.1,341.3 620.4,344.0 619.5,346.7 618.5,349.4 617.4,352.0 616.2,354.7 614.9,357.3 613.6,359.9 612.1,362.4 610.6,364.9 609.0,367.3 607.3,369.7 605.6,372.0 603.8,374.2 602.0,376.4 600.1,378.5 598.1,380.5 596.1,382.5 594.1,384.4 592.0,386.2 589.8,388.0 587.6,389.8 585.4,391.5 583.1,393.1 580.8,394.8 578.4,396.4 576.0,398.0 573.6,399.5 571.1,401.1 568.6,402.6 566.1,404.1 563.6,405.7 561.0,407.2 558.4,408.7 555.9,410.2 553.3,411.8 550.6,413.3 548.0,414.9 545.4,416.5 542.8,418.1 540.2,419.8 537.7,421.4 535.1,423.0 532.6,424.5 530.1,426.1 527.6,427.6 525.1,429.1 522.5,430.5 520.0,431.9 517.4,433.3 514.8,434.6 512.2,435.9 518.7,449.2 521.5,447.8 524.2,446.4 527.0,444.9 529.7,443.4 532.4,441.9 535.1,440.3 537.8,438.7 540.4,437.1 543.0,435.5 545.6,433.9 548.1,432.3 550.7,430.7 553.2,429.1 555.7,427.6 558.3,426.0 560.8,424.5 563.4,423.0 566.0,421.4 568.6,419.9 571.2,418.4 573.7,416.8 576.3,415.3 578.9,413.7 581.5,412.0 584.1,410.4 586.7,408.7 589.2,406.9 591.7,405.2 594.2,403.3 596.7,401.4 599.2,399.5 601.6,397.4 604.0,395.4 606.3,393.2 608.6,390.9 610.9,388.6 613.1,386.2 615.2,383.6 617.3,381.0 619.3,378.4 621.2,375.6 623.1,372.8 624.9,369.9 626.5,367.0 628.1,364.0 629.6,361.0 631.0,357.9 632.3,354.8 633.4,351.6 634.5,348.4 635.4,345.2 636.2,341.9 636.9,338.7 637.5,335.4 637.8,332.1 638.1,328.8 638.2,325.5 638.1,322.2 637.9,318.9 637.4,315.7 636.8,312.4 636.0,309.2 635.0,306.1 633.8,302.9 632.3,299.9 630.7,296.9 628.9,294.1 626.9,291.4 624.8,288.7 622.5,286.2 620.2,283.8 617.7,281.5 615.2,279.3 612.7,277.2 610.1,275.1" fill="url(#cg1)"/>
<polygon points="600.6,282.4 603.0,284.2 605.3,286.1 607.6,288.0 609.8,290.0 611.9,292.1 613.9,294.2 615.8,296.3 617.5,298.5 619.1,300.7 620.5,302.9 621.8,305.2 622.9,307.6 623.8,310.0 624.6,312.4 625.2,315.0 625.7,317.5 626.0,320.1 626.2,322.8 626.2,325.5 626.2,328.2 626.0,330.9 625.6,333.7 625.2,336.5 624.6,339.3 623.9,342.1 623.1,344.9 622.2,347.6 621.2,350.4 620.0,353.2 618.8,355.9 617.5,358.6 616.1,361.2 614.6,363.9 613.0,366.4 611.4,368.9 609.7,371.4 607.9,373.7 606.0,376.1 604.1,378.3 602.2,380.4 600.2,382.5 598.1,384.5 596.0,386.5 593.8,388.4 591.6,390.2 589.4,392.0 587.1,393.8 584.8,395.5 582.4,397.1 580.0,398.8 577.6,400.4 575.1,402.0 572.6,403.5 570.1,405.1 567.6,406.6 565.0,408.1 562.5,409.6 559.9,411.2 557.3,412.7 554.7,414.2 552.1,415.8 549.5,417.4 546.9,419.0 544.3,420.6 541.8,422.2 539.2,423.8 536.7,425.4 534.1,427.0 531.6,428.5 529.0,430.1 526.5,431.6 523.9,433.0 521.3,434.4 518.7,435.8 516.1,437.2 513.5,438.5 510.8,439.7 515.2,448.9 517.9,447.6 520.7,446.2 523.4,444.8 526.1,443.4 528.9,441.9 531.5,440.4 534.2,438.8 536.9,437.2 539.5,435.6 542.1,434.0 544.6,432.4 547.2,430.8 549.7,429.2 552.3,427.6 554.8,426.1 557.4,424.5 559.9,423.0 562.5,421.5 565.1,419.9 567.7,418.4 570.3,416.9 572.8,415.3 575.4,413.8 578.0,412.2 580.6,410.5 583.1,408.9 585.7,407.2 588.2,405.5 590.7,403.7 593.2,401.9 595.6,400.0 598.1,398.1 600.5,396.1 602.8,394.0 605.1,391.9 607.4,389.7 609.6,387.4 611.8,385.0 613.9,382.5 615.9,380.0 617.9,377.3 619.8,374.6 621.6,371.9 623.3,369.0 625.0,366.1 626.5,363.2 628.0,360.2 629.4,357.2 630.6,354.1 631.8,351.0 632.8,347.9 633.7,344.7 634.5,341.5 635.2,338.3 635.7,335.1 636.1,331.9 636.3,328.7 636.4,325.5 636.4,322.3 636.1,319.1 635.7,315.9 635.1,312.8 634.3,309.7 633.3,306.6 632.2,303.6 630.8,300.7 629.2,297.8 627.4,295.1 625.5,292.4 623.4,289.9 621.2,287.4 619.0,285.0 616.6,282.8 614.1,280.6 611.6,278.5 609.0,276.4 606.4,274.5" fill="url(#cg2)"/>
<polygon points="599.9,278.0 602.4,279.8 604.9,281.7 607.3,283.7 609.7,285.7 612.0,287.7 614.2,289.8 616.3,292.0 618.2,294.2 620.1,296.5 621.8,298.9 623.3,301.3 624.6,303.8 625.8,306.3 626.8,308.9 627.7,311.6 628.3,314.3 628.9,317.0 629.2,319.8 629.4,322.6 629.5,325.5 629.4,328.4 629.2,331.2 628.8,334.2 628.4,337.1 627.8,340.0 627.0,342.9 626.2,345.8 625.2,348.7 624.2,351.6 623.0,354.4 621.7,357.3 620.4,360.1 618.9,362.8 617.4,365.5 615.7,368.1 614.0,370.7 612.3,373.3 610.4,375.7 608.5,378.1 606.6,380.4 604.5,382.6 602.5,384.8 600.3,386.9 598.2,388.9 595.9,390.8 593.7,392.7 591.4,394.6 589.0,396.4 586.7,398.1 584.3,399.8 581.8,401.5 579.3,403.1 576.9,404.7 574.3,406.3 571.8,407.8 569.3,409.4 566.7,410.9 564.1,412.4 561.6,414.0 559.0,415.5 556.4,417.0 553.8,418.6 551.2,420.1 548.6,421.7 546.1,423.3 543.5,424.9 540.9,426.5 538.4,428.1 535.8,429.7 533.3,431.3 530.7,432.9 528.1,434.4 525.5,435.8 522.9,437.3 520.2,438.7 517.6,440.0 514.9,441.4 512.2,442.7 509.5,443.9 511.5,448.3 514.3,447.0 517.0,445.7 519.7,444.3 522.4,442.9 525.1,441.5 527.8,440.0 530.5,438.5 533.1,437.0 535.8,435.4 538.4,433.8 540.9,432.2 543.5,430.6 546.1,429.0 548.6,427.4 551.2,425.8 553.7,424.2 556.3,422.7 558.8,421.2 561.4,419.6 564.0,418.1 566.6,416.6 569.2,415.0 571.7,413.5 574.3,411.9 576.9,410.4 579.4,408.8 582.0,407.1 584.5,405.5 587.0,403.7 589.5,402.0 591.9,400.2 594.3,398.4 596.7,396.5 599.1,394.5 601.4,392.5 603.7,390.4 605.9,388.2 608.1,385.9 610.2,383.6 612.2,381.2 614.2,378.7 616.2,376.1 618.0,373.4 619.8,370.7 621.5,367.9 623.1,365.1 624.7,362.2 626.1,359.3 627.4,356.3 628.6,353.3 629.8,350.3 630.8,347.2 631.7,344.2 632.4,341.1 633.1,338.0 633.6,334.8 634.0,331.7 634.2,328.6 634.3,325.5 634.2,322.4 634.0,319.3 633.6,316.3 633.0,313.2 632.3,310.3 631.3,307.3 630.2,304.5 628.9,301.6 627.4,298.9 625.7,296.2 623.8,293.7 621.8,291.2 619.7,288.8 617.5,286.5 615.2,284.3 612.8,282.1 610.3,280.1 607.8,278.1 605.2,276.1 602.6,274.3" fill="url(#cg3)"/>
<polygon points="612.2,277.7 614.7,279.9 617.2,282.1 619.6,284.4 621.9,286.8 624.2,289.2 626.3,291.8 628.2,294.5 630.0,297.3 631.6,300.3 633.0,303.3 634.2,306.3 635.2,309.4 636.0,312.6 636.6,315.8 637.1,319.0 637.3,322.2 637.4,325.5 637.3,328.8 637.1,332.0 636.7,335.3 636.1,338.5 635.5,341.8 634.7,345.0 633.7,348.2 632.7,351.3 631.5,354.5 630.3,357.6 628.9,360.6 627.4,363.6 625.8,366.6 624.2,369.5 622.4,372.4 620.6,375.2 618.7,377.9 616.7,380.6 614.6,383.1 612.5,385.6 610.3,388.1 608.1,390.4 605.8,392.6 603.5,394.8 601.1,396.8 598.7,398.9 596.2,400.8 593.8,402.7 591.3,404.5 588.8,406.3 586.2,408.0 583.7,409.7 581.1,411.4 578.5,413.0 575.9,414.6 573.3,416.1 570.7,417.7 568.2,419.2 565.6,420.8 563.0,422.3 560.4,423.8 557.9,425.3 555.3,426.9 552.8,428.4 550.3,430.0 547.7,431.6 545.2,433.2 542.6,434.8 540.0,436.5 537.4,438.1 534.7,439.7 532.0,441.2 529.3,442.8 526.6,444.2 523.9,445.7 521.1,447.1 521.5,447.8 524.3,446.4 527.0,445.0 529.7,443.5 532.4,441.9 535.1,440.4 537.8,438.8 540.4,437.2 543.0,435.5 545.6,433.9 548.2,432.3 550.7,430.7 553.2,429.1 555.8,427.6 558.3,426.1 560.8,424.5 563.4,423.0 566.0,421.5 568.6,420.0 571.2,418.4 573.8,416.9 576.4,415.3 579.0,413.7 581.5,412.1 584.1,410.4 586.7,408.7 589.2,407.0 591.8,405.2 594.3,403.4 596.8,401.5 599.2,399.5 601.6,397.5 604.0,395.4 606.4,393.2 608.7,391.0 610.9,388.6 613.1,386.2 615.3,383.7 617.3,381.1 619.4,378.4 621.3,375.6 623.1,372.8 624.9,370.0 626.6,367.0 628.2,364.0 629.6,361.0 631.0,357.9 632.3,354.8 633.5,351.6 634.5,348.4 635.5,345.2 636.3,341.9 637.0,338.7 637.5,335.4 637.9,332.1 638.1,328.8 638.2,325.5 638.2,322.2 637.9,318.9 637.5,315.7 636.8,312.4 636.0,309.2 635.0,306.0 633.8,302.9 632.4,299.9 630.7,296.9 628.9,294.1 626.9,291.3 624.8,288.7 622.5,286.2 620.2,283.8 617.8,281.5 615.3,279.3 612.7,277.1" fill="url(#cgs)"/>
<polygon points="602.7,289.4 604.9,291.2 607.0,293.1 608.9,295.1 610.8,297.0 612.6,299.0 614.1,301.1 615.6,303.1 616.8,305.1 617.9,307.2 618.9,309.3 619.7,311.4 620.4,313.6 620.9,315.9 621.4,318.2 621.7,320.6 621.8,323.0 621.9,325.5 621.8,328.0 621.6,330.5 621.3,333.1 620.9,335.7 620.4,338.3 619.7,340.9 618.9,343.6 618.1,346.2 617.1,348.8 616.0,351.4 614.9,354.0 613.6,356.6 612.3,359.1 610.8,361.6 609.3,364.1 607.8,366.5 606.1,368.8 604.4,371.1 602.7,373.3 600.9,375.4 599.0,377.5 597.1,379.5 595.1,381.4 593.1,383.3 591.0,385.1 588.9,386.9 586.7,388.6 584.5,390.3 582.2,391.9 579.9,393.6 577.6,395.2 575.2,396.7 572.8,398.3 570.3,399.8 567.9,401.4 565.3,402.9 562.8,404.4 560.3,405.9 557.7,407.4 555.1,409.0 552.5,410.5 549.9,412.1 547.3,413.6 544.6,415.3 542.0,416.9 539.5,418.5 536.9,420.1 534.4,421.7 531.8,423.3 529.3,424.8 526.8,426.3 524.3,427.8 521.8,429.2 519.3,430.6 516.7,432.0 514.1,433.3 514.5,433.9 517.1,432.6 519.6,431.2 522.2,429.9 524.7,428.4 527.2,427.0 529.7,425.5 532.2,423.9 534.8,422.3 537.3,420.7 539.9,419.1 542.4,417.5 545.0,415.9 547.7,414.3 550.3,412.7 552.9,411.1 555.5,409.6 558.1,408.1 560.6,406.5 563.2,405.0 565.7,403.5 568.2,402.0 570.7,400.5 573.2,398.9 575.6,397.4 578.0,395.8 580.4,394.2 582.7,392.5 584.9,390.9 587.2,389.2 589.4,387.4 591.5,385.6 593.6,383.8 595.6,381.9 597.6,380.0 599.5,378.0 601.4,375.9 603.2,373.8 605.0,371.5 606.7,369.2 608.4,366.9 610.0,364.5 611.5,362.0 612.9,359.5 614.3,356.9 615.5,354.4 616.7,351.7 617.8,349.1 618.8,346.5 619.7,343.8 620.4,341.1 621.1,338.5 621.6,335.8 622.1,333.2 622.4,330.6 622.6,328.0 622.6,325.5 622.6,323.0 622.4,320.5 622.1,318.1 621.7,315.7 621.1,313.4 620.4,311.2 619.6,309.0 618.6,306.8 617.5,304.7 616.2,302.7 614.7,300.6 613.1,298.6 611.4,296.6 609.5,294.6 607.4,292.6 605.3,290.7 603.1,288.8" fill="url(#cgs)"/>
<polygon points="173.3,454.5 171.3,453.6 169.4,452.5 167.5,451.5 165.6,450.4 163.8,449.3 161.9,448.2 160.1,447.0 158.3,445.8 156.5,444.6 154.7,443.3 152.9,442.0 151.2,440.7 149.5,439.4 147.8,438.0 146.1,436.6 144.5,435.1 142.9,433.6 141.4,432.1 139.9,430.6 138.4,429.0 136.9,427.5 135.5,425.8 134.2,424.2 132.9,422.5 131.6,420.9 130.4,419.1 129.2,417.4 128.1,415.7 127.1,413.9 126.1,412.1 125.1,410.3 124.3,408.5 123.5,406.7 122.7,404.8 122.1,403.0 121.5,401.2 121.1,399.4 120.7,397.6 120.4,395.8 120.2,394.1 120.0,392.3 120.0,390.5 120.1,388.7 120.2,386.9 120.5,385.1 120.8,383.2 121.2,381.4 121.8,379.5 122.4,377.7 123.1,375.9 123.8,374.1 124.7,372.3 125.6,370.5 109.8,361.7 108.6,364.1 107.4,366.5 106.3,369.0 105.3,371.5 104.4,374.1 103.7,376.7 103.0,379.4 102.5,382.0 102.1,384.7 101.8,387.4 101.7,390.2 101.7,392.9 101.8,395.7 102.1,398.4 102.5,401.0 103.1,403.7 103.8,406.3 104.5,408.8 105.4,411.3 106.4,413.8 107.4,416.2 108.6,418.5 109.8,420.9 111.0,423.1 112.4,425.3 113.8,427.5 115.2,429.7 116.7,431.8 118.2,433.8 119.8,435.8 121.4,437.8 123.1,439.7 124.8,441.6 126.6,443.5 128.4,445.3 130.2,447.1 132.1,448.8 134.0,450.5 135.9,452.1 137.8,453.7 139.8,455.3 141.8,456.8 143.9,458.3 145.9,459.8 148.0,461.2 150.1,462.6 152.2,463.9 154.3,465.2 156.4,466.4 158.6,467.6 160.7,468.8 162.9,469.9 165.1,471.0" fill="url(#cg0)"/>
<polygon points="174.3,457.5 172.3,456.5 170.3,455.5 168.4,454.5 166.5,453.4 164.5,452.3 162.6,451.2 160.8,450.1 158.9,448.9 157.0,447.7 155.2,446.4 153.4,445.1 151.6,443.8 149.8,442.5 148.1,441.1 146.4,439.7 144.7,438.2 143.0,436.8 141.4,435.2 139.8,433.7 138.3,432.1 136.8,430.6 135.3,428.9 133.9,427.3 132.5,425.6 131.1,423.9 129.8,422.2 128.6,420.4 127.4,418.6 126.2,416.8 125.1,415.0 124.1,413.1 123.1,411.3 122.2,409.4 121.4,407.5 120.7,405.6 120.0,403.7 119.4,401.8 118.9,399.9 118.5,398.0 118.2,396.1 118.0,394.3 117.8,392.4 117.8,390.5 117.9,388.6 118.1,386.6 118.3,384.7 118.7,382.8 119.1,380.8 119.7,378.9 120.3,377.0 121.1,375.0 121.9,373.2 122.7,371.3 123.7,369.5 124.8,367.7 112.5,360.1 111.1,362.4 109.9,364.8 108.7,367.1 107.6,369.6 106.7,372.0 105.8,374.5 105.1,377.1 104.4,379.7 103.9,382.3 103.5,384.9 103.3,387.5 103.1,390.2 103.1,392.9 103.3,395.5 103.6,398.2 104.0,400.8 104.5,403.3 105.2,405.9 105.9,408.4 106.8,410.8 107.8,413.2 108.8,415.6 109.9,417.9 111.1,420.2 112.3,422.4 113.6,424.6 115.0,426.7 116.4,428.8 117.9,430.9 119.4,432.9 120.9,434.9 122.6,436.8 124.2,438.7 125.9,440.6 127.6,442.4 129.4,444.2 131.2,446.0 133.1,447.7 134.9,449.4 136.8,451.0 138.8,452.6 140.7,454.1 142.7,455.7 144.7,457.1 146.8,458.6 148.8,460.0 150.9,461.3 152.9,462.6 155.0,463.9 157.2,465.1 159.3,466.3 161.4,467.5 163.6,468.6 165.7,469.7 167.9,470.8" fill="url(#cg1)"/>
<polygon points="175.1,461.0 173.0,460.1 171.0,459.1 169.0,458.1 167.0,457.0 165.1,455.9 163.1,454.8 161.2,453.7 159.2,452.5 157.3,451.3 155.4,450.1 153.6,448.8 151.7,447.5 149.9,446.1 148.1,444.7 146.3,443.3 144.5,441.9 142.8,440.4 141.1,438.9 139.4,437.3 137.8,435.7 136.2,434.1 134.7,432.5 133.1,430.8 131.7,429.1 130.2,427.4 128.8,425.6 127.5,423.9 126.2,422.0 125.0,420.2 123.8,418.3 122.7,416.4 121.6,414.5 120.6,412.6 119.6,410.6 118.8,408.6 118.0,406.6 117.3,404.6 116.7,402.6 116.1,400.6 115.7,398.6 115.4,396.5 115.1,394.5 115.0,392.5 115.0,390.4 115.1,388.4 115.2,386.3 115.5,384.2 115.9,382.2 116.4,380.1 117.0,378.0 117.7,376.0 118.5,374.0 119.3,372.0 120.2,370.0 121.3,368.1 122.4,366.2 123.5,364.4 115.3,358.9 113.9,361.0 112.6,363.3 111.4,365.5 110.3,367.8 109.2,370.2 108.3,372.6 107.5,375.1 106.7,377.5 106.1,380.0 105.6,382.6 105.3,385.1 105.0,387.7 104.9,390.2 104.9,392.8 105.0,395.4 105.3,397.9 105.7,400.4 106.2,402.9 106.9,405.4 107.6,407.8 108.5,410.2 109.4,412.5 110.4,414.8 111.5,417.1 112.6,419.3 113.9,421.5 115.1,423.7 116.5,425.8 117.8,427.8 119.3,429.8 120.8,431.8 122.3,433.8 123.9,435.7 125.5,437.6 127.2,439.4 128.9,441.2 130.6,443.0 132.4,444.7 134.2,446.4 136.1,448.0 138.0,449.7 139.9,451.2 141.8,452.8 143.8,454.3 145.8,455.7 147.8,457.1 149.8,458.5 151.8,459.8 153.9,461.1 155.9,462.4 158.0,463.6 160.1,464.8 162.2,466.0 164.4,467.1 166.5,468.2 168.7,469.2 170.8,470.2" fill="url(#cg2)"/>
<polygon points="175.8,464.9 173.7,463.9 171.6,463.0 169.6,462.0 167.5,460.9 165.5,459.9 163.5,458.8 161.5,457.6 159.5,456.5 157.5,455.3 155.6,454.0 153.6,452.7 151.7,451.4 149.8,450.1 147.9,448.7 146.1,447.3 144.2,445.8 142.4,444.3 140.7,442.8 138.9,441.3 137.2,439.7 135.5,438.1 133.9,436.4 132.3,434.7 130.7,433.0 129.2,431.2 127.7,429.4 126.3,427.6 124.9,425.8 123.6,423.9 122.3,422.0 121.0,420.0 119.9,418.0 118.7,416.0 117.7,414.0 116.7,411.9 115.8,409.9 114.9,407.8 114.2,405.6 113.5,403.5 113.0,401.3 112.5,399.2 112.2,397.0 111.9,394.8 111.8,392.6 111.8,390.4 111.9,388.1 112.1,385.9 112.4,383.7 112.8,381.5 113.3,379.3 114.0,377.1 114.7,374.9 115.5,372.8 116.4,370.7 117.4,368.6 118.5,366.6 119.7,364.6 120.9,362.6 122.2,360.8 118.5,358.0 117.0,360.0 115.7,362.1 114.4,364.3 113.2,366.5 112.1,368.7 111.2,371.0 110.3,373.3 109.5,375.7 108.8,378.1 108.2,380.5 107.7,382.9 107.3,385.4 107.1,387.8 107.0,390.3 107.0,392.7 107.1,395.2 107.4,397.6 107.8,400.1 108.3,402.4 108.9,404.8 109.6,407.1 110.4,409.4 111.3,411.7 112.3,413.9 113.4,416.2 114.5,418.3 115.7,420.4 116.9,422.5 118.2,424.6 119.6,426.6 121.0,428.6 122.5,430.5 124.0,432.5 125.5,434.3 127.1,436.2 128.8,438.0 130.4,439.7 132.1,441.5 133.9,443.2 135.7,444.8 137.5,446.4 139.3,448.0 141.2,449.6 143.1,451.1 145.1,452.6 147.0,454.0 149.0,455.4 151.0,456.7 153.0,458.1 155.0,459.3 157.0,460.6 159.1,461.8 161.2,463.0 163.2,464.1 165.3,465.2 167.5,466.3 169.6,467.3 171.7,468.3 173.8,469.3" fill="url(#cg3)"/>
<polygon points="166.1,469.0 163.9,467.9 161.8,466.8 159.7,465.7 157.5,464.5 155.4,463.2 153.4,462.0 151.3,460.7 149.2,459.3 147.2,457.9 145.2,456.5 143.2,455.0 141.2,453.5 139.3,452.0 137.4,450.4 135.5,448.8 133.6,447.1 131.8,445.4 130.0,443.7 128.2,441.9 126.5,440.1 124.8,438.2 123.2,436.3 121.6,434.4 120.0,432.4 118.5,430.4 117.0,428.4 115.6,426.3 114.3,424.2 113.0,422.0 111.8,419.8 110.6,417.5 109.5,415.2 108.5,412.9 107.5,410.5 106.7,408.1 105.9,405.7 105.3,403.2 104.8,400.6 104.4,398.1 104.1,395.5 103.9,392.8 103.9,390.2 104.0,387.6 104.3,385.0 104.7,382.4 105.2,379.8 105.8,377.3 106.6,374.8 107.4,372.3 108.3,369.9 109.4,367.5 110.5,365.1 111.8,362.8 111.1,362.4 109.8,364.7 108.7,367.1 107.6,369.5 106.6,372.0 105.8,374.5 105.0,377.1 104.4,379.7 103.9,382.3 103.5,384.9 103.2,387.5 103.1,390.2 103.1,392.9 103.2,395.5 103.5,398.2 104.0,400.8 104.5,403.4 105.1,405.9 105.9,408.4 106.8,410.8 107.7,413.2 108.8,415.6 109.9,417.9 111.0,420.2 112.3,422.4 113.6,424.6 115.0,426.7 116.4,428.8 117.8,430.9 119.3,432.9 120.9,434.9 122.5,436.9 124.2,438.8 125.9,440.6 127.6,442.5 129.4,444.3 131.2,446.0 133.0,447.7 134.9,449.4 136.8,451.0 138.7,452.6 140.7,454.2 142.7,455.7 144.7,457.2 146.7,458.6 148.8,460.0 150.8,461.4 152.9,462.7 155.0,463.9 157.1,465.2 159.3,466.4 161.4,467.5 163.5,468.7 165.7,469.8" fill="url(#cgs)"/>
<polygon points="172.9,455.2 171.0,454.2 169.1,453.2 167.2,452.1 165.3,451.1 163.4,450.0 161.5,448.8 159.7,447.6 157.9,446.4 156.0,445.2 154.3,443.9 152.5,442.6 150.7,441.3 149.0,439.9 147.3,438.5 145.7,437.1 144.0,435.7 142.4,434.2 140.9,432.7 139.3,431.1 137.8,429.5 136.4,427.9 135.0,426.3 133.6,424.7 132.3,423.0 131.0,421.3 129.8,419.6 128.6,417.8 127.5,416.0 126.4,414.2 125.4,412.4 124.5,410.6 123.6,408.8 122.8,406.9 122.1,405.1 121.4,403.3 120.8,401.4 120.3,399.6 119.9,397.8 119.6,395.9 119.4,394.1 119.3,392.3 119.3,390.5 119.3,388.7 119.5,386.8 119.8,384.9 120.1,383.1 120.5,381.2 121.1,379.3 121.7,377.4 122.4,375.6 123.2,373.8 124.0,372.0 125.0,370.2 124.3,369.8 123.4,371.6 122.5,373.5 121.7,375.3 121.0,377.2 120.4,379.1 119.8,381.0 119.4,382.9 119.0,384.8 118.8,386.7 118.6,388.6 118.5,390.5 118.6,392.4 118.7,394.2 118.9,396.0 119.2,397.9 119.6,399.8 120.1,401.6 120.7,403.5 121.4,405.4 122.1,407.2 122.9,409.1 123.8,410.9 124.8,412.8 125.8,414.6 126.9,416.4 128.0,418.2 129.2,420.0 130.4,421.7 131.7,423.4 133.0,425.1 134.4,426.8 135.8,428.4 137.3,430.0 138.8,431.6 140.3,433.2 141.9,434.7 143.5,436.2 145.2,437.7 146.8,439.1 148.5,440.5 150.3,441.9 152.0,443.2 153.8,444.5 155.6,445.8 157.4,447.1 159.3,448.3 161.1,449.4 163.0,450.6 164.9,451.7 166.8,452.8 168.7,453.8 170.7,454.9 172.6,455.9" fill="url(#cgs)"/>
<ellipse cx="478.6" cy="615" rx="3.6" ry="9.4" transform="rotate(24 478.6 615)" fill="#222222"/>
<ellipse cx="478.2" cy="615.2" rx="2.6" ry="7.4" transform="rotate(24 478.2 615.2)" fill="#0c0c0c"/>

<!-- WIRES -->

<!-- white connector (double line) -->
<path d="M439.5 672.3 H608 V779.5" fill="none" stroke="#dcdcdc" stroke-width="5.4" stroke-linejoin="round"/>
<path d="M440.5 672.3 H608 V779.5" fill="none" stroke="#fcfcfc" stroke-width="3" stroke-linejoin="round"/>
<path d="M414.6 702.0 C415.5 700.2 418.1 694.5 420.0 691.0 C421.9 687.5 422.7 686.0 426.0 681.0 C429.3 676.0 435.0 667.4 440.0 661.0 C445.0 654.6 451.0 647.8 456.0 642.5 C461.0 637.2 465.3 632.9 470.0 629.0 C474.7 625.1 481.7 620.7 484.0 619.0" fill="none" stroke="#8a8a8a" stroke-width="5.2"/>
<path d="M414.6 702.0 C415.5 700.2 418.1 694.5 420.0 691.0 C421.9 687.5 422.7 686.0 426.0 681.0 C429.3 676.0 435.0 667.4 440.0 661.0 C445.0 654.6 451.0 647.8 456.0 642.5 C461.0 637.2 465.3 632.9 470.0 629.0 C474.7 625.1 481.7 620.7 484.0 619.0" fill="none" stroke="#ffffff" stroke-width="3.8"/>
<path d="M384.2 686.5 C386.5 684.0 393.0 676.4 398.0 671.5 C403.0 666.6 408.7 661.5 414.0 657.0 C419.3 652.5 424.8 648.2 430.0 644.5 C435.2 640.8 439.7 637.8 445.0 634.5 C450.3 631.2 455.8 628.2 462.0 625.0 C468.2 621.8 478.7 616.7 482.0 615.0" fill="none" stroke="#1a1a1a" stroke-width="5.6"/>
<path d="M319.5 647.0 C324.6 646.5 339.9 645.4 350.0 644.2 C360.1 643.0 370.0 641.7 380.0 640.0 C390.0 638.3 400.0 636.3 410.0 634.0 C420.0 631.7 431.3 628.7 440.0 626.0 C448.7 623.3 455.3 620.5 462.0 618.0 C468.7 615.5 477.0 612.2 480.0 611.0" fill="none" stroke="#7a3510" stroke-width="6.2"/>
<path d="M319.5 647.0 C324.6 646.5 339.9 645.4 350.0 644.2 C360.1 643.0 370.0 641.7 380.0 640.0 C390.0 638.3 400.0 636.3 410.0 634.0 C420.0 631.7 431.3 628.7 440.0 626.0 C448.7 623.3 455.3 620.5 462.0 618.0 C468.7 615.5 477.0 612.2 480.0 611.0" fill="none" stroke="#9a4718" stroke-width="5.4"/>
<path d="M344.0 666.0 C348.3 664.8 362.3 661.5 370.0 659.0 C377.7 656.5 383.3 654.1 390.0 651.3 C396.7 648.5 403.3 645.4 410.0 642.3 C416.7 639.2 424.2 635.4 430.0 632.5 C435.8 629.6 439.7 627.6 445.0 625.0 C450.3 622.4 456.2 619.4 462.0 617.0 C467.8 614.6 477.0 611.6 480.0 610.5" fill="none" stroke="#1a1ac0" stroke-width="6.2"/>
<path d="M344.0 666.0 C348.3 664.8 362.3 661.5 370.0 659.0 C377.7 656.5 383.3 654.1 390.0 651.3 C396.7 648.5 403.3 645.4 410.0 642.3 C416.7 639.2 424.2 635.4 430.0 632.5 C435.8 629.6 439.7 627.6 445.0 625.0 C450.3 622.4 456.2 619.4 462.0 617.0 C467.8 614.6 477.0 611.6 480.0 610.5" fill="none" stroke="#2424ee" stroke-width="5.4"/>

<!-- stripped tips -->
<path d="M306.3 647.6 L320 646.9" stroke="#8a8a8a" stroke-width="4"/><path d="M307 647.6 L320 646.9" stroke="#f6f6f6" stroke-width="2.4"/>
<path d="M327.6 669.1 L344.6 665.9" stroke="#8a8a8a" stroke-width="4"/><path d="M328.3 669 L344.6 665.9" stroke="#f6f6f6" stroke-width="2.4"/>
<path d="M376.6 695.6 L384.8 685.8" stroke="#444" stroke-width="3.8"/><path d="M377.6 694.4 L384.8 685.8" stroke="#f2f2f2" stroke-width="2"/>
<path d="M409.3 712.6 L415 701.2" stroke="#444" stroke-width="3.4"/><path d="M409.9 711.4 L415 701.2" stroke="#f2f2f2" stroke-width="1.8"/>
<!-- connectors -->
<path d="M305 661 H135.7 V780" fill="none" stroke="#d2693a" stroke-width="2.3"/>
<path d="M337 681 H297.3 V780" fill="none" stroke="#3a3df5" stroke-width="2.3"/>
<path d="M381.3 700.5 V752.4 H452.6 V780" fill="none" stroke="#111" stroke-width="2.3"/>

<!-- SENSOR -->

<defs>
<linearGradient id="gl" x1="352" y1="150" x2="372" y2="262" gradientUnits="userSpaceOnUse">
<stop offset="0" stop-color="#a6a6a6"/><stop offset="0.35" stop-color="#909090"/><stop offset="0.62" stop-color="#7e7e7e"/><stop offset="0.85" stop-color="#666666"/><stop offset="1" stop-color="#484848"/></linearGradient>
<linearGradient id="gt" x1="385" y1="170" x2="462" y2="200" gradientUnits="userSpaceOnUse">
<stop offset="0" stop-color="#3b3b3b"/><stop offset="1" stop-color="#454545"/></linearGradient>
<linearGradient id="gf" x1="400" y1="225" x2="385" y2="285" gradientUnits="userSpaceOnUse">
<stop offset="0" stop-color="#2b2b2b"/><stop offset="1" stop-color="#1c1c1c"/></linearGradient>
</defs>
<!-- left face -->
<path d="M378.5 129.2 L341.3 175 L341.3 192 L339.4 197 L340.8 211 L353.8 216.4 L348.7 262.8 L386.8 220.6 Z" fill="url(#gl)"/>
<path d="M378.5 129.2 L341.3 175 L341.3 192" fill="none" stroke="#b4b4b4" stroke-width="1"/>
<!-- slot -->
<path d="M348.3 182.4 L374 191.3 L376.8 197.3 L375.9 215 L368.9 219.8 L340.9 210.9 L349.3 206.7 Z" fill="#1d1d1d"/>
<path d="M352.1 191.3 L370.3 197.3 L367.5 203.9 L353 199.2 Z" fill="#8b8b8b"/>
<path d="M350.6 207.6 L355.4 208.6" stroke="#777" stroke-width="0.8"/>
<!-- front (bottom) face -->
<path d="M386.8 220.6 L460 244 Q463.6 245.2 461.6 247.6 L426.6 286.6 Q425 288.6 422.6 287.8 L348.7 262.8 Z" fill="url(#gf)"/>
<!-- ridges -->
<g stroke="#131313" stroke-width="1.5" fill="none"><path d="M391.3 222.1 L355.7 265.2"/><path d="M395.7 223.5 L362.7 267.5"/><path d="M400.2 225.0 L369.7 269.9"/><path d="M404.7 226.4 L376.7 272.3"/></g>
<g stroke="#383838" stroke-width="0.9" fill="none"><path d="M392.7 222.5 L357.5 265.8"/><path d="M397.2 224.0 L364.5 268.1"/><path d="M401.6 225.4 L371.5 270.5"/><path d="M406.1 226.9 L378.5 272.9"/></g>
<!-- beige logo + model text -->
<g transform="translate(418 259.5) rotate(-39)">
<ellipse cx="0" cy="0" rx="15.2" ry="6.4" fill="#a69a80"/>
<text x="0" y="2.6" font-family="'Liberation Sans', sans-serif" font-weight="bold" font-size="7" text-anchor="middle" fill="#2a2622" textLength="21" lengthAdjust="spacingAndGlyphs">FUWEI</text>
</g>
<text transform="translate(417.6 283) rotate(-45.5)" font-family="'Liberation Sans', sans-serif" font-weight="bold" font-size="6" fill="#a39778" textLength="44" lengthAdjust="spacingAndGlyphs">FK0Z4-Z6NP-S</text>
<!-- top face -->
<path d="M378.5 129.2 L450.6 155.4 Q453.6 156.5 454 159.6 L463.2 242 Q463.4 245 460.5 244.2 L386.8 220.6 Z" fill="url(#gt)"/>
<path d="M378.7 129.6 L386.9 220.4" stroke="#5a5a5a" stroke-width="0.8" fill="none"/>
<path d="M386.8 220.6 L460.5 244.2" stroke="#4c4c4c" stroke-width="0.8" fill="none"/>
<!-- display -->
<path d="M410.4 192 L449.6 205.3 Q450.5 205.6 450.6 206.6 L451.7 226 Q451.7 227.2 450.6 226.8 L412.8 214.6 Q412 214.3 411.9 213.4 L409.6 192.8 Q409.5 191.7 410.4 192 Z" fill="#2b2b2b"/>
<!-- gauge arc, led, tiny labels -->
<path d="M410.8 158.2 C 405.5 164, 406.5 177, 416.5 183.5" fill="none" stroke="#858585" stroke-width="1.1"/>
<path d="M416.4 162 C 411.5 166, 411.5 173, 414.6 178" fill="none" stroke="#707070" stroke-width="1"/>
<ellipse cx="419.3" cy="173.6" rx="1.9" ry="1.3" transform="rotate(25 419.3 173.6)" fill="#f08a2c"/>
<g stroke="#e2e2e2" stroke-width="2.3" fill="none" stroke-dasharray="1.4 0.45">
<path d="M417.5 159.5 L419 166"/>
<path d="M420 182 L421.3 188"/>
</g>
<g stroke="#dedede" stroke-width="2.5" fill="none" stroke-dasharray="1.4 0.45">
<path d="M432.6 169.6 L435.6 186.6"/>
<path d="M439.6 182 L441.2 188"/>
<path d="M444 182 L446 189.4"/>
<path d="M448.8 185 L451.2 191.6"/>
</g>
<g fill="#cfcfcf">
<rect x="434.2" y="190.4" width="2.6" height="2.6" transform="rotate(15 435.5 191.7)"/>
<rect x="439.6" y="191.6" width="2.6" height="2.6" transform="rotate(15 440.9 192.9)"/>
<rect x="444.6" y="193.4" width="2.6" height="2.6" transform="rotate(15 445.9 194.7)"/>
<rect x="449.8" y="196" width="2.6" height="2.6" transform="rotate(15 451.1 197.3)"/>
</g>
<!-- blue logo -->
<g transform="translate(401.2 209.6) rotate(76)">
<ellipse cx="0" cy="0" rx="9.6" ry="4.2" fill="#1d4fd6"/>
<text x="0" y="1.7" font-family="'Liberation Sans', sans-serif" font-weight="bold" font-style="italic" font-size="4.6" text-anchor="middle" fill="#ffffff" textLength="13" lengthAdjust="spacingAndGlyphs">FUWEI</text>
</g>
<g transform="translate(393.4 136.6) rotate(84.1)" fill="#e6e6e6"><rect x="0.40" y="-4.30" width="7.19" height="1.53"/><rect x="0.40" y="-1.75" width="7.19" height="1.41"/><rect x="0.85" y="0.80" width="6.30" height="1.41"/><rect x="0.40" y="3.12" width="7.19" height="1.53"/><rect x="3.31" y="-4.30" width="1.48" height="8.83"/><rect x="0.40" y="-1.75" width="1.37" height="6.05"/><rect x="8.96" y="-3.95" width="2.49" height="1.41"/><rect x="9.63" y="-2.44" width="1.37" height="6.98"/><rect x="11.87" y="-4.30" width="4.51" height="1.53"/><rect x="11.87" y="-1.52" width="4.51" height="1.41"/><rect x="13.33" y="-4.30" width="1.48" height="8.83"/><rect x="11.65" y="3.01" width="4.73" height="1.53"/><rect x="8.96" y="3.24" width="2.71" height="1.41"/><rect x="17.52" y="-4.07" width="1.82" height="1.64"/><rect x="17.52" y="-1.28" width="1.82" height="1.64"/><rect x="17.52" y="2.20" width="2.04" height="1.87"/><rect x="20.21" y="-3.84" width="4.73" height="1.53"/><rect x="20.21" y="-1.28" width="4.73" height="1.41"/><rect x="21.78" y="-3.84" width="1.48" height="8.37"/><rect x="19.98" y="1.04" width="4.95" height="1.41"/><rect x="20.21" y="3.12" width="4.73" height="1.53"/><rect x="26.98" y="-4.30" width="1.48" height="8.83"/><rect x="26.08" y="-1.98" width="3.16" height="1.41"/><rect x="29.22" y="-3.60" width="4.28" height="1.53"/><rect x="30.56" y="-3.60" width="1.48" height="4.43"/><rect x="28.99" y="-0.36" width="4.73" height="1.41"/><rect x="29.44" y="1.50" width="1.37" height="3.03"/><rect x="31.90" y="1.50" width="1.37" height="3.03"/><rect x="28.77" y="3.12" width="4.95" height="1.53"/><rect x="35.54" y="-4.30" width="1.48" height="8.83"/><rect x="34.64" y="-1.98" width="2.94" height="1.41"/><rect x="37.78" y="-4.07" width="4.28" height="1.41"/><rect x="37.55" y="-1.75" width="4.73" height="1.41"/><rect x="39.12" y="-4.07" width="1.48" height="4.89"/><rect x="37.55" y="0.80" width="4.73" height="1.41"/><rect x="38.45" y="1.96" width="3.16" height="1.41"/><rect x="37.55" y="3.12" width="4.28" height="1.53"/><rect x="43.20" y="-4.30" width="7.19" height="1.53"/><rect x="43.43" y="-4.30" width="1.37" height="4.43"/><rect x="44.77" y="-1.98" width="5.63" height="1.41"/><rect x="43.20" y="-0.12" width="7.19" height="1.41"/><rect x="43.87" y="1.50" width="1.37" height="3.03"/><rect x="45.67" y="1.50" width="2.71" height="1.41"/><rect x="45.89" y="3.12" width="3.16" height="1.53"/><rect x="49.25" y="1.50" width="1.37" height="3.03"/><rect x="51.76" y="-4.30" width="3.16" height="3.27"/><rect x="55.57" y="-4.30" width="3.39" height="3.27"/><rect x="51.76" y="-0.36" width="7.19" height="1.53"/><rect x="54.67" y="-1.05" width="1.48" height="3.27"/><rect x="51.76" y="1.50" width="3.16" height="3.03"/><rect x="55.57" y="1.50" width="3.39" height="3.03"/></g>
<!-- BOXES -->

<rect x="60" y="779.5" width="149.5" height="104" rx="4" fill="#c44711"/>
<rect x="221" y="779.5" width="149.5" height="104" rx="4" fill="#2d32f7"/>
<rect x="380" y="779.5" width="149.5" height="104" rx="4" fill="#050505"/>
<rect x="539.5" y="779.5" width="149" height="104" rx="4" fill="#ffffff" stroke="#2a2a2a" stroke-width="1.1"/>
<g font-family="'Liberation Sans', sans-serif" font-weight="bold" text-anchor="middle">
<g fill="#fff" stroke="none">
<text x="134.8" y="823" font-size="23.8" textLength="35" lengthAdjust="spacingAndGlyphs">BN</text>
<rect x="99" y="832.5" width="70" height="2"/>
<text x="134.5" y="860" font-size="23" textLength="119" lengthAdjust="spacingAndGlyphs">12~24VDC</text>
<text x="295.7" y="823" font-size="23.8" textLength="36" lengthAdjust="spacingAndGlyphs">BU</text>
<rect x="260.5" y="832.5" width="70" height="2"/>
<text x="295.5" y="860" font-size="23" textLength="29" lengthAdjust="spacingAndGlyphs">0V</text>
<text x="454.8" y="823" font-size="23.8" textLength="36" lengthAdjust="spacingAndGlyphs">BK</text>
<rect x="419.3" y="832.5" width="70" height="2"/>
<text x="454.8" y="860.2" font-size="17" textLength="118" lengthAdjust="spacingAndGlyphs">NPN OUTPUT</text>
</g>
<g fill="#111">
<text x="614.5" y="823" font-size="23.8" textLength="42" lengthAdjust="spacingAndGlyphs">WH</text>
<rect x="578.5" y="832.5" width="69.5" height="2"/>
<text x="613" y="860.2" font-size="17" textLength="115" lengthAdjust="spacingAndGlyphs">PNP OUTPUT</text>
</g>
</g>

<!-- SCHEMATIC -->

<g fill="none" stroke="#231815" stroke-width="2.3" stroke-linejoin="miter">
<rect x="77.2" y="951" width="237.2" height="208"/>
<path d="M158.8 951 V1159"/>
<path d="M314.4 976.2 H570.4 M314.4 1014 H483 V1004.5 M483 976.2 V985.3"/>
<rect x="459" y="985.3" width="48" height="19.2"/>
<path d="M459 1004.5 L507 985.3"/>
<path d="M314.4 1095.5 H483 V1104.8 M314.4 1133.8 H570.4 M483 1133.8 V1124"/>
<rect x="459" y="1104.8" width="48" height="19.2"/>
<path d="M459 1124 L507 1104.8"/>
<path d="M118.4 1060.8 L144 1086.4 L118.4 1112 L92.6 1086.4 Z"/>
<path d="M111.3 1068 V1105 M125.3 1068 V1105"/>
</g>
<g font-family="'Liberation Sans', sans-serif" fill="#231815" font-size="19.6" lengthAdjust="spacingAndGlyphs">
<text x="118.4" y="1053.4" font-size="25.8" text-anchor="middle">U</text>
<text x="323.3" y="971.2" textLength="25.2" lengthAdjust="spacingAndGlyphs">BN</text>
<text x="323.3" y="1009.7" textLength="24.2" lengthAdjust="spacingAndGlyphs">BK</text>
<text x="323.3" y="1090.8" textLength="30.2" lengthAdjust="spacingAndGlyphs">WH</text>
<text x="323.3" y="1129.2" textLength="25.2" lengthAdjust="spacingAndGlyphs">BU</text>
<text x="492.8" y="1028" textLength="38.4" lengthAdjust="spacingAndGlyphs">NPN</text>
<text x="492.8" y="1099.5" textLength="37.4" lengthAdjust="spacingAndGlyphs">PNP</text>
<text x="580.3" y="982.6" textLength="89.6" lengthAdjust="spacingAndGlyphs">12~24V DC</text>
<text x="579.8" y="1140" textLength="22.2" lengthAdjust="spacingAndGlyphs">0V</text>
</g>

</svg>
</body></html>
